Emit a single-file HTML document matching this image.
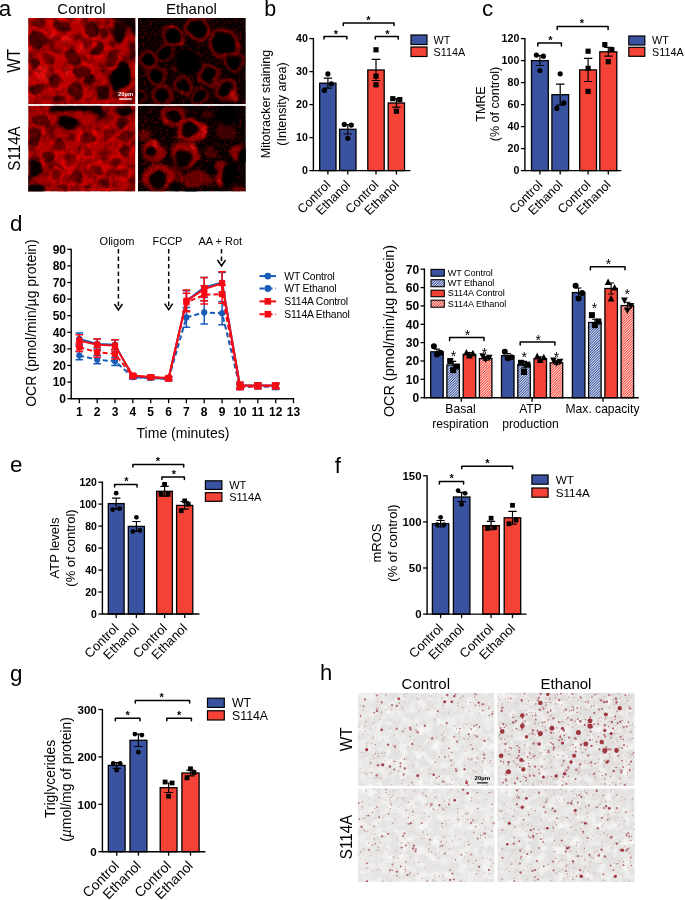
<!DOCTYPE html>
<html lang="en"><head><meta charset="utf-8"><title>Figure</title>
<style>html,body{margin:0;padding:0;background:#fff}svg{display:block}text{font-family:"Liberation Sans",sans-serif}</style>
</head><body>
<svg width="685" height="900" viewBox="0 0 685 900" font-family="'Liberation Sans', sans-serif" fill="#000">
<defs>
<filter id="b1" x="-30%" y="-30%" width="160%" height="160%"><feGaussianBlur stdDeviation="0.9"/></filter>
<filter id="b2" x="-40%" y="-40%" width="180%" height="180%"><feGaussianBlur stdDeviation="1.6"/></filter>
<filter id="b0" x="-5%" y="-5%" width="110%" height="110%"><feGaussianBlur stdDeviation="0.35"/></filter>
<filter id="htex" x="0" y="0" width="100%" height="100%"><feTurbulence type="fractalNoise" baseFrequency="0.12" numOctaves="3" seed="8"/><feColorMatrix type="matrix" values="0 0 0 0 1  0 0 0 0 1  0 0 0 0 1  1.6 0 0 0 -0.62"/></filter>
<filter id="mottle" x="0" y="0" width="100%" height="100%"><feTurbulence type="fractalNoise" baseFrequency="0.11" numOctaves="3" seed="21"/><feColorMatrix type="matrix" values="0 0 0 0 0  0 0 0 0 0  0 0 0 0 0  2.4 0 0 0 -0.95"/></filter>
<filter id="speck" x="0" y="0" width="100%" height="100%"><feTurbulence type="fractalNoise" baseFrequency="0.42" numOctaves="2" seed="9"/><feColorMatrix type="matrix" values="0 0 0 0 0.85  0 0 0 0 0  0 0 0 0 0  3.2 0 0 0 -1.75"/></filter>
<filter id="warp" x="-5%" y="-5%" width="110%" height="110%"><feTurbulence type="fractalNoise" baseFrequency="0.07" numOctaves="2" seed="5" result="t"/><feColorMatrix in="t" type="matrix" values="1 0 0 0 0  0 1 0 0 0  0 0 1 0 0  0 0 0 0 1" result="t2"/><feGaussianBlur in="t2" stdDeviation="1.6" result="t3"/><feDisplacementMap in="SourceGraphic" in2="t3" scale="9" xChannelSelector="R" yChannelSelector="G"/></filter>
<filter id="grain" x="0" y="0" width="100%" height="100%"><feTurbulence type="fractalNoise" baseFrequency="0.55" numOctaves="2" seed="3" result="n"/><feColorMatrix type="matrix" values="0 0 0 0 0  0 0 0 0 0  0 0 0 0 0  2.2 0 0 0 -0.75"/></filter>
<pattern id="hb" width="1.8" height="1.8" patternUnits="userSpaceOnUse" patternTransform="rotate(-45)"><rect width="1.8" height="1.8" fill="#fff"/><rect width="1.8" height="1.05" fill="#3A53A0"/></pattern>
<pattern id="hr" width="1.8" height="1.8" patternUnits="userSpaceOnUse" patternTransform="rotate(-45)"><rect width="1.8" height="1.8" fill="#fff"/><rect width="1.8" height="1.05" fill="#F44336"/></pattern>
</defs>
<rect width="685" height="900" fill="#fff"/>
<text x="81.5" y="14" font-size="15" text-anchor="middle">Control</text>
<text x="191.5" y="14" font-size="15" text-anchor="middle">Ethanol</text>
<text transform="translate(20.4,60.7) rotate(-90) scale(1,1.13)" font-size="15.5" text-anchor="middle">WT</text>
<text transform="translate(20,148.5) rotate(-90) scale(1,1.13)" font-size="15.2" text-anchor="middle">S114A</text>
<svg x="28.2" y="18" width="107.2" height="86.19999999999999" viewBox="0 0 107.2 86.19999999999999" overflow="hidden">
<rect width="107.2" height="86.19999999999999" fill="#c00000"/>
<g filter="url(#warp)">
<ellipse cx="8.9" cy="22.2" rx="11.4" ry="12.4" fill="#ff0000" opacity="0.8" filter="url(#b1)"/>
<ellipse cx="12.3" cy="4.5" rx="9.7" ry="7.1" fill="#ff0000" opacity="0.6" filter="url(#b1)"/>
<ellipse cx="34.9" cy="7.9" rx="11.1" ry="10.1" fill="#ff0000" opacity="0.8" filter="url(#b1)"/>
<ellipse cx="63.5" cy="11.2" rx="10.1" ry="11.1" fill="#ff0000" opacity="0.8" filter="url(#b1)"/>
<ellipse cx="76.5" cy="15.8" rx="6.7" ry="8.7" fill="#ff0000" opacity="0.6" filter="url(#b1)"/>
<ellipse cx="21.5" cy="39.8" rx="8.7" ry="8.7" fill="#ff0000" opacity="0.6" filter="url(#b1)"/>
<ellipse cx="45.0" cy="39.8" rx="10.4" ry="10.4" fill="#ff0000" opacity="0.8" filter="url(#b1)"/>
<ellipse cx="68.8" cy="31.4" rx="11.8" ry="8.1" fill="#ff0000" opacity="0.9" filter="url(#b1)" transform="rotate(-35 68.8 31.4)"/>
<ellipse cx="84.9" cy="39.8" rx="7.7" ry="11.1" fill="#ff0000" opacity="0.8" filter="url(#b1)" transform="rotate(25 84.9 39.8)"/>
<ellipse cx="6.4" cy="46.5" rx="7.4" ry="8.4" fill="#ff0000" opacity="0.6" filter="url(#b1)"/>
<ellipse cx="53.4" cy="53.2" rx="11.4" ry="9.7" fill="#ff0000" opacity="0.85" filter="url(#b1)"/>
<ellipse cx="26.5" cy="63.3" rx="9.4" ry="10.1" fill="#ff0000" opacity="0.8" filter="url(#b1)"/>
<ellipse cx="62.6" cy="61.9" rx="8.1" ry="7.1" fill="#ff0000" opacity="0.5" filter="url(#b1)"/>
<ellipse cx="8.1" cy="71.2" rx="9.7" ry="8.1" fill="#ff0000" opacity="0.7" filter="url(#b1)"/>
<ellipse cx="46.7" cy="72.0" rx="10.1" ry="11.1" fill="#ff0000" opacity="0.8" filter="url(#b1)"/>
<ellipse cx="74.4" cy="73.7" rx="8.7" ry="10.4" fill="#ff0000" opacity="0.6" filter="url(#b1)"/>
<ellipse cx="29.9" cy="81.4" rx="8.4" ry="5.7" fill="#ff0000" opacity="0.6" filter="url(#b1)"/>
<ellipse cx="90.3" cy="77.2" rx="6.7" ry="6.4" fill="#ff0000" opacity="0.5" filter="url(#b1)"/>
<ellipse cx="8.9" cy="22.2" rx="8.5" ry="9.6" fill="#2a0000" opacity="0.76" filter="url(#b1)"/>
<ellipse cx="12.3" cy="4.5" rx="7.4" ry="4.4" fill="#2a0000" opacity="0.6100000000000001" filter="url(#b1)"/>
<ellipse cx="34.9" cy="7.9" rx="8.1" ry="7.0" fill="#2a0000" opacity="0.71" filter="url(#b1)"/>
<ellipse cx="63.5" cy="11.2" rx="7.4" ry="8.5" fill="#2a0000" opacity="0.76" filter="url(#b1)"/>
<ellipse cx="76.5" cy="15.8" rx="4.8" ry="7.0" fill="#2a0000" opacity="0.6599999999999999" filter="url(#b1)"/>
<ellipse cx="21.5" cy="39.8" rx="6.3" ry="6.3" fill="#2a0000" opacity="0.56" filter="url(#b1)"/>
<ellipse cx="45.0" cy="39.8" rx="7.4" ry="7.4" fill="#2a0000" opacity="0.71" filter="url(#b1)"/>
<ellipse cx="68.8" cy="31.4" rx="9.2" ry="5.2" fill="#2a0000" opacity="0.81" filter="url(#b1)" transform="rotate(-35 68.8 31.4)"/>
<ellipse cx="84.9" cy="39.8" rx="5.2" ry="8.9" fill="#2a0000" opacity="0.71" filter="url(#b1)" transform="rotate(25 84.9 39.8)"/>
<ellipse cx="6.4" cy="46.5" rx="5.2" ry="6.3" fill="#2a0000" opacity="0.76" filter="url(#b1)"/>
<ellipse cx="53.4" cy="53.2" rx="8.5" ry="6.6" fill="#2a0000" opacity="0.71" filter="url(#b1)"/>
<ellipse cx="26.5" cy="63.3" rx="6.6" ry="7.4" fill="#2a0000" opacity="0.6599999999999999" filter="url(#b1)"/>
<ellipse cx="62.6" cy="61.9" rx="6.3" ry="5.2" fill="#2a0000" opacity="0.9099999999999999" filter="url(#b1)"/>
<ellipse cx="8.1" cy="71.2" rx="7.4" ry="5.5" fill="#2a0000" opacity="0.6599999999999999" filter="url(#b1)"/>
<ellipse cx="46.7" cy="72.0" rx="7.4" ry="8.5" fill="#2a0000" opacity="0.71" filter="url(#b1)"/>
<ellipse cx="74.4" cy="73.7" rx="6.6" ry="8.5" fill="#2a0000" opacity="0.9099999999999999" filter="url(#b1)"/>
<ellipse cx="29.9" cy="81.4" rx="6.6" ry="3.7" fill="#2a0000" opacity="0.76" filter="url(#b1)"/>
<ellipse cx="90.3" cy="77.2" rx="5.2" ry="4.8" fill="#2a0000" opacity="0.6599999999999999" filter="url(#b1)"/>
<ellipse cx="15.1" cy="55.7" rx="8.1" ry="8.1" fill="#ff0a0a" opacity="0.85" filter="url(#b2)"/>
<ellipse cx="35.8" cy="22.2" rx="5.0" ry="5.0" fill="#ff0a0a" opacity="0.85" filter="url(#b2)"/>
<ellipse cx="51.7" cy="2.0" rx="3.7" ry="3.7" fill="#ff0a0a" opacity="0.85" filter="url(#b2)"/>
<ellipse cx="38.3" cy="53.2" rx="3.7" ry="3.7" fill="#ff0a0a" opacity="0.85" filter="url(#b2)"/>
<ellipse cx="23.2" cy="17.1" rx="3.7" ry="3.7" fill="#ff0a0a" opacity="0.85" filter="url(#b2)"/>
<ellipse cx="55.1" cy="28.9" rx="3.4" ry="3.4" fill="#ff0a0a" opacity="0.85" filter="url(#b2)"/>
<ellipse cx="91.2" cy="13.8" rx="7.1" ry="9.7" fill="#0a0000" opacity="0.92" filter="url(#b1)" transform="rotate(10 91.2 13.8)"/>
<path d="M78.6 -2H109.2V25.2Q103.7 6.7 78.6 -2Z" fill="#000" opacity=".9" filter="url(#b2)"/>
<ellipse cx="103.7" cy="35.6" rx="4.2" ry="10.1" fill="#200000" opacity="0.6" filter="url(#b2)"/>
<ellipse cx="92.8" cy="58.8" rx="10.4" ry="15.4" fill="#040000" opacity="1" filter="url(#b1)" transform="rotate(18 92.8 58.8)"/>
</g>
<rect width="107.2" height="86.19999999999999" filter="url(#mottle)" opacity=".55"/>
<rect width="107.2" height="86.19999999999999" fill="#000" filter="url(#grain)" opacity=".14"/>
<rect x="91" y="80.4" width="12.7" height="1.3" fill="#fff"/>
<text x="97.4" y="78.4" font-size="5.8" font-weight="bold" fill="#fff" text-anchor="middle">20µm</text>
</svg>
<svg x="138.0" y="18" width="107.8" height="86.19999999999999" viewBox="0 0 107.8 86.19999999999999" overflow="hidden">
<rect width="107.8" height="86.19999999999999" fill="#0a0000"/>
<g filter="url(#warp)">
<ellipse cx="34.4" cy="18.8" rx="12.3" ry="11.8" fill="#900000" opacity="0.36" filter="url(#b2)"/>
<ellipse cx="59.6" cy="11.2" rx="14.1" ry="13.4" fill="#900000" opacity="0.36" filter="url(#b2)"/>
<ellipse cx="86.5" cy="25.5" rx="16.7" ry="15.9" fill="#900000" opacity="0.36" filter="url(#b2)"/>
<ellipse cx="28.5" cy="34.7" rx="9.7" ry="9.2" fill="#900000" opacity="0.36" filter="url(#b2)"/>
<ellipse cx="10.1" cy="42.3" rx="11.5" ry="10.9" fill="#900000" opacity="0.36" filter="url(#b2)"/>
<ellipse cx="50.4" cy="44.0" rx="12.7" ry="12.1" fill="#900000" opacity="0.36" filter="url(#b2)"/>
<ellipse cx="95.7" cy="44.0" rx="10.6" ry="10.1" fill="#900000" opacity="0.36" filter="url(#b2)"/>
<ellipse cx="71.3" cy="56.6" rx="12.3" ry="11.8" fill="#900000" opacity="0.36" filter="url(#b2)"/>
<ellipse cx="18.5" cy="58.3" rx="10.6" ry="10.1" fill="#900000" opacity="0.36" filter="url(#b2)"/>
<ellipse cx="45.3" cy="66.6" rx="10.6" ry="10.1" fill="#900000" opacity="0.36" filter="url(#b2)"/>
<ellipse cx="24.3" cy="77.6" rx="11.5" ry="10.9" fill="#900000" opacity="0.36" filter="url(#b2)"/>
<ellipse cx="61.3" cy="79.2" rx="9.7" ry="9.2" fill="#900000" opacity="0.36" filter="url(#b2)"/>
<ellipse cx="87.3" cy="72.5" rx="12.3" ry="11.8" fill="#900000" opacity="0.36" filter="url(#b2)"/>
<ellipse cx="1.7" cy="79.2" rx="7.9" ry="7.6" fill="#900000" opacity="0.36" filter="url(#b2)"/>
<ellipse cx="34.4" cy="18.8" rx="10.1" ry="9.6" fill="none" stroke="#d00404" stroke-width="2.4" opacity="0.5" filter="url(#b1)"/>
<ellipse cx="59.6" cy="11.2" rx="11.3" ry="10.8" fill="none" stroke="#d00404" stroke-width="2.9" opacity="0.5" filter="url(#b1)"/>
<ellipse cx="86.5" cy="25.5" rx="14.0" ry="13.3" fill="none" stroke="#d00404" stroke-width="2.7" opacity="0.5" filter="url(#b1)"/>
<ellipse cx="28.5" cy="34.7" rx="8.1" ry="7.7" fill="none" stroke="#d00404" stroke-width="1.5" opacity="0.5" filter="url(#b1)"/>
<ellipse cx="10.1" cy="42.3" rx="9.2" ry="8.8" fill="none" stroke="#d00404" stroke-width="2.4" opacity="0.5" filter="url(#b1)"/>
<ellipse cx="50.4" cy="44.0" rx="12.9" ry="12.3" fill="none" stroke="#d00404" stroke-width="-1.2" opacity="0.5" filter="url(#b1)"/>
<ellipse cx="95.7" cy="44.0" rx="8.8" ry="8.4" fill="none" stroke="#d00404" stroke-width="1.8" opacity="0.5" filter="url(#b1)"/>
<ellipse cx="71.3" cy="56.6" rx="9.7" ry="9.2" fill="none" stroke="#d00404" stroke-width="2.9" opacity="0.5" filter="url(#b1)"/>
<ellipse cx="18.5" cy="58.3" rx="8.6" ry="8.1" fill="none" stroke="#d00404" stroke-width="2.1" opacity="0.5" filter="url(#b1)"/>
<ellipse cx="45.3" cy="66.6" rx="8.4" ry="8.0" fill="none" stroke="#d00404" stroke-width="2.4" opacity="0.5" filter="url(#b1)"/>
<ellipse cx="24.3" cy="77.6" rx="9.2" ry="8.8" fill="none" stroke="#d00404" stroke-width="2.4" opacity="0.5" filter="url(#b1)"/>
<ellipse cx="61.3" cy="79.2" rx="8.0" ry="7.6" fill="none" stroke="#d00404" stroke-width="1.8" opacity="0.5" filter="url(#b1)"/>
<ellipse cx="87.3" cy="72.5" rx="9.7" ry="9.2" fill="none" stroke="#d00404" stroke-width="2.9" opacity="0.5" filter="url(#b1)"/>
<ellipse cx="1.7" cy="79.2" rx="6.7" ry="6.4" fill="none" stroke="#d00404" stroke-width="1.2" opacity="0.5" filter="url(#b1)"/>
<ellipse cx="42.0" cy="25.5" rx="2.4" ry="2.4" fill="#ff0808" opacity="0.65" filter="url(#b2)"/>
<ellipse cx="99.0" cy="27.2" rx="2.4" ry="2.4" fill="#ff0808" opacity="0.65" filter="url(#b2)"/>
<ellipse cx="96.5" cy="78.4" rx="5.0" ry="5.0" fill="#ff0808" opacity="0.65" filter="url(#b2)"/>
<ellipse cx="58.8" cy="38.1" rx="3.4" ry="3.4" fill="#ff0808" opacity="0.65" filter="url(#b2)"/>
<ellipse cx="68.0" cy="14.6" rx="2.7" ry="2.7" fill="#ff0808" opacity="0.65" filter="url(#b2)"/>
<ellipse cx="34.4" cy="9.1" rx="2.7" ry="2.7" fill="#ff0808" opacity="0.65" filter="url(#b2)"/>
<ellipse cx="76.4" cy="20.5" rx="2.4" ry="2.4" fill="#ff0808" opacity="0.65" filter="url(#b2)"/>
<ellipse cx="35.3" cy="52.4" rx="2.0" ry="2.0" fill="#ff0808" opacity="0.65" filter="url(#b2)"/>
<rect x="-5" y="-5" width="117.2" height="95.6" filter="url(#speck)" opacity=".5"/>
<ellipse cx="34.4" cy="18.8" rx="8.2" ry="7.8" fill="#000" opacity="0.96" filter="url(#b1)"/>
<ellipse cx="59.6" cy="11.2" rx="9.0" ry="8.6" fill="#000" opacity="0.96" filter="url(#b1)"/>
<ellipse cx="86.5" cy="25.5" rx="11.8" ry="11.2" fill="#000" opacity="0.96" filter="url(#b1)"/>
<ellipse cx="28.5" cy="34.7" rx="6.9" ry="6.6" fill="#000" opacity="0.96" filter="url(#b1)"/>
<ellipse cx="10.1" cy="42.3" rx="7.4" ry="7.0" fill="#000" opacity="0.96" filter="url(#b1)"/>
<ellipse cx="50.4" cy="44.0" rx="13.5" ry="12.8" fill="#000" opacity="0.96" filter="url(#b1)"/>
<ellipse cx="95.7" cy="44.0" rx="7.4" ry="7.0" fill="#000" opacity="0.96" filter="url(#b1)"/>
<ellipse cx="71.3" cy="56.6" rx="7.4" ry="7.0" fill="#000" opacity="0.96" filter="url(#b1)"/>
<ellipse cx="18.5" cy="58.3" rx="6.9" ry="6.6" fill="#000" opacity="0.96" filter="url(#b1)"/>
<ellipse cx="45.3" cy="66.6" rx="6.6" ry="6.2" fill="#000" opacity="0.96" filter="url(#b1)"/>
<ellipse cx="24.3" cy="77.6" rx="7.4" ry="7.0" fill="#000" opacity="0.96" filter="url(#b1)"/>
<ellipse cx="61.3" cy="79.2" rx="6.6" ry="6.2" fill="#000" opacity="0.96" filter="url(#b1)"/>
<ellipse cx="87.3" cy="72.5" rx="7.4" ry="7.0" fill="#000" opacity="0.96" filter="url(#b1)"/>
<ellipse cx="1.7" cy="79.2" rx="5.8" ry="5.5" fill="#000" opacity="0.96" filter="url(#b1)"/>
</g>
<rect width="107.8" height="86.19999999999999" fill="#000" filter="url(#grain)" opacity=".4"/>
</svg>
<svg x="28.2" y="105.7" width="107.2" height="85.8" viewBox="0 0 107.2 85.8" overflow="hidden">
<rect width="107.2" height="85.8" fill="#b80000"/>
<g filter="url(#warp)">
<ellipse cx="6.4" cy="31.9" rx="9.7" ry="11.4" fill="#ff0000" opacity="0.8" filter="url(#b1)"/>
<ellipse cx="60.1" cy="32.4" rx="10.4" ry="9.4" fill="#ff0000" opacity="0.95" filter="url(#b1)"/>
<ellipse cx="41.6" cy="53.4" rx="9.2" ry="9.2" fill="#ff0000" opacity="0.95" filter="url(#b1)"/>
<ellipse cx="59.3" cy="46.7" rx="8.6" ry="6.9" fill="#ff0000" opacity="0.9" filter="url(#b1)"/>
<ellipse cx="80.2" cy="29.9" rx="7.7" ry="8.6" fill="#ff0000" opacity="0.8" filter="url(#b1)"/>
<ellipse cx="97.0" cy="29.9" rx="9.4" ry="8.6" fill="#ff0000" opacity="0.8" filter="url(#b1)"/>
<ellipse cx="19.8" cy="51.7" rx="7.7" ry="8.6" fill="#ff0000" opacity="0.8" filter="url(#b1)"/>
<ellipse cx="28.2" cy="68.5" rx="7.7" ry="7.7" fill="#ff0000" opacity="0.8" filter="url(#b1)"/>
<ellipse cx="48.3" cy="70.2" rx="8.9" ry="8.9" fill="#ff0000" opacity="0.9" filter="url(#b1)"/>
<ellipse cx="70.2" cy="63.5" rx="8.9" ry="8.1" fill="#ff0000" opacity="0.9" filter="url(#b1)"/>
<ellipse cx="87.0" cy="56.7" rx="7.7" ry="7.7" fill="#ff0000" opacity="0.9" filter="url(#b1)"/>
<ellipse cx="95.4" cy="68.5" rx="7.7" ry="7.7" fill="#ff0000" opacity="0.9" filter="url(#b1)"/>
<ellipse cx="76.0" cy="76.9" rx="7.7" ry="8.6" fill="#ff0000" opacity="0.8" filter="url(#b1)"/>
<ellipse cx="97.0" cy="45.0" rx="8.6" ry="7.7" fill="#ff0000" opacity="0.8" filter="url(#b1)"/>
<ellipse cx="31.6" cy="40.3" rx="8.6" ry="9.4" fill="#ff0000" opacity="0.7" filter="url(#b1)"/>
<ellipse cx="34.9" cy="82.3" rx="7.1" ry="5.4" fill="#ff0000" opacity="0.7" filter="url(#b1)"/>
<ellipse cx="93.7" cy="16.5" rx="9.1" ry="8.2" fill="#ff0000" opacity="0.6" filter="url(#b1)"/>
<ellipse cx="13.1" cy="15.1" rx="10.7" ry="9.1" fill="#ff0000" opacity="0.5" filter="url(#b1)"/>
<ellipse cx="60.1" cy="81.1" rx="7.4" ry="5.7" fill="#ff0000" opacity="0.7" filter="url(#b1)"/>
<ellipse cx="6.4" cy="31.9" rx="7.0" ry="8.9" fill="#2a0000" opacity="0.71" filter="url(#b1)"/>
<ellipse cx="60.1" cy="32.4" rx="7.0" ry="5.9" fill="#2a0000" opacity="0.6100000000000001" filter="url(#b1)"/>
<ellipse cx="41.6" cy="53.4" rx="6.1" ry="6.1" fill="#2a0000" opacity="0.56" filter="url(#b1)"/>
<ellipse cx="59.3" cy="46.7" rx="6.1" ry="4.2" fill="#2a0000" opacity="0.56" filter="url(#b1)"/>
<ellipse cx="80.2" cy="29.9" rx="5.2" ry="6.1" fill="#2a0000" opacity="0.56" filter="url(#b1)"/>
<ellipse cx="97.0" cy="29.9" rx="7.0" ry="6.1" fill="#2a0000" opacity="0.6599999999999999" filter="url(#b1)"/>
<ellipse cx="19.8" cy="51.7" rx="5.2" ry="6.1" fill="#2a0000" opacity="0.6599999999999999" filter="url(#b1)"/>
<ellipse cx="28.2" cy="68.5" rx="5.2" ry="5.2" fill="#2a0000" opacity="0.6100000000000001" filter="url(#b1)"/>
<ellipse cx="48.3" cy="70.2" rx="6.1" ry="6.1" fill="#2a0000" opacity="0.6599999999999999" filter="url(#b1)"/>
<ellipse cx="70.2" cy="63.5" rx="6.1" ry="5.2" fill="#2a0000" opacity="0.6100000000000001" filter="url(#b1)"/>
<ellipse cx="87.0" cy="56.7" rx="5.2" ry="5.2" fill="#2a0000" opacity="0.56" filter="url(#b1)"/>
<ellipse cx="95.4" cy="68.5" rx="5.2" ry="5.2" fill="#2a0000" opacity="0.56" filter="url(#b1)"/>
<ellipse cx="76.0" cy="76.9" rx="5.2" ry="6.1" fill="#2a0000" opacity="0.6599999999999999" filter="url(#b1)"/>
<ellipse cx="97.0" cy="45.0" rx="6.1" ry="5.2" fill="#2a0000" opacity="0.6100000000000001" filter="url(#b1)"/>
<ellipse cx="31.6" cy="40.3" rx="6.1" ry="7.0" fill="#2a0000" opacity="0.6599999999999999" filter="url(#b1)"/>
<ellipse cx="34.9" cy="82.3" rx="5.2" ry="3.3" fill="#2a0000" opacity="0.6599999999999999" filter="url(#b1)"/>
<ellipse cx="93.7" cy="16.5" rx="7.0" ry="6.1" fill="#2a0000" opacity="0.76" filter="url(#b1)"/>
<ellipse cx="13.1" cy="15.1" rx="8.9" ry="7.0" fill="#2a0000" opacity="0.6599999999999999" filter="url(#b1)"/>
<ellipse cx="60.1" cy="81.1" rx="5.5" ry="3.7" fill="#2a0000" opacity="0.56" filter="url(#b1)"/>
<ellipse cx="34.9" cy="1.3" rx="10.1" ry="3.7" fill="#050000" opacity="0.95" filter="url(#b1)"/>
<ellipse cx="51.7" cy="2.7" rx="11.8" ry="3.4" fill="#050000" opacity="0.95" filter="url(#b1)"/>
<ellipse cx="68.5" cy="3.0" rx="8.4" ry="4.0" fill="#050000" opacity="0.9" filter="url(#b1)"/>
<ellipse cx="75.2" cy="8.9" rx="5.0" ry="5.0" fill="#050000" opacity="0.8" filter="url(#b1)"/>
<ellipse cx="26.5" cy="4.7" rx="4.2" ry="3.4" fill="#050000" opacity="0.8" filter="url(#b1)"/>
<ellipse cx="39.1" cy="17.3" rx="11.1" ry="7.1" fill="#050000" opacity="0.96" filter="url(#b1)"/>
<ellipse cx="97.0" cy="5.0" rx="7.7" ry="5.4" fill="#050000" opacity="0.92" filter="url(#b1)"/>
<ellipse cx="6.4" cy="62.1" rx="6.4" ry="8.7" fill="#050000" opacity="0.92" filter="url(#b1)"/>
<ellipse cx="7.2" cy="83.9" rx="10.1" ry="4.4" fill="#050000" opacity="0.95" filter="url(#b1)"/>
<ellipse cx="-0.3" cy="75.2" rx="3.4" ry="6.7" fill="#050000" opacity="0.8" filter="url(#b1)"/>
</g>
<rect width="107.2" height="85.8" filter="url(#mottle)" opacity=".5"/>
<rect width="107.2" height="85.8" fill="#000" filter="url(#grain)" opacity=".15"/>
</svg>
<svg x="138.0" y="105.7" width="107.8" height="85.8" viewBox="0 0 107.8 85.8" overflow="hidden">
<rect width="107.8" height="85.8" fill="#090000"/>
<g filter="url(#warp)">
<ellipse cx="36.1" cy="10.6" rx="12.1" ry="11.1" fill="#d00404" opacity="0.75" filter="url(#b2)"/>
<ellipse cx="53.7" cy="24.8" rx="14.8" ry="11.4" fill="#d00404" opacity="0.9" filter="url(#b2)"/>
<ellipse cx="15.1" cy="45.0" rx="12.1" ry="11.1" fill="#d00404" opacity="0.8" filter="url(#b2)"/>
<ellipse cx="47.0" cy="49.2" rx="14.3" ry="12.6" fill="#d00404" opacity="0.8" filter="url(#b2)"/>
<ellipse cx="20.1" cy="71.8" rx="15.9" ry="14.3" fill="#d00404" opacity="0.8" filter="url(#b2)"/>
<ellipse cx="58.8" cy="73.5" rx="15.1" ry="8.4" fill="#d00404" opacity="0.55" filter="url(#b2)"/>
<ellipse cx="83.1" cy="68.5" rx="7.6" ry="13.4" fill="#d00404" opacity="0.7" filter="url(#b2)"/>
<ellipse cx="99.0" cy="46.7" rx="7.6" ry="7.6" fill="#d00404" opacity="0.7" filter="url(#b2)"/>
<ellipse cx="73.9" cy="46.7" rx="6.7" ry="6.7" fill="#d00404" opacity="0.35" filter="url(#b2)"/>
<ellipse cx="89.0" cy="25.7" rx="10.1" ry="8.4" fill="#d00404" opacity="0.3" filter="url(#b2)"/>
<ellipse cx="6.7" cy="29.9" rx="6.7" ry="4.2" fill="#d00404" opacity="0.55" filter="url(#b2)"/>
<ellipse cx="36.9" cy="70.2" rx="8.4" ry="10.1" fill="#d00404" opacity="0.45" filter="url(#b2)"/>
<ellipse cx="100.7" cy="83.6" rx="6.7" ry="5.0" fill="#d00404" opacity="0.5" filter="url(#b2)"/>
<ellipse cx="70.5" cy="8.1" rx="6.7" ry="4.2" fill="#d00404" opacity="0.3" filter="url(#b2)"/>
<ellipse cx="64.6" cy="24.8" rx="3.7" ry="3.7" fill="#ff0a0a" opacity="0.7" filter="url(#b2)"/>
<ellipse cx="18.5" cy="36.6" rx="4.2" ry="4.2" fill="#ff0a0a" opacity="0.7" filter="url(#b2)"/>
<ellipse cx="55.4" cy="40.3" rx="3.7" ry="3.7" fill="#ff0a0a" opacity="0.7" filter="url(#b2)"/>
<ellipse cx="28.2" cy="15.1" rx="2.5" ry="2.5" fill="#ff0a0a" opacity="0.7" filter="url(#b2)"/>
<ellipse cx="81.4" cy="74.4" rx="2.7" ry="2.7" fill="#ff0a0a" opacity="0.7" filter="url(#b2)"/>
<ellipse cx="42.8" cy="32.4" rx="2.4" ry="2.4" fill="#ff0a0a" opacity="0.7" filter="url(#b2)"/>
<rect x="-5" y="-5" width="117.2" height="95.6" filter="url(#speck)" opacity=".55"/>
<ellipse cx="36.1" cy="10.6" rx="7.6" ry="7.6" fill="#000" opacity="0.95" filter="url(#b1)"/>
<ellipse cx="50.4" cy="24.8" rx="7.6" ry="7.6" fill="#000" opacity="0.95" filter="url(#b1)"/>
<ellipse cx="12.6" cy="46.7" rx="6.7" ry="5.9" fill="#000" opacity="0.95" filter="url(#b1)"/>
<ellipse cx="44.5" cy="52.5" rx="8.4" ry="8.4" fill="#000" opacity="0.95" filter="url(#b1)"/>
<ellipse cx="20.1" cy="74.4" rx="9.2" ry="10.1" fill="#000" opacity="0.95" filter="url(#b1)"/>
<ellipse cx="91.5" cy="70.2" rx="7.6" ry="11.8" fill="#000" opacity="0.95" filter="url(#b1)"/>
<ellipse cx="89.0" cy="8.1" rx="10.4" ry="8.4" fill="#000" opacity="0.95" filter="url(#b1)"/>
<ellipse cx="105.8" cy="51.7" rx="5.0" ry="8.4" fill="#000" opacity="0.95" filter="url(#b1)"/>
<ellipse cx="53.7" cy="85.3" rx="7.6" ry="5.0" fill="#000" opacity="0.95" filter="url(#b1)"/>
<ellipse cx="36.9" cy="81.9" rx="5.0" ry="5.0" fill="#000" opacity="0.95" filter="url(#b1)"/>
<ellipse cx="75.5" cy="61.8" rx="4.2" ry="5.9" fill="#000" opacity="0.95" filter="url(#b1)"/>
</g>
<rect width="107.8" height="85.8" fill="#000" filter="url(#grain)" opacity=".4"/>
</svg>
<text x="-1.2" y="15.5" font-size="22.4">a</text>
<text x="264.2" y="16" font-size="21.5">b</text>
<text x="482" y="15.8" font-size="22.4">c</text>
<text x="10.1" y="230.8" font-size="22.4">d</text>
<text x="10" y="472.2" font-size="22.4">e</text>
<text x="334.8" y="472.5" font-size="22.4">f</text>
<text x="9.9" y="680.5" font-size="22.4">g</text>
<text x="320" y="680" font-size="22">h</text>
<rect x="319.7" y="83.2" width="16.3" height="87.4" fill="#3A53A0" stroke="#000" stroke-width="1.3"/>
<path d="M327.9 78.2V88.1M323.7 78.2H332.1M323.7 88.1H332.1" stroke="#000" stroke-width="1.2" fill="none"/>
<path d="M327.9 170.6V174.6" stroke="#000" stroke-width="1.3"/>
<rect x="339.6" y="129.3" width="16.4" height="41.2" fill="#3A53A0" stroke="#000" stroke-width="1.3"/>
<path d="M347.8 124.7V134.0M343.6 124.7H352.0M343.6 134.0H352.0" stroke="#000" stroke-width="1.2" fill="none"/>
<path d="M347.8 170.6V174.6" stroke="#000" stroke-width="1.3"/>
<rect x="367.8" y="70.0" width="16.4" height="100.6" fill="#F44336" stroke="#000" stroke-width="1.3"/>
<path d="M376.0 59.4V80.5M371.8 59.4H380.2M371.8 80.5H380.2" stroke="#000" stroke-width="1.2" fill="none"/>
<path d="M376.0 170.6V174.6" stroke="#000" stroke-width="1.3"/>
<rect x="388.2" y="103.0" width="16.3" height="67.6" fill="#F44336" stroke="#000" stroke-width="1.3"/>
<path d="M396.4 98.7V107.2M392.2 98.7H400.6M392.2 107.2H400.6" stroke="#000" stroke-width="1.2" fill="none"/>
<path d="M396.4 170.6V174.6" stroke="#000" stroke-width="1.3"/>
<path d="M313.4 38.0V170.6H410.4" stroke="#000" stroke-width="1.4" fill="none"/>
<path d="M309.4 170.6H313.4" stroke="#000" stroke-width="1.3"/>
<text x="307.8" y="174.4" font-size="10.6" font-weight="bold" text-anchor="end">0</text>
<path d="M309.4 137.6H313.4" stroke="#000" stroke-width="1.3"/>
<text x="307.8" y="141.4" font-size="10.6" font-weight="bold" text-anchor="end">10</text>
<path d="M309.4 104.6H313.4" stroke="#000" stroke-width="1.3"/>
<text x="307.8" y="108.4" font-size="10.6" font-weight="bold" text-anchor="end">20</text>
<path d="M309.4 71.6H313.4" stroke="#000" stroke-width="1.3"/>
<text x="307.8" y="75.4" font-size="10.6" font-weight="bold" text-anchor="end">30</text>
<path d="M309.4 38.6H313.4" stroke="#000" stroke-width="1.3"/>
<text x="307.8" y="42.4" font-size="10.6" font-weight="bold" text-anchor="end">40</text>
<text transform="translate(331.2,185.6) rotate(-45)" font-size="12.6" text-anchor="end">Control</text>
<text transform="translate(351.1,185.6) rotate(-45)" font-size="12.6" text-anchor="end">Ethanol</text>
<text transform="translate(379.3,185.6) rotate(-45)" font-size="12.6" text-anchor="end">Control</text>
<text transform="translate(399.7,185.6) rotate(-45)" font-size="12.6" text-anchor="end">Ethanol</text>
<circle cx="327.9" cy="73.9" r="2.6" fill="#000"/>
<circle cx="331.4" cy="83.8" r="2.6" fill="#000"/>
<circle cx="324.4" cy="90.4" r="2.6" fill="#000"/>
<circle cx="344.3" cy="124.4" r="2.6" fill="#000"/>
<circle cx="351.3" cy="125.1" r="2.6" fill="#000"/>
<circle cx="347.8" cy="138.3" r="2.6" fill="#000"/>
<rect x="373.4" y="47.2" width="5.2" height="5.2" fill="#000"/>
<rect x="373.4" y="73.6" width="5.2" height="5.2" fill="#000"/>
<rect x="373.4" y="82.2" width="5.2" height="5.2" fill="#000"/>
<rect x="390.2" y="96.1" width="5.2" height="5.2" fill="#000"/>
<rect x="397.2" y="97.0" width="5.2" height="5.2" fill="#000"/>
<rect x="393.8" y="108.6" width="5.2" height="5.2" fill="#000"/>
<path d="M324.0 39.1V36.6H346.8V39.1" stroke="#000" stroke-width="1.5" stroke-linejoin="round" stroke-linecap="round" fill="none"/>
<text x="336.0" y="37.5" font-size="11" font-weight="bold" text-anchor="middle">*</text>
<path d="M343.3 25.6V23.1H394.0V25.6" stroke="#000" stroke-width="1.5" stroke-linejoin="round" stroke-linecap="round" fill="none"/>
<text x="368.3" y="24.1" font-size="11" font-weight="bold" text-anchor="middle">*</text>
<path d="M375.3 39.1V36.6H398.2V39.1" stroke="#000" stroke-width="1.5" stroke-linejoin="round" stroke-linecap="round" fill="none"/>
<text x="387.5" y="37.5" font-size="11" font-weight="bold" text-anchor="middle">*</text>
<rect x="411.0" y="35.0" width="16.0" height="9.5" fill="#3A53A0" stroke="#000" stroke-width="1.2"/>
<rect x="411.0" y="47.0" width="16.0" height="9.5" fill="#F44336" stroke="#000" stroke-width="1.2"/>
<text x="433.5" y="43.6" font-size="10.8">WT</text>
<text x="433.5" y="55.6" font-size="10.8">S114A</text>
<text transform="translate(270.0,104.0) rotate(-90)" font-size="12.5" text-anchor="middle">Mitotracker staining</text>
<text transform="translate(286.3,104.0) rotate(-90)" font-size="12.5" text-anchor="middle">(Intensity area)</text>
<rect x="531.5" y="60.6" width="16.8" height="110.0" fill="#3A53A0" stroke="#000" stroke-width="1.3"/>
<path d="M539.9 55.6V65.5M535.7 55.6H544.1M535.7 65.5H544.1" stroke="#000" stroke-width="1.2" fill="none"/>
<path d="M539.9 170.6V174.6" stroke="#000" stroke-width="1.3"/>
<rect x="551.9" y="94.7" width="16.7" height="75.9" fill="#3A53A0" stroke="#000" stroke-width="1.3"/>
<path d="M560.2 84.2V105.1M556.0 84.2H564.5M556.0 105.1H564.5" stroke="#000" stroke-width="1.2" fill="none"/>
<path d="M560.2 170.6V174.6" stroke="#000" stroke-width="1.3"/>
<rect x="579.7" y="69.9" width="16.8" height="100.7" fill="#F44336" stroke="#000" stroke-width="1.3"/>
<path d="M588.1 58.4V81.5M583.9 58.4H592.3M583.9 81.5H592.3" stroke="#000" stroke-width="1.2" fill="none"/>
<path d="M588.1 170.6V174.6" stroke="#000" stroke-width="1.3"/>
<rect x="599.8" y="51.8" width="17.0" height="118.8" fill="#F44336" stroke="#000" stroke-width="1.3"/>
<path d="M608.3 47.4V56.2M604.1 47.4H612.5M604.1 56.2H612.5" stroke="#000" stroke-width="1.2" fill="none"/>
<path d="M608.3 170.6V174.6" stroke="#000" stroke-width="1.3"/>
<path d="M524.9 38.0V170.6H621.3" stroke="#000" stroke-width="1.4" fill="none"/>
<path d="M520.9 170.6H524.9" stroke="#000" stroke-width="1.3"/>
<text x="519.3" y="174.4" font-size="10.6" font-weight="bold" text-anchor="end">0</text>
<path d="M520.9 148.6H524.9" stroke="#000" stroke-width="1.3"/>
<text x="519.3" y="152.4" font-size="10.6" font-weight="bold" text-anchor="end">20</text>
<path d="M520.9 126.6H524.9" stroke="#000" stroke-width="1.3"/>
<text x="519.3" y="130.4" font-size="10.6" font-weight="bold" text-anchor="end">40</text>
<path d="M520.9 104.6H524.9" stroke="#000" stroke-width="1.3"/>
<text x="519.3" y="108.4" font-size="10.6" font-weight="bold" text-anchor="end">60</text>
<path d="M520.9 82.6H524.9" stroke="#000" stroke-width="1.3"/>
<text x="519.3" y="86.4" font-size="10.6" font-weight="bold" text-anchor="end">80</text>
<path d="M520.9 60.6H524.9" stroke="#000" stroke-width="1.3"/>
<text x="519.3" y="64.4" font-size="10.6" font-weight="bold" text-anchor="end">100</text>
<path d="M520.9 38.6H524.9" stroke="#000" stroke-width="1.3"/>
<text x="519.3" y="42.4" font-size="10.6" font-weight="bold" text-anchor="end">120</text>
<text transform="translate(543.2,185.6) rotate(-45)" font-size="12.6" text-anchor="end">Control</text>
<text transform="translate(563.5,185.6) rotate(-45)" font-size="12.6" text-anchor="end">Ethanol</text>
<text transform="translate(591.4,185.6) rotate(-45)" font-size="12.6" text-anchor="end">Control</text>
<text transform="translate(611.6,185.6) rotate(-45)" font-size="12.6" text-anchor="end">Ethanol</text>
<circle cx="536.4" cy="55.1" r="2.6" fill="#000"/>
<circle cx="543.4" cy="56.2" r="2.6" fill="#000"/>
<circle cx="539.9" cy="70.5" r="2.6" fill="#000"/>
<circle cx="560.2" cy="73.8" r="2.6" fill="#000"/>
<circle cx="563.8" cy="102.9" r="2.6" fill="#000"/>
<circle cx="556.8" cy="108.4" r="2.6" fill="#000"/>
<rect x="585.5" y="48.6" width="5.2" height="5.2" fill="#000"/>
<rect x="585.5" y="65.7" width="5.2" height="5.2" fill="#000"/>
<rect x="585.5" y="88.8" width="5.2" height="5.2" fill="#000"/>
<rect x="602.2" y="42.0" width="5.2" height="5.2" fill="#000"/>
<rect x="609.2" y="47.0" width="5.2" height="5.2" fill="#000"/>
<rect x="605.7" y="59.1" width="5.2" height="5.2" fill="#000"/>
<path d="M537.8 45.9V42.9H561.4V45.9" stroke="#000" stroke-width="1.5" stroke-linejoin="round" stroke-linecap="round" fill="none"/>
<text x="550.4" y="44.0" font-size="11" font-weight="bold" text-anchor="middle">*</text>
<path d="M557.2 29.4V26.4H608.1V29.4" stroke="#000" stroke-width="1.5" stroke-linejoin="round" stroke-linecap="round" fill="none"/>
<text x="581.8" y="27.1" font-size="11" font-weight="bold" text-anchor="middle">*</text>
<rect x="628.8" y="36.0" width="16.0" height="9.0" fill="#3A53A0" stroke="#000" stroke-width="1.2"/>
<rect x="628.8" y="47.3" width="16.0" height="9.0" fill="#F44336" stroke="#000" stroke-width="1.2"/>
<text x="652.0" y="44.4" font-size="10.8">WT</text>
<text x="652.0" y="55.7" font-size="10.8">S114A</text>
<text transform="translate(484.5,104.0) rotate(-90)" font-size="12.5" text-anchor="middle">TMRE</text>
<text transform="translate(499.3,104.0) rotate(-90)" font-size="12.5" text-anchor="middle">(% of control)</text>
<rect x="108.3" y="503.6" width="15.8" height="110.4" fill="#3A53A0" stroke="#000" stroke-width="1.3"/>
<path d="M116.2 498.1V509.1M112.0 498.1H120.4M112.0 509.1H120.4" stroke="#000" stroke-width="1.2" fill="none"/>
<path d="M116.2 614.0V618.0" stroke="#000" stroke-width="1.3"/>
<rect x="128.3" y="526.4" width="16.1" height="87.6" fill="#3A53A0" stroke="#000" stroke-width="1.3"/>
<path d="M136.4 521.5V531.4M132.2 521.5H140.6M132.2 531.4H140.6" stroke="#000" stroke-width="1.2" fill="none"/>
<path d="M136.4 614.0V618.0" stroke="#000" stroke-width="1.3"/>
<rect x="156.7" y="491.3" width="15.7" height="122.7" fill="#F44336" stroke="#000" stroke-width="1.3"/>
<path d="M164.6 486.4V496.2M160.4 486.4H168.8M160.4 496.2H168.8" stroke="#000" stroke-width="1.2" fill="none"/>
<path d="M164.6 614.0V618.0" stroke="#000" stroke-width="1.3"/>
<rect x="176.6" y="505.4" width="16.2" height="108.6" fill="#F44336" stroke="#000" stroke-width="1.3"/>
<path d="M184.7 501.5V509.2M180.5 501.5H188.9M180.5 509.2H188.9" stroke="#000" stroke-width="1.2" fill="none"/>
<path d="M184.7 614.0V618.0" stroke="#000" stroke-width="1.3"/>
<path d="M102.4 481.6V614.0H199.4" stroke="#000" stroke-width="1.4" fill="none"/>
<path d="M98.4 614.0H102.4" stroke="#000" stroke-width="1.3"/>
<text x="96.8" y="617.7" font-size="10.4" font-weight="bold" text-anchor="end">0</text>
<path d="M98.4 592.0H102.4" stroke="#000" stroke-width="1.3"/>
<text x="96.8" y="595.8" font-size="10.4" font-weight="bold" text-anchor="end">20</text>
<path d="M98.4 570.1H102.4" stroke="#000" stroke-width="1.3"/>
<text x="96.8" y="573.8" font-size="10.4" font-weight="bold" text-anchor="end">40</text>
<path d="M98.4 548.1H102.4" stroke="#000" stroke-width="1.3"/>
<text x="96.8" y="551.8" font-size="10.4" font-weight="bold" text-anchor="end">60</text>
<path d="M98.4 526.1H102.4" stroke="#000" stroke-width="1.3"/>
<text x="96.8" y="529.9" font-size="10.4" font-weight="bold" text-anchor="end">80</text>
<path d="M98.4 504.1H102.4" stroke="#000" stroke-width="1.3"/>
<text x="96.8" y="507.9" font-size="10.4" font-weight="bold" text-anchor="end">100</text>
<path d="M98.4 482.2H102.4" stroke="#000" stroke-width="1.3"/>
<text x="96.8" y="485.9" font-size="10.4" font-weight="bold" text-anchor="end">120</text>
<text transform="translate(119.5,629.0) rotate(-45)" font-size="13" text-anchor="end">Control</text>
<text transform="translate(139.7,629.0) rotate(-45)" font-size="13" text-anchor="end">Ethanol</text>
<text transform="translate(167.9,629.0) rotate(-45)" font-size="13" text-anchor="end">Control</text>
<text transform="translate(188.0,629.0) rotate(-45)" font-size="13" text-anchor="end">Ethanol</text>
<circle cx="116.2" cy="493.2" r="2.4" fill="#000"/>
<circle cx="119.7" cy="508.5" r="2.4" fill="#000"/>
<circle cx="112.7" cy="509.6" r="2.4" fill="#000"/>
<circle cx="136.4" cy="517.3" r="2.4" fill="#000"/>
<circle cx="139.9" cy="530.5" r="2.4" fill="#000"/>
<circle cx="132.9" cy="531.6" r="2.4" fill="#000"/>
<rect x="162.2" y="482.0" width="4.8" height="4.8" fill="#000"/>
<rect x="165.7" y="491.9" width="4.8" height="4.8" fill="#000"/>
<rect x="158.7" y="491.9" width="4.8" height="4.8" fill="#000"/>
<rect x="182.3" y="498.5" width="4.8" height="4.8" fill="#000"/>
<rect x="185.8" y="501.8" width="4.8" height="4.8" fill="#000"/>
<rect x="178.8" y="508.3" width="4.8" height="4.8" fill="#000"/>
<path d="M114.6 486.9V484.4H137.0V486.9" stroke="#000" stroke-width="1.5" stroke-linejoin="round" stroke-linecap="round" fill="none"/>
<text x="126.5" y="484.8" font-size="11" font-weight="bold" text-anchor="middle">*</text>
<path d="M132.9 466.9V464.4H183.7V466.9" stroke="#000" stroke-width="1.5" stroke-linejoin="round" stroke-linecap="round" fill="none"/>
<text x="158.0" y="464.9" font-size="11" font-weight="bold" text-anchor="middle">*</text>
<path d="M161.9 479.5V477.0H184.4V479.5" stroke="#000" stroke-width="1.5" stroke-linejoin="round" stroke-linecap="round" fill="none"/>
<text x="173.8" y="477.8" font-size="11" font-weight="bold" text-anchor="middle">*</text>
<rect x="205.4" y="480.8" width="16.5" height="8.6" fill="#3A53A0" stroke="#000" stroke-width="1.2"/>
<rect x="205.4" y="492.7" width="16.5" height="8.6" fill="#F44336" stroke="#000" stroke-width="1.2"/>
<text x="229.2" y="489.1" font-size="11">WT</text>
<text x="229.2" y="501.0" font-size="11">S114A</text>
<text transform="translate(59.0,548.0) rotate(-90)" font-size="13" text-anchor="middle">ATP levels</text>
<text transform="translate(75.0,548.0) rotate(-90)" font-size="13" text-anchor="middle">(% of control)</text>
<rect x="432.4" y="523.7" width="16.4" height="90.4" fill="#3A53A0" stroke="#000" stroke-width="1.3"/>
<path d="M440.6 520.5V527.0M436.4 520.5H444.8M436.4 527.0H444.8" stroke="#000" stroke-width="1.2" fill="none"/>
<path d="M440.6 614.1V618.1" stroke="#000" stroke-width="1.3"/>
<rect x="453.4" y="497.0" width="16.5" height="117.1" fill="#3A53A0" stroke="#000" stroke-width="1.3"/>
<path d="M461.6 492.4V501.6M457.4 492.4H465.8M457.4 501.6H465.8" stroke="#000" stroke-width="1.2" fill="none"/>
<path d="M461.6 614.1V618.1" stroke="#000" stroke-width="1.3"/>
<rect x="482.8" y="525.6" width="16.5" height="88.5" fill="#F44336" stroke="#000" stroke-width="1.3"/>
<path d="M491.1 521.4V529.7M486.9 521.4H495.2M486.9 529.7H495.2" stroke="#000" stroke-width="1.2" fill="none"/>
<path d="M491.1 614.1V618.1" stroke="#000" stroke-width="1.3"/>
<rect x="504.2" y="517.8" width="16.5" height="96.3" fill="#F44336" stroke="#000" stroke-width="1.3"/>
<path d="M512.5 511.3V524.2M508.3 511.3H516.7M508.3 524.2H516.7" stroke="#000" stroke-width="1.2" fill="none"/>
<path d="M512.5 614.1V618.1" stroke="#000" stroke-width="1.3"/>
<path d="M427.1 475.2V614.1H526.6" stroke="#000" stroke-width="1.4" fill="none"/>
<path d="M423.1 614.1H427.1" stroke="#000" stroke-width="1.3"/>
<text x="421.5" y="618.2" font-size="11.4" font-weight="bold" text-anchor="end">0</text>
<path d="M423.1 568.0H427.1" stroke="#000" stroke-width="1.3"/>
<text x="421.5" y="572.1" font-size="11.4" font-weight="bold" text-anchor="end">50</text>
<path d="M423.1 521.9H427.1" stroke="#000" stroke-width="1.3"/>
<text x="421.5" y="526.0" font-size="11.4" font-weight="bold" text-anchor="end">100</text>
<path d="M423.1 475.8H427.1" stroke="#000" stroke-width="1.3"/>
<text x="421.5" y="479.9" font-size="11.4" font-weight="bold" text-anchor="end">150</text>
<text transform="translate(443.9,629.1) rotate(-45)" font-size="13" text-anchor="end">Control</text>
<text transform="translate(464.9,629.1) rotate(-45)" font-size="13" text-anchor="end">Ethanol</text>
<text transform="translate(494.4,629.1) rotate(-45)" font-size="13" text-anchor="end">Control</text>
<text transform="translate(515.8,629.1) rotate(-45)" font-size="13" text-anchor="end">Ethanol</text>
<circle cx="440.6" cy="517.3" r="2.4" fill="#000"/>
<circle cx="444.1" cy="524.7" r="2.4" fill="#000"/>
<circle cx="437.1" cy="524.7" r="2.4" fill="#000"/>
<circle cx="458.1" cy="490.6" r="2.4" fill="#000"/>
<circle cx="465.1" cy="493.3" r="2.4" fill="#000"/>
<circle cx="461.6" cy="504.4" r="2.4" fill="#000"/>
<rect x="488.7" y="515.8" width="4.8" height="4.8" fill="#000"/>
<rect x="492.2" y="525.0" width="4.8" height="4.8" fill="#000"/>
<rect x="485.2" y="526.0" width="4.8" height="4.8" fill="#000"/>
<rect x="510.1" y="502.9" width="4.8" height="4.8" fill="#000"/>
<rect x="513.6" y="517.7" width="4.8" height="4.8" fill="#000"/>
<rect x="506.6" y="521.3" width="4.8" height="4.8" fill="#000"/>
<path d="M439.4 483.9V481.4H463.6V483.9" stroke="#000" stroke-width="1.5" stroke-linejoin="round" stroke-linecap="round" fill="none"/>
<text x="451.6" y="481.8" font-size="11" font-weight="bold" text-anchor="middle">*</text>
<path d="M461.8 468.8V466.3H512.6V468.8" stroke="#000" stroke-width="1.5" stroke-linejoin="round" stroke-linecap="round" fill="none"/>
<text x="487.4" y="467.1" font-size="11" font-weight="bold" text-anchor="middle">*</text>
<rect x="531.9" y="475.0" width="16.2" height="9.2" fill="#3A53A0" stroke="#000" stroke-width="1.2"/>
<rect x="531.9" y="488.0" width="16.2" height="9.2" fill="#F44336" stroke="#000" stroke-width="1.2"/>
<text x="555.7" y="483.8" font-size="11.7">WT</text>
<text x="555.7" y="496.8" font-size="11.7">S114A</text>
<text transform="translate(381.2,543.0) rotate(-90)" font-size="13" text-anchor="middle">mROS</text>
<text transform="translate(397.2,543.0) rotate(-90)" font-size="13" text-anchor="middle">(% of control)</text>
<rect x="108.3" y="765.4" width="16.8" height="86.3" fill="#3A53A0" stroke="#000" stroke-width="1.3"/>
<path d="M116.7 762.6V768.3M112.5 762.6H120.9M112.5 768.3H120.9" stroke="#000" stroke-width="1.2" fill="none"/>
<path d="M116.7 851.7V855.7" stroke="#000" stroke-width="1.3"/>
<rect x="130.0" y="740.3" width="16.9" height="111.4" fill="#3A53A0" stroke="#000" stroke-width="1.3"/>
<path d="M138.4 734.1V746.5M134.2 734.1H142.6M134.2 746.5H142.6" stroke="#000" stroke-width="1.2" fill="none"/>
<path d="M138.4 851.7V855.7" stroke="#000" stroke-width="1.3"/>
<rect x="160.2" y="787.7" width="16.8" height="64.0" fill="#F44336" stroke="#000" stroke-width="1.3"/>
<path d="M168.6 783.0V792.5M164.4 783.0H172.8M164.4 792.5H172.8" stroke="#000" stroke-width="1.2" fill="none"/>
<path d="M168.6 851.7V855.7" stroke="#000" stroke-width="1.3"/>
<rect x="181.9" y="773.0" width="17.2" height="78.7" fill="#F44336" stroke="#000" stroke-width="1.3"/>
<path d="M190.5 770.2V775.9M186.3 770.2H194.7M186.3 775.9H194.7" stroke="#000" stroke-width="1.2" fill="none"/>
<path d="M190.5 851.7V855.7" stroke="#000" stroke-width="1.3"/>
<path d="M102.4 708.9V851.7H205.4" stroke="#000" stroke-width="1.4" fill="none"/>
<path d="M98.4 851.7H102.4" stroke="#000" stroke-width="1.3"/>
<text x="96.8" y="855.9" font-size="11.6" font-weight="bold" text-anchor="end">0</text>
<path d="M98.4 804.3H102.4" stroke="#000" stroke-width="1.3"/>
<text x="96.8" y="808.5" font-size="11.6" font-weight="bold" text-anchor="end">100</text>
<path d="M98.4 756.9H102.4" stroke="#000" stroke-width="1.3"/>
<text x="96.8" y="761.1" font-size="11.6" font-weight="bold" text-anchor="end">200</text>
<path d="M98.4 709.5H102.4" stroke="#000" stroke-width="1.3"/>
<text x="96.8" y="713.7" font-size="11.6" font-weight="bold" text-anchor="end">300</text>
<text transform="translate(120.0,866.7) rotate(-45)" font-size="13.9" text-anchor="end">Control</text>
<text transform="translate(141.8,866.7) rotate(-45)" font-size="13.9" text-anchor="end">Ethanol</text>
<text transform="translate(171.9,866.7) rotate(-45)" font-size="13.9" text-anchor="end">Control</text>
<text transform="translate(193.8,866.7) rotate(-45)" font-size="13.9" text-anchor="end">Ethanol</text>
<circle cx="116.7" cy="770.2" r="2.4" fill="#000"/>
<circle cx="120.2" cy="763.5" r="2.4" fill="#000"/>
<circle cx="113.2" cy="763.5" r="2.4" fill="#000"/>
<circle cx="134.9" cy="734.1" r="2.4" fill="#000"/>
<circle cx="141.9" cy="735.1" r="2.4" fill="#000"/>
<circle cx="138.4" cy="752.2" r="2.4" fill="#000"/>
<rect x="162.7" y="779.6" width="4.8" height="4.8" fill="#000"/>
<rect x="169.7" y="780.6" width="4.8" height="4.8" fill="#000"/>
<rect x="166.2" y="793.8" width="4.8" height="4.8" fill="#000"/>
<rect x="188.1" y="766.4" width="4.8" height="4.8" fill="#000"/>
<rect x="191.6" y="770.1" width="4.8" height="4.8" fill="#000"/>
<rect x="184.6" y="775.4" width="4.8" height="4.8" fill="#000"/>
<path d="M115.3 720.7V718.2H139.9V720.7" stroke="#000" stroke-width="1.5" stroke-linejoin="round" stroke-linecap="round" fill="none"/>
<text x="127.6" y="718.6" font-size="11" font-weight="bold" text-anchor="middle">*</text>
<path d="M135.3 702.9V700.4H189.6V702.9" stroke="#000" stroke-width="1.5" stroke-linejoin="round" stroke-linecap="round" fill="none"/>
<text x="161.6" y="700.8" font-size="11" font-weight="bold" text-anchor="middle">*</text>
<path d="M166.8 720.7V718.2H191.4V720.7" stroke="#000" stroke-width="1.5" stroke-linejoin="round" stroke-linecap="round" fill="none"/>
<text x="179.1" y="718.6" font-size="11" font-weight="bold" text-anchor="middle">*</text>
<rect x="207.5" y="698.2" width="16.8" height="9.2" fill="#3A53A0" stroke="#000" stroke-width="1.2"/>
<rect x="207.5" y="710.8" width="16.8" height="9.2" fill="#F44336" stroke="#000" stroke-width="1.2"/>
<text x="232.0" y="707.2" font-size="12.3">WT</text>
<text x="232.0" y="719.8" font-size="12.3">S114A</text>
<text transform="translate(54.5,779.0) rotate(-90)" font-size="13.9" text-anchor="middle">Triglycerides</text>
<text transform="translate(70.6,779.5) rotate(-90)" font-size="13.9" text-anchor="middle">(<tspan font-style="italic">µ</tspan>mol/mg of protein)</text>
<path d="M71.2 248.7V398.7H294.1" stroke="#000" stroke-width="1.4" fill="none"/>
<path d="M67.3 398.7H71.2" stroke="#000" stroke-width="1.3"/>
<text x="66.0" y="403.0" font-size="12" font-weight="bold" text-anchor="end">0</text>
<path d="M67.3 382.1H71.2" stroke="#000" stroke-width="1.3"/>
<text x="66.0" y="386.4" font-size="12" font-weight="bold" text-anchor="end">10</text>
<path d="M67.3 365.5H71.2" stroke="#000" stroke-width="1.3"/>
<text x="66.0" y="369.8" font-size="12" font-weight="bold" text-anchor="end">20</text>
<path d="M67.3 348.9H71.2" stroke="#000" stroke-width="1.3"/>
<text x="66.0" y="353.2" font-size="12" font-weight="bold" text-anchor="end">30</text>
<path d="M67.3 332.3H71.2" stroke="#000" stroke-width="1.3"/>
<text x="66.0" y="336.6" font-size="12" font-weight="bold" text-anchor="end">40</text>
<path d="M67.3 315.7H71.2" stroke="#000" stroke-width="1.3"/>
<text x="66.0" y="320.0" font-size="12" font-weight="bold" text-anchor="end">50</text>
<path d="M67.3 299.1H71.2" stroke="#000" stroke-width="1.3"/>
<text x="66.0" y="303.4" font-size="12" font-weight="bold" text-anchor="end">60</text>
<path d="M67.3 282.5H71.2" stroke="#000" stroke-width="1.3"/>
<text x="66.0" y="286.8" font-size="12" font-weight="bold" text-anchor="end">70</text>
<path d="M67.3 265.9H71.2" stroke="#000" stroke-width="1.3"/>
<text x="66.0" y="270.2" font-size="12" font-weight="bold" text-anchor="end">80</text>
<path d="M67.3 249.3H71.2" stroke="#000" stroke-width="1.3"/>
<text x="66.0" y="253.6" font-size="12" font-weight="bold" text-anchor="end">90</text>
<path d="M79.3 398.7V403.2" stroke="#000" stroke-width="1.3"/>
<text x="79.3" y="415.7" font-size="12" font-weight="bold" text-anchor="middle">1</text>
<path d="M97.2 398.7V403.2" stroke="#000" stroke-width="1.3"/>
<text x="97.2" y="415.7" font-size="12" font-weight="bold" text-anchor="middle">2</text>
<path d="M115.0 398.7V403.2" stroke="#000" stroke-width="1.3"/>
<text x="115.0" y="415.7" font-size="12" font-weight="bold" text-anchor="middle">3</text>
<path d="M132.8 398.7V403.2" stroke="#000" stroke-width="1.3"/>
<text x="132.8" y="415.7" font-size="12" font-weight="bold" text-anchor="middle">4</text>
<path d="M150.7 398.7V403.2" stroke="#000" stroke-width="1.3"/>
<text x="150.7" y="415.7" font-size="12" font-weight="bold" text-anchor="middle">5</text>
<path d="M168.6 398.7V403.2" stroke="#000" stroke-width="1.3"/>
<text x="168.6" y="415.7" font-size="12" font-weight="bold" text-anchor="middle">6</text>
<path d="M186.4 398.7V403.2" stroke="#000" stroke-width="1.3"/>
<text x="186.4" y="415.7" font-size="12" font-weight="bold" text-anchor="middle">7</text>
<path d="M204.2 398.7V403.2" stroke="#000" stroke-width="1.3"/>
<text x="204.2" y="415.7" font-size="12" font-weight="bold" text-anchor="middle">8</text>
<path d="M222.1 398.7V403.2" stroke="#000" stroke-width="1.3"/>
<text x="222.1" y="415.7" font-size="12" font-weight="bold" text-anchor="middle">9</text>
<path d="M239.9 398.7V403.2" stroke="#000" stroke-width="1.3"/>
<text x="239.9" y="415.7" font-size="12" font-weight="bold" text-anchor="middle">10</text>
<path d="M257.8 398.7V403.2" stroke="#000" stroke-width="1.3"/>
<text x="257.8" y="415.7" font-size="12" font-weight="bold" text-anchor="middle">11</text>
<path d="M275.7 398.7V403.2" stroke="#000" stroke-width="1.3"/>
<text x="275.7" y="415.7" font-size="12" font-weight="bold" text-anchor="middle">12</text>
<path d="M293.5 398.7V403.2" stroke="#000" stroke-width="1.3"/>
<text x="293.5" y="415.7" font-size="12" font-weight="bold" text-anchor="middle">13</text>
<text x="183" y="437.5" font-size="14" text-anchor="middle">Time (minutes)</text>
<text transform="translate(36.3,323.0) rotate(-90)" font-size="14" text-anchor="middle">OCR (pmol/min/µg protein)</text>
<polyline points="79.3,338.9 97.2,343.9 115.0,344.8 132.8,377.1 150.7,377.9 168.6,378.8 186.4,300.8 204.2,287.5 222.1,282.5 239.9,385.4 257.8,385.4 275.7,385.4" fill="none" stroke="#185CB8" stroke-width="2"/>
<path d="M79.3 333.1V344.8M75.5 333.1H83.1M75.5 344.8H83.1" stroke="#185CB8" stroke-width="1.5" fill="none"/>
<circle cx="79.3" cy="338.9" r="3.1" fill="#185CB8"/>
<path d="M97.2 338.9V348.9M93.4 338.9H101.0M93.4 348.9H101.0" stroke="#185CB8" stroke-width="1.5" fill="none"/>
<circle cx="97.2" cy="343.9" r="3.1" fill="#185CB8"/>
<path d="M115.0 339.8V349.7M111.2 339.8H118.8M111.2 349.7H118.8" stroke="#185CB8" stroke-width="1.5" fill="none"/>
<circle cx="115.0" cy="344.8" r="3.1" fill="#185CB8"/>
<path d="M132.8 375.5V378.8M129.0 375.5H136.7M129.0 378.8H136.7" stroke="#185CB8" stroke-width="1.5" fill="none"/>
<circle cx="132.8" cy="377.1" r="3.1" fill="#185CB8"/>
<path d="M150.7 376.3V379.6M146.9 376.3H154.5M146.9 379.6H154.5" stroke="#185CB8" stroke-width="1.5" fill="none"/>
<circle cx="150.7" cy="377.9" r="3.1" fill="#185CB8"/>
<path d="M168.6 377.1V380.4M164.8 377.1H172.4M164.8 380.4H172.4" stroke="#185CB8" stroke-width="1.5" fill="none"/>
<circle cx="168.6" cy="378.8" r="3.1" fill="#185CB8"/>
<path d="M186.4 290.8V310.7M182.6 290.8H190.2M182.6 310.7H190.2" stroke="#185CB8" stroke-width="1.5" fill="none"/>
<circle cx="186.4" cy="300.8" r="3.1" fill="#185CB8"/>
<path d="M204.2 277.5V297.4M200.4 277.5H208.1M200.4 297.4H208.1" stroke="#185CB8" stroke-width="1.5" fill="none"/>
<circle cx="204.2" cy="287.5" r="3.1" fill="#185CB8"/>
<path d="M222.1 272.5V292.5M218.3 272.5H225.9M218.3 292.5H225.9" stroke="#185CB8" stroke-width="1.5" fill="none"/>
<circle cx="222.1" cy="282.5" r="3.1" fill="#185CB8"/>
<path d="M239.9 382.9V387.9M236.1 382.9H243.8M236.1 387.9H243.8" stroke="#185CB8" stroke-width="1.5" fill="none"/>
<circle cx="239.9" cy="385.4" r="3.1" fill="#185CB8"/>
<path d="M257.8 382.9V387.9M254.0 382.9H261.6M254.0 387.9H261.6" stroke="#185CB8" stroke-width="1.5" fill="none"/>
<circle cx="257.8" cy="385.4" r="3.1" fill="#185CB8"/>
<path d="M275.7 382.9V387.9M271.9 382.9H279.5M271.9 387.9H279.5" stroke="#185CB8" stroke-width="1.5" fill="none"/>
<circle cx="275.7" cy="385.4" r="3.1" fill="#185CB8"/>
<polyline points="79.3,355.5 97.2,359.7 115.0,361.3 132.8,377.1 150.7,377.9 168.6,378.8 186.4,317.4 204.2,312.4 222.1,313.2 239.9,387.1 257.8,386.2 275.7,387.1" fill="none" stroke="#185CB8" stroke-width="2" stroke-dasharray="5 3"/>
<path d="M79.3 351.4V359.7M75.5 351.4H83.1M75.5 359.7H83.1" stroke="#185CB8" stroke-width="1.5" fill="none"/>
<circle cx="79.3" cy="355.5" r="3.1" fill="#185CB8"/>
<path d="M97.2 355.5V363.8M93.4 355.5H101.0M93.4 363.8H101.0" stroke="#185CB8" stroke-width="1.5" fill="none"/>
<circle cx="97.2" cy="359.7" r="3.1" fill="#185CB8"/>
<path d="M115.0 357.2V365.5M111.2 357.2H118.8M111.2 365.5H118.8" stroke="#185CB8" stroke-width="1.5" fill="none"/>
<circle cx="115.0" cy="361.3" r="3.1" fill="#185CB8"/>
<path d="M132.8 375.5V378.8M129.0 375.5H136.7M129.0 378.8H136.7" stroke="#185CB8" stroke-width="1.5" fill="none"/>
<circle cx="132.8" cy="377.1" r="3.1" fill="#185CB8"/>
<path d="M150.7 376.3V379.6M146.9 376.3H154.5M146.9 379.6H154.5" stroke="#185CB8" stroke-width="1.5" fill="none"/>
<circle cx="150.7" cy="377.9" r="3.1" fill="#185CB8"/>
<path d="M168.6 377.1V380.4M164.8 377.1H172.4M164.8 380.4H172.4" stroke="#185CB8" stroke-width="1.5" fill="none"/>
<circle cx="168.6" cy="378.8" r="3.1" fill="#185CB8"/>
<path d="M186.4 307.4V327.3M182.6 307.4H190.2M182.6 327.3H190.2" stroke="#185CB8" stroke-width="1.5" fill="none"/>
<circle cx="186.4" cy="317.4" r="3.1" fill="#185CB8"/>
<path d="M204.2 300.8V324.0M200.4 300.8H208.1M200.4 324.0H208.1" stroke="#185CB8" stroke-width="1.5" fill="none"/>
<circle cx="204.2" cy="312.4" r="3.1" fill="#185CB8"/>
<path d="M222.1 301.6V324.8M218.3 301.6H225.9M218.3 324.8H225.9" stroke="#185CB8" stroke-width="1.5" fill="none"/>
<circle cx="222.1" cy="313.2" r="3.1" fill="#185CB8"/>
<path d="M239.9 384.6V389.6M236.1 384.6H243.8M236.1 389.6H243.8" stroke="#185CB8" stroke-width="1.5" fill="none"/>
<circle cx="239.9" cy="387.1" r="3.1" fill="#185CB8"/>
<path d="M257.8 383.8V388.7M254.0 383.8H261.6M254.0 388.7H261.6" stroke="#185CB8" stroke-width="1.5" fill="none"/>
<circle cx="257.8" cy="386.2" r="3.1" fill="#185CB8"/>
<path d="M275.7 384.6V389.6M271.9 384.6H279.5M271.9 389.6H279.5" stroke="#185CB8" stroke-width="1.5" fill="none"/>
<circle cx="275.7" cy="387.1" r="3.1" fill="#185CB8"/>
<polyline points="79.3,347.2 97.2,352.2 115.0,353.9 132.8,376.3 150.7,377.1 168.6,378.8 186.4,302.4 204.2,294.9 222.1,294.1 239.9,387.1 257.8,386.2 275.7,386.2" fill="none" stroke="#F80A14" stroke-width="2" stroke-dasharray="5 3"/>
<path d="M79.3 343.1V351.4M75.5 343.1H83.1M75.5 351.4H83.1" stroke="#F80A14" stroke-width="1.5" fill="none"/>
<rect x="76.2" y="344.1" width="6.2" height="6.2" fill="#F80A14"/>
<path d="M97.2 347.2V357.2M93.4 347.2H101.0M93.4 357.2H101.0" stroke="#F80A14" stroke-width="1.5" fill="none"/>
<rect x="94.1" y="349.1" width="6.2" height="6.2" fill="#F80A14"/>
<path d="M115.0 348.9V358.9M111.2 348.9H118.8M111.2 358.9H118.8" stroke="#F80A14" stroke-width="1.5" fill="none"/>
<rect x="111.9" y="350.8" width="6.2" height="6.2" fill="#F80A14"/>
<path d="M132.8 374.6V377.9M129.0 374.6H136.7M129.0 377.9H136.7" stroke="#F80A14" stroke-width="1.5" fill="none"/>
<rect x="129.8" y="373.2" width="6.2" height="6.2" fill="#F80A14"/>
<path d="M150.7 375.5V378.8M146.9 375.5H154.5M146.9 378.8H154.5" stroke="#F80A14" stroke-width="1.5" fill="none"/>
<rect x="147.6" y="374.0" width="6.2" height="6.2" fill="#F80A14"/>
<path d="M168.6 377.1V380.4M164.8 377.1H172.4M164.8 380.4H172.4" stroke="#F80A14" stroke-width="1.5" fill="none"/>
<rect x="165.5" y="375.7" width="6.2" height="6.2" fill="#F80A14"/>
<path d="M186.4 293.3V311.5M182.6 293.3H190.2M182.6 311.5H190.2" stroke="#F80A14" stroke-width="1.5" fill="none"/>
<rect x="183.3" y="299.3" width="6.2" height="6.2" fill="#F80A14"/>
<path d="M204.2 285.8V304.1M200.4 285.8H208.1M200.4 304.1H208.1" stroke="#F80A14" stroke-width="1.5" fill="none"/>
<rect x="201.2" y="291.8" width="6.2" height="6.2" fill="#F80A14"/>
<path d="M222.1 285.0V303.2M218.3 285.0H225.9M218.3 303.2H225.9" stroke="#F80A14" stroke-width="1.5" fill="none"/>
<rect x="219.0" y="291.0" width="6.2" height="6.2" fill="#F80A14"/>
<path d="M239.9 384.6V389.6M236.1 384.6H243.8M236.1 389.6H243.8" stroke="#F80A14" stroke-width="1.5" fill="none"/>
<rect x="236.8" y="384.0" width="6.2" height="6.2" fill="#F80A14"/>
<path d="M257.8 383.8V388.7M254.0 383.8H261.6M254.0 388.7H261.6" stroke="#F80A14" stroke-width="1.5" fill="none"/>
<rect x="254.7" y="383.1" width="6.2" height="6.2" fill="#F80A14"/>
<path d="M275.7 383.8V388.7M271.9 383.8H279.5M271.9 388.7H279.5" stroke="#F80A14" stroke-width="1.5" fill="none"/>
<rect x="272.6" y="383.1" width="6.2" height="6.2" fill="#F80A14"/>
<polyline points="79.3,340.6 97.2,344.8 115.0,345.6 132.8,375.5 150.7,377.1 168.6,377.9 186.4,300.8 204.2,289.1 222.1,283.3 239.9,385.4 257.8,385.4 275.7,385.4" fill="none" stroke="#F80A14" stroke-width="2"/>
<path d="M79.3 334.8V346.4M75.5 334.8H83.1M75.5 346.4H83.1" stroke="#F80A14" stroke-width="1.5" fill="none"/>
<rect x="76.2" y="337.5" width="6.2" height="6.2" fill="#F80A14"/>
<path d="M97.2 338.9V350.6M93.4 338.9H101.0M93.4 350.6H101.0" stroke="#F80A14" stroke-width="1.5" fill="none"/>
<rect x="94.1" y="341.6" width="6.2" height="6.2" fill="#F80A14"/>
<path d="M115.0 339.8V351.4M111.2 339.8H118.8M111.2 351.4H118.8" stroke="#F80A14" stroke-width="1.5" fill="none"/>
<rect x="111.9" y="342.5" width="6.2" height="6.2" fill="#F80A14"/>
<path d="M132.8 373.8V377.1M129.0 373.8H136.7M129.0 377.1H136.7" stroke="#F80A14" stroke-width="1.5" fill="none"/>
<rect x="129.8" y="372.4" width="6.2" height="6.2" fill="#F80A14"/>
<path d="M150.7 375.5V378.8M146.9 375.5H154.5M146.9 378.8H154.5" stroke="#F80A14" stroke-width="1.5" fill="none"/>
<rect x="147.6" y="374.0" width="6.2" height="6.2" fill="#F80A14"/>
<path d="M168.6 376.3V379.6M164.8 376.3H172.4M164.8 379.6H172.4" stroke="#F80A14" stroke-width="1.5" fill="none"/>
<rect x="165.5" y="374.8" width="6.2" height="6.2" fill="#F80A14"/>
<path d="M186.4 290.0V311.6M182.6 290.0H190.2M182.6 311.6H190.2" stroke="#F80A14" stroke-width="1.5" fill="none"/>
<rect x="183.3" y="297.7" width="6.2" height="6.2" fill="#F80A14"/>
<path d="M204.2 277.5V300.8M200.4 277.5H208.1M200.4 300.8H208.1" stroke="#F80A14" stroke-width="1.5" fill="none"/>
<rect x="201.2" y="286.0" width="6.2" height="6.2" fill="#F80A14"/>
<path d="M222.1 271.7V294.9M218.3 271.7H225.9M218.3 294.9H225.9" stroke="#F80A14" stroke-width="1.5" fill="none"/>
<rect x="219.0" y="280.2" width="6.2" height="6.2" fill="#F80A14"/>
<path d="M239.9 382.1V388.7M236.1 382.1H243.8M236.1 388.7H243.8" stroke="#F80A14" stroke-width="1.5" fill="none"/>
<rect x="236.8" y="382.3" width="6.2" height="6.2" fill="#F80A14"/>
<path d="M257.8 382.9V387.9M254.0 382.9H261.6M254.0 387.9H261.6" stroke="#F80A14" stroke-width="1.5" fill="none"/>
<rect x="254.7" y="382.3" width="6.2" height="6.2" fill="#F80A14"/>
<path d="M275.7 382.9V387.9M271.9 382.9H279.5M271.9 387.9H279.5" stroke="#F80A14" stroke-width="1.5" fill="none"/>
<rect x="272.6" y="382.3" width="6.2" height="6.2" fill="#F80A14"/>
<text x="117" y="244.7" font-size="11" text-anchor="middle">Oligom</text>
<text x="167.5" y="244.7" font-size="11" text-anchor="middle">FCCP</text>
<text x="220.3" y="244.7" font-size="11" text-anchor="middle">AA + Rot</text>
<path d="M118.4 249V310" stroke="#000" stroke-width="1.5" stroke-dasharray="4.5 3" fill="none"/>
<path d="M114.4 304L118.4 310L122.4 304" stroke="#000" stroke-width="1.5" fill="none"/>
<path d="M168.7 249V309.7" stroke="#000" stroke-width="1.5" stroke-dasharray="4.5 3" fill="none"/>
<path d="M164.7 303.7L168.7 309.7L172.7 303.7" stroke="#000" stroke-width="1.5" fill="none"/>
<path d="M221.5 249V266" stroke="#000" stroke-width="1.5" stroke-dasharray="4.5 3" fill="none"/>
<path d="M217.5 260L221.5 266L225.5 260" stroke="#000" stroke-width="1.5" fill="none"/>
<path d="M259.5 276.1H276.1" stroke="#185CB8" stroke-width="2"/>
<circle cx="267.8" cy="276.1" r="3.4" fill="#185CB8"/>
<text x="284.3" y="279.9" font-size="10.4" letter-spacing="-0.2">WT Control</text>
<path d="M259.5 288.5H276.1" stroke="#185CB8" stroke-width="2" stroke-dasharray="5 3"/>
<circle cx="267.8" cy="288.5" r="3.4" fill="#185CB8"/>
<text x="284.3" y="292.3" font-size="10.4" letter-spacing="-0.2">WT Ethanol</text>
<path d="M259.5 301.4H276.1" stroke="#F80A14" stroke-width="2"/>
<rect x="264.5" y="298.1" width="6.6" height="6.6" fill="#F80A14"/>
<text x="284.3" y="305.2" font-size="10.4" letter-spacing="-0.2">S114A Control</text>
<path d="M259.5 314.2H276.1" stroke="#F80A14" stroke-width="2" stroke-dasharray="5 3"/>
<rect x="264.5" y="310.9" width="6.6" height="6.6" fill="#F80A14"/>
<text x="284.3" y="318.0" font-size="10.4" letter-spacing="-0.2">S114A Ethanol</text>
<rect x="430.7" y="351.8" width="12.5" height="45.9" fill="#3A53A0" stroke="#000" stroke-width="1.3"/>
<path d="M436.9 349.1V354.6M433.9 349.1H439.9M433.9 354.6H439.9" stroke="#000" stroke-width="1.1" fill="none"/>
<circle cx="433.9" cy="346.3" r="3.0" fill="#000"/>
<circle cx="440.4" cy="352.7" r="3.0" fill="#000"/>
<circle cx="436.9" cy="354.6" r="3.0" fill="#000"/>
<rect x="446.9" y="365.0" width="12.5" height="32.7" fill="url(#hb)" stroke="#000" stroke-width="1.3"/>
<path d="M453.2 361.4V368.7M450.2 361.4H456.2M450.2 368.7H456.2" stroke="#000" stroke-width="1.1" fill="none"/>
<rect x="447.2" y="358.0" width="6.0" height="6.0" fill="#000"/>
<rect x="453.7" y="363.5" width="6.0" height="6.0" fill="#000"/>
<rect x="450.2" y="367.2" width="6.0" height="6.0" fill="#000"/>
<rect x="463.2" y="354.4" width="12.5" height="43.3" fill="#F44336" stroke="#000" stroke-width="1.3"/>
<path d="M469.4 352.6V356.2M466.4 352.6H472.4M466.4 356.2H472.4" stroke="#000" stroke-width="1.1" fill="none"/>
<path d="M466.4 349.0L469.8 355.6H463.1Z" fill="#000"/>
<path d="M472.9 349.7L476.3 356.3H469.6Z" fill="#000"/>
<path d="M469.4 351.9L472.8 358.5H466.1Z" fill="#000"/>
<rect x="479.4" y="358.6" width="12.5" height="39.1" fill="url(#hr)" stroke="#000" stroke-width="1.3"/>
<path d="M485.7 357.1V360.1M482.7 357.1H488.7M482.7 360.1H488.7" stroke="#000" stroke-width="1.1" fill="none"/>
<path d="M482.7 359.8L486.1 353.2H479.3Z" fill="#000"/>
<path d="M489.2 361.3L492.6 354.7H485.8Z" fill="#000"/>
<path d="M485.7 362.8L489.1 356.2H482.3Z" fill="#000"/>
<path d="M461.3 397.7V401.7" stroke="#000" stroke-width="1.3"/>
<rect x="501.5" y="355.7" width="12.5" height="42.0" fill="#3A53A0" stroke="#000" stroke-width="1.3"/>
<path d="M507.8 353.5V357.9M504.8 353.5H510.8M504.8 357.9H510.8" stroke="#000" stroke-width="1.1" fill="none"/>
<circle cx="504.8" cy="351.8" r="3.0" fill="#000"/>
<circle cx="511.2" cy="357.3" r="3.0" fill="#000"/>
<circle cx="507.8" cy="358.2" r="3.0" fill="#000"/>
<rect x="517.8" y="364.7" width="12.5" height="33.0" fill="url(#hb)" stroke="#000" stroke-width="1.3"/>
<path d="M524.0 361.4V368.0M521.0 361.4H527.0M521.0 368.0H527.0" stroke="#000" stroke-width="1.1" fill="none"/>
<rect x="518.0" y="359.8" width="6.0" height="6.0" fill="#000"/>
<rect x="524.5" y="361.7" width="6.0" height="6.0" fill="#000"/>
<rect x="521.0" y="369.0" width="6.0" height="6.0" fill="#000"/>
<rect x="534.0" y="358.6" width="12.5" height="39.1" fill="#F44336" stroke="#000" stroke-width="1.3"/>
<path d="M540.2 356.8V360.4M537.2 356.8H543.2M537.2 360.4H543.2" stroke="#000" stroke-width="1.1" fill="none"/>
<path d="M537.2 352.6L540.6 359.2H533.9Z" fill="#000"/>
<path d="M543.8 353.7L547.1 360.3H540.4Z" fill="#000"/>
<path d="M540.2 356.3L543.6 362.9H536.9Z" fill="#000"/>
<rect x="550.2" y="362.8" width="12.5" height="34.9" fill="url(#hr)" stroke="#000" stroke-width="1.3"/>
<path d="M556.5 361.4V364.3M553.5 361.4H559.5M553.5 364.3H559.5" stroke="#000" stroke-width="1.1" fill="none"/>
<path d="M553.5 364.2L556.9 357.6H550.1Z" fill="#000"/>
<path d="M560.0 365.3L563.4 358.7H556.6Z" fill="#000"/>
<path d="M556.5 366.8L559.9 360.2H553.1Z" fill="#000"/>
<path d="M532.1 397.7V401.7" stroke="#000" stroke-width="1.3"/>
<rect x="572.4" y="292.6" width="12.5" height="105.1" fill="#3A53A0" stroke="#000" stroke-width="1.3"/>
<path d="M578.6 288.0V297.1M575.6 288.0H581.6M575.6 297.1H581.6" stroke="#000" stroke-width="1.1" fill="none"/>
<circle cx="575.6" cy="285.8" r="3.0" fill="#000"/>
<circle cx="582.1" cy="293.1" r="3.0" fill="#000"/>
<circle cx="578.6" cy="298.6" r="3.0" fill="#000"/>
<rect x="588.6" y="322.5" width="12.5" height="75.2" fill="url(#hb)" stroke="#000" stroke-width="1.3"/>
<path d="M594.9 319.2V325.8M591.9 319.2H597.9M591.9 325.8H597.9" stroke="#000" stroke-width="1.1" fill="none"/>
<rect x="588.9" y="312.1" width="6.0" height="6.0" fill="#000"/>
<rect x="595.4" y="318.5" width="6.0" height="6.0" fill="#000"/>
<rect x="591.9" y="322.2" width="6.0" height="6.0" fill="#000"/>
<rect x="604.9" y="288.5" width="12.5" height="109.2" fill="#F44336" stroke="#000" stroke-width="1.3"/>
<path d="M611.1 283.0V294.0M608.1 283.0H614.1M608.1 294.0H614.1" stroke="#000" stroke-width="1.1" fill="none"/>
<path d="M608.1 278.5L611.5 285.1H604.8Z" fill="#000"/>
<path d="M614.6 284.0L618.0 290.6H611.2Z" fill="#000"/>
<path d="M611.1 295.0L614.5 301.6H607.8Z" fill="#000"/>
<rect x="621.1" y="305.6" width="12.5" height="92.1" fill="url(#hr)" stroke="#000" stroke-width="1.3"/>
<path d="M627.4 302.3V308.9M624.4 302.3H630.4M624.4 308.9H630.4" stroke="#000" stroke-width="1.1" fill="none"/>
<path d="M624.4 304.0L627.8 297.4H621.0Z" fill="#000"/>
<path d="M630.9 309.6L634.3 302.9H627.5Z" fill="#000"/>
<path d="M627.4 314.1L630.8 307.5H624.0Z" fill="#000"/>
<path d="M603.0 397.7V401.7" stroke="#000" stroke-width="1.3"/>
<path d="M424.4 268.6V397.7H638.8" stroke="#000" stroke-width="1.4" fill="none"/>
<path d="M420.5 397.7H424.4" stroke="#000" stroke-width="1.3"/>
<text x="419.2" y="402.0" font-size="12" font-weight="bold" text-anchor="end">0</text>
<path d="M420.5 379.3H424.4" stroke="#000" stroke-width="1.3"/>
<text x="419.2" y="383.6" font-size="12" font-weight="bold" text-anchor="end">10</text>
<path d="M420.5 361.0H424.4" stroke="#000" stroke-width="1.3"/>
<text x="419.2" y="365.3" font-size="12" font-weight="bold" text-anchor="end">20</text>
<path d="M420.5 342.6H424.4" stroke="#000" stroke-width="1.3"/>
<text x="419.2" y="346.9" font-size="12" font-weight="bold" text-anchor="end">30</text>
<path d="M420.5 324.3H424.4" stroke="#000" stroke-width="1.3"/>
<text x="419.2" y="328.6" font-size="12" font-weight="bold" text-anchor="end">40</text>
<path d="M420.5 305.9H424.4" stroke="#000" stroke-width="1.3"/>
<text x="419.2" y="310.2" font-size="12" font-weight="bold" text-anchor="end">50</text>
<path d="M420.5 287.6H424.4" stroke="#000" stroke-width="1.3"/>
<text x="419.2" y="291.9" font-size="12" font-weight="bold" text-anchor="end">60</text>
<path d="M420.5 269.2H424.4" stroke="#000" stroke-width="1.3"/>
<text x="419.2" y="273.6" font-size="12" font-weight="bold" text-anchor="end">70</text>
<text transform="translate(394.3,331.0) rotate(-90)" font-size="14.4" text-anchor="middle">OCR (pmol/min/µg protein)</text>
<rect x="431" y="269.4" width="13.3" height="6.8" fill="#3A53A0" stroke="#000" stroke-width="1.1"/>
<text x="447.8" y="275.6" font-size="9.15" letter-spacing="-0.1">WT Control</text>
<rect x="431" y="279.7" width="13.3" height="7.0" fill="url(#hb)" stroke="#000" stroke-width="1.1"/>
<text x="447.8" y="286.0" font-size="9.15" letter-spacing="-0.1">WT Ethanol</text>
<rect x="431" y="290.2" width="13.3" height="6.5" fill="#F44336" stroke="#000" stroke-width="1.1"/>
<text x="447.8" y="296.2" font-size="9.15" letter-spacing="-0.1">S114A Control</text>
<rect x="431" y="300.2" width="13.3" height="7.0" fill="url(#hr)" stroke="#000" stroke-width="1.1"/>
<text x="447.8" y="306.5" font-size="9.15" letter-spacing="-0.1">S114A Ethanol</text>
<path d="M449.6 340.4V337.4H484.0V340.4" stroke="#000" stroke-width="1.5" stroke-linejoin="round" stroke-linecap="round" fill="none"/>
<text x="467.6" y="339.5" font-size="14" font-weight="normal" text-anchor="middle">*</text>
<path d="M520.2 345.0V342.0H554.9V345.0" stroke="#000" stroke-width="1.5" stroke-linejoin="round" stroke-linecap="round" fill="none"/>
<text x="538.3" y="344.7" font-size="14" font-weight="normal" text-anchor="middle">*</text>
<path d="M590.4 269.8V266.8H625.0V269.8" stroke="#000" stroke-width="1.5" stroke-linejoin="round" stroke-linecap="round" fill="none"/>
<text x="608.4" y="269.4" font-size="14" font-weight="normal" text-anchor="middle">*</text>
<text x="453.6" y="360.5" font-size="14" font-weight="normal" text-anchor="middle">*</text>
<text x="484.4" y="358.2" font-size="14" font-weight="normal" text-anchor="middle">*</text>
<text x="524.2" y="361.7" font-size="14" font-weight="normal" text-anchor="middle">*</text>
<text x="556.5" y="361.7" font-size="14" font-weight="normal" text-anchor="middle">*</text>
<text x="594.4" y="313.3" font-size="14" font-weight="normal" text-anchor="middle">*</text>
<text x="627.3" y="298.6" font-size="14" font-weight="normal" text-anchor="middle">*</text>
<text x="460.5" y="413" font-size="12.1" text-anchor="middle">Basal</text>
<text x="460.5" y="428" font-size="12.1" text-anchor="middle">respiration</text>
<text x="530.5" y="413" font-size="12.1" text-anchor="middle">ATP</text>
<text x="530.5" y="428" font-size="12.1" text-anchor="middle">production</text>
<text x="602.5" y="413" font-size="12.1" text-anchor="middle">Max. capacity</text>
<text x="425.8" y="688.8" font-size="15" text-anchor="middle">Control</text>
<text x="566" y="688.8" font-size="15" text-anchor="middle">Ethanol</text>
<text transform="translate(351.8,739.4) rotate(-90) scale(1,1.13)" font-size="15.4" text-anchor="middle">WT</text>
<text transform="translate(351.8,837) rotate(-90) scale(1,1.13)" font-size="15.2" text-anchor="middle">S114A</text>
<svg x="357.7" y="692.7" width="136.9" height="93.2" viewBox="0 0 136.9 93.2" overflow="hidden">
<rect width="136.9" height="93.2" fill="#e4e3e1"/>
<rect width="136.9" height="93.2" filter="url(#htex)"/>
<g filter="url(#b0)"><circle cx="79.6" cy="18.2" r="0.69" fill="#9c4850" opacity="0.66"/><circle cx="90.8" cy="20.0" r="0.43" fill="#9c4850" opacity="0.67"/><circle cx="107.2" cy="30.7" r="0.50" fill="#9c4850" opacity="0.54"/><circle cx="12.2" cy="71.8" r="0.48" fill="#b87078" opacity="0.80"/><circle cx="32.7" cy="73.7" r="0.50" fill="#a8525a" opacity="0.64"/><circle cx="41.7" cy="10.3" r="0.64" fill="#9c4850" opacity="0.75"/><circle cx="120.8" cy="36.8" r="0.48" fill="#b87078" opacity="0.48"/><circle cx="101.9" cy="39.0" r="0.66" fill="#b0606a" opacity="0.69"/><circle cx="47.3" cy="2.0" r="0.60" fill="#a8525a" opacity="0.57"/><circle cx="112.2" cy="91.9" r="0.50" fill="#9c4850" opacity="0.48"/><circle cx="20.6" cy="63.8" r="0.60" fill="#9c4850" opacity="0.85"/><circle cx="77.9" cy="15.5" r="0.65" fill="#c08088" opacity="0.59"/><circle cx="119.1" cy="64.4" r="0.59" fill="#a8525a" opacity="0.88"/><circle cx="9.0" cy="53.7" r="0.54" fill="#b87078" opacity="0.83"/><circle cx="16.3" cy="65.8" r="0.62" fill="#b87078" opacity="0.81"/><circle cx="19.2" cy="16.7" r="0.63" fill="#c08088" opacity="0.65"/><circle cx="121.8" cy="13.0" r="0.68" fill="#9c4850" opacity="0.60"/><circle cx="9.2" cy="51.1" r="0.59" fill="#9c4850" opacity="0.66"/><circle cx="26.4" cy="63.3" r="0.46" fill="#9c4850" opacity="0.87"/><circle cx="34.2" cy="19.1" r="0.39" fill="#9c4850" opacity="0.56"/><circle cx="38.4" cy="91.1" r="0.41" fill="#a8525a" opacity="0.73"/><circle cx="117.3" cy="42.8" r="0.55" fill="#9c4850" opacity="0.56"/><circle cx="37.4" cy="61.6" r="0.54" fill="#c08088" opacity="0.59"/><circle cx="2.5" cy="12.5" r="0.47" fill="#9c4850" opacity="0.85"/><circle cx="54.9" cy="5.1" r="0.43" fill="#a8525a" opacity="0.55"/><circle cx="91.0" cy="13.6" r="0.39" fill="#a8525a" opacity="0.65"/><circle cx="91.1" cy="63.1" r="0.59" fill="#9c4850" opacity="0.68"/><circle cx="85.8" cy="19.5" r="0.51" fill="#c08088" opacity="0.59"/><circle cx="92.5" cy="68.5" r="0.43" fill="#b87078" opacity="0.54"/><circle cx="133.4" cy="70.0" r="0.44" fill="#c08088" opacity="0.90"/><circle cx="101.3" cy="40.9" r="0.58" fill="#9c4850" opacity="0.70"/><circle cx="28.0" cy="3.1" r="0.66" fill="#c08088" opacity="0.86"/><circle cx="8.0" cy="38.4" r="0.51" fill="#9c4850" opacity="0.80"/><circle cx="130.7" cy="45.4" r="0.63" fill="#a8525a" opacity="0.47"/><circle cx="119.1" cy="56.3" r="0.39" fill="#a8525a" opacity="0.89"/><circle cx="109.3" cy="31.6" r="0.61" fill="#b0606a" opacity="0.66"/><circle cx="133.5" cy="10.1" r="0.35" fill="#9c4850" opacity="0.55"/><circle cx="109.0" cy="9.0" r="0.43" fill="#b0606a" opacity="0.74"/><circle cx="23.5" cy="85.4" r="0.62" fill="#b0606a" opacity="0.65"/><circle cx="5.2" cy="17.6" r="0.53" fill="#c08088" opacity="0.85"/><circle cx="14.4" cy="49.2" r="0.35" fill="#c08088" opacity="0.86"/><circle cx="79.0" cy="44.8" r="0.40" fill="#a8525a" opacity="0.89"/><circle cx="61.4" cy="53.2" r="0.66" fill="#c08088" opacity="0.72"/><circle cx="136.0" cy="37.6" r="0.40" fill="#a8525a" opacity="0.50"/><circle cx="93.7" cy="5.8" r="0.38" fill="#9c4850" opacity="0.56"/><circle cx="99.0" cy="36.2" r="0.55" fill="#b0606a" opacity="0.81"/><circle cx="120.2" cy="66.0" r="0.60" fill="#9c4850" opacity="0.76"/><circle cx="32.9" cy="36.3" r="0.43" fill="#b0606a" opacity="0.54"/><circle cx="20.7" cy="15.3" r="0.50" fill="#b0606a" opacity="0.85"/><circle cx="103.7" cy="70.5" r="0.42" fill="#a8525a" opacity="0.55"/><circle cx="72.0" cy="3.1" r="0.66" fill="#b0606a" opacity="0.56"/><circle cx="112.6" cy="67.4" r="0.68" fill="#c08088" opacity="0.62"/><circle cx="108.5" cy="87.5" r="0.57" fill="#9c4850" opacity="0.83"/><circle cx="7.6" cy="62.6" r="0.38" fill="#a8525a" opacity="0.62"/><circle cx="117.0" cy="4.2" r="0.68" fill="#a8525a" opacity="0.61"/><circle cx="31.7" cy="35.4" r="0.52" fill="#b87078" opacity="0.83"/><circle cx="125.5" cy="17.4" r="0.59" fill="#b87078" opacity="0.57"/><circle cx="132.9" cy="67.9" r="0.59" fill="#9c4850" opacity="0.83"/><circle cx="18.9" cy="15.3" r="0.58" fill="#9c4850" opacity="0.86"/><circle cx="57.6" cy="80.1" r="0.37" fill="#c08088" opacity="0.50"/><circle cx="96.9" cy="70.1" r="0.52" fill="#b87078" opacity="0.73"/><circle cx="85.3" cy="12.7" r="0.68" fill="#b0606a" opacity="0.80"/><circle cx="105.4" cy="69.2" r="0.49" fill="#c08088" opacity="0.79"/><circle cx="13.4" cy="50.4" r="0.66" fill="#b87078" opacity="0.57"/><circle cx="47.3" cy="35.6" r="0.62" fill="#c08088" opacity="0.80"/><circle cx="118.6" cy="79.5" r="0.60" fill="#c08088" opacity="0.79"/><circle cx="57.1" cy="39.0" r="0.41" fill="#a8525a" opacity="0.62"/><circle cx="114.3" cy="9.6" r="0.41" fill="#b0606a" opacity="0.69"/><circle cx="77.0" cy="26.8" r="0.55" fill="#b0606a" opacity="0.70"/><circle cx="100.1" cy="8.1" r="0.40" fill="#c08088" opacity="0.53"/><circle cx="65.2" cy="56.5" r="0.52" fill="#9c4850" opacity="0.53"/><circle cx="25.4" cy="46.5" r="0.52" fill="#a8525a" opacity="0.53"/><circle cx="110.3" cy="7.0" r="0.44" fill="#a8525a" opacity="0.45"/><circle cx="44.1" cy="14.4" r="0.43" fill="#b0606a" opacity="0.90"/><circle cx="118.2" cy="38.2" r="0.57" fill="#b0606a" opacity="0.59"/><circle cx="105.8" cy="54.1" r="0.47" fill="#b87078" opacity="0.59"/><circle cx="78.5" cy="27.4" r="0.45" fill="#b87078" opacity="0.89"/><circle cx="21.6" cy="85.4" r="0.60" fill="#a8525a" opacity="0.62"/><circle cx="72.3" cy="76.8" r="0.62" fill="#b0606a" opacity="0.56"/><circle cx="61.0" cy="86.2" r="0.42" fill="#a8525a" opacity="0.49"/><circle cx="123.3" cy="74.8" r="0.49" fill="#a8525a" opacity="0.59"/><circle cx="84.6" cy="46.7" r="0.61" fill="#a8525a" opacity="0.87"/><circle cx="84.2" cy="57.3" r="0.59" fill="#b0606a" opacity="0.80"/><circle cx="76.1" cy="62.7" r="0.46" fill="#a8525a" opacity="0.53"/><circle cx="7.3" cy="34.0" r="0.60" fill="#b0606a" opacity="0.81"/><circle cx="87.8" cy="77.7" r="0.53" fill="#b0606a" opacity="0.55"/><circle cx="49.6" cy="1.1" r="0.51" fill="#b0606a" opacity="0.59"/><circle cx="60.4" cy="6.4" r="0.58" fill="#9c4850" opacity="0.77"/><circle cx="5.3" cy="59.5" r="0.52" fill="#a8525a" opacity="0.61"/><circle cx="78.2" cy="90.2" r="0.37" fill="#b87078" opacity="0.62"/><circle cx="30.5" cy="74.4" r="0.41" fill="#c08088" opacity="0.54"/><circle cx="131.7" cy="48.1" r="0.45" fill="#c08088" opacity="0.50"/><circle cx="97.3" cy="33.2" r="0.57" fill="#b0606a" opacity="0.72"/><circle cx="91.6" cy="55.5" r="0.48" fill="#9c4850" opacity="0.79"/><circle cx="56.9" cy="47.4" r="0.62" fill="#b0606a" opacity="0.65"/><circle cx="8.4" cy="28.8" r="0.70" fill="#b0606a" opacity="0.56"/><circle cx="45.3" cy="15.9" r="0.69" fill="#9c4850" opacity="0.49"/><circle cx="73.7" cy="14.2" r="0.36" fill="#b0606a" opacity="0.56"/><circle cx="4.6" cy="0.6" r="0.57" fill="#b87078" opacity="0.49"/><circle cx="46.9" cy="9.1" r="0.64" fill="#b87078" opacity="0.62"/><circle cx="130.0" cy="67.7" r="0.37" fill="#a8525a" opacity="0.57"/><circle cx="74.9" cy="72.0" r="0.38" fill="#b0606a" opacity="0.52"/><circle cx="30.8" cy="14.9" r="0.38" fill="#b0606a" opacity="0.86"/><circle cx="81.1" cy="17.6" r="0.48" fill="#b87078" opacity="0.48"/><circle cx="21.9" cy="26.5" r="0.65" fill="#b0606a" opacity="0.49"/><circle cx="27.3" cy="59.8" r="0.61" fill="#9c4850" opacity="0.47"/><circle cx="128.1" cy="65.6" r="0.47" fill="#c08088" opacity="0.78"/><circle cx="7.6" cy="3.0" r="0.41" fill="#c08088" opacity="0.78"/><circle cx="127.5" cy="82.3" r="0.42" fill="#b0606a" opacity="0.67"/><circle cx="99.9" cy="14.1" r="0.41" fill="#c08088" opacity="0.73"/><circle cx="110.0" cy="80.4" r="0.62" fill="#c08088" opacity="0.46"/><circle cx="20.4" cy="60.7" r="0.58" fill="#b0606a" opacity="0.75"/><circle cx="34.8" cy="52.6" r="0.51" fill="#a8525a" opacity="0.53"/><circle cx="91.7" cy="17.1" r="0.42" fill="#b0606a" opacity="0.48"/><circle cx="125.5" cy="67.5" r="0.56" fill="#a8525a" opacity="0.51"/><circle cx="27.9" cy="22.1" r="0.38" fill="#a8525a" opacity="0.73"/><circle cx="83.7" cy="59.7" r="0.52" fill="#c08088" opacity="0.65"/><circle cx="129.2" cy="92.8" r="0.59" fill="#9c4850" opacity="0.80"/><circle cx="33.2" cy="27.4" r="0.37" fill="#b87078" opacity="0.84"/><circle cx="128.2" cy="56.0" r="0.63" fill="#a8525a" opacity="0.50"/><circle cx="9.4" cy="81.7" r="0.69" fill="#c08088" opacity="0.80"/><circle cx="124.6" cy="77.5" r="0.57" fill="#a8525a" opacity="0.85"/><circle cx="17.6" cy="51.9" r="0.52" fill="#9c4850" opacity="0.79"/><circle cx="15.4" cy="45.6" r="0.62" fill="#9c4850" opacity="0.82"/><circle cx="79.1" cy="67.5" r="0.43" fill="#c08088" opacity="0.52"/><circle cx="85.7" cy="39.6" r="0.61" fill="#a8525a" opacity="0.70"/><circle cx="111.7" cy="18.2" r="0.62" fill="#b0606a" opacity="0.65"/><circle cx="44.8" cy="83.0" r="0.45" fill="#b87078" opacity="0.89"/><circle cx="48.6" cy="23.6" r="0.44" fill="#9c4850" opacity="0.54"/><circle cx="93.9" cy="86.8" r="0.68" fill="#b0606a" opacity="0.59"/><circle cx="14.1" cy="70.4" r="0.53" fill="#c08088" opacity="0.68"/><circle cx="24.3" cy="60.4" r="0.70" fill="#9c4850" opacity="0.56"/><circle cx="105.0" cy="3.4" r="0.68" fill="#9c4850" opacity="0.87"/><circle cx="58.0" cy="66.3" r="0.44" fill="#b0606a" opacity="0.66"/><circle cx="100.2" cy="13.0" r="0.63" fill="#b87078" opacity="0.81"/><circle cx="93.6" cy="72.7" r="0.68" fill="#a8525a" opacity="0.70"/><circle cx="111.0" cy="66.7" r="0.55" fill="#a8525a" opacity="0.53"/><circle cx="67.9" cy="23.0" r="0.36" fill="#9c4850" opacity="0.80"/><circle cx="107.7" cy="90.9" r="0.52" fill="#b0606a" opacity="0.67"/><circle cx="63.6" cy="58.5" r="0.40" fill="#9c4850" opacity="0.70"/><circle cx="134.7" cy="59.6" r="0.57" fill="#c08088" opacity="0.74"/><circle cx="94.2" cy="91.8" r="0.49" fill="#b87078" opacity="0.75"/><circle cx="33.5" cy="91.9" r="0.65" fill="#c08088" opacity="0.66"/><circle cx="118.0" cy="2.4" r="0.50" fill="#9c4850" opacity="0.87"/><circle cx="50.6" cy="92.5" r="0.55" fill="#b0606a" opacity="0.80"/><circle cx="18.1" cy="85.6" r="0.56" fill="#a8525a" opacity="0.59"/><circle cx="84.0" cy="88.5" r="0.55" fill="#c08088" opacity="0.70"/><circle cx="102.2" cy="44.3" r="0.44" fill="#c08088" opacity="0.83"/><circle cx="74.5" cy="44.2" r="0.43" fill="#9c4850" opacity="0.73"/><circle cx="118.2" cy="69.9" r="0.69" fill="#9c4850" opacity="0.85"/><circle cx="36.7" cy="42.2" r="0.60" fill="#b87078" opacity="0.82"/><circle cx="70.8" cy="49.6" r="0.48" fill="#b0606a" opacity="0.64"/><circle cx="50.2" cy="54.2" r="0.58" fill="#b87078" opacity="0.59"/><circle cx="69.6" cy="70.2" r="0.57" fill="#c08088" opacity="0.63"/><circle cx="126.8" cy="10.9" r="0.38" fill="#a8525a" opacity="0.55"/><circle cx="30.4" cy="72.9" r="0.37" fill="#b0606a" opacity="0.48"/><circle cx="86.4" cy="90.0" r="0.44" fill="#c08088" opacity="0.56"/><circle cx="118.6" cy="6.8" r="0.48" fill="#b0606a" opacity="0.71"/><circle cx="106.5" cy="46.0" r="0.64" fill="#a8525a" opacity="0.83"/><circle cx="65.5" cy="64.4" r="0.65" fill="#c08088" opacity="0.69"/><circle cx="102.6" cy="92.7" r="0.41" fill="#b0606a" opacity="0.69"/><circle cx="42.0" cy="51.0" r="0.42" fill="#9c4850" opacity="0.64"/><circle cx="32.0" cy="6.2" r="0.43" fill="#b87078" opacity="0.88"/><circle cx="86.5" cy="44.6" r="0.66" fill="#9c4850" opacity="0.85"/><circle cx="40.9" cy="78.1" r="0.58" fill="#9c4850" opacity="0.61"/><circle cx="86.2" cy="48.1" r="0.53" fill="#b0606a" opacity="0.88"/><circle cx="72.8" cy="18.0" r="0.37" fill="#a8525a" opacity="0.65"/><circle cx="1.3" cy="34.3" r="0.63" fill="#b87078" opacity="0.60"/><circle cx="131.4" cy="91.5" r="0.36" fill="#b0606a" opacity="0.46"/><circle cx="134.9" cy="18.8" r="0.69" fill="#b87078" opacity="0.72"/><circle cx="101.4" cy="90.1" r="0.43" fill="#c08088" opacity="0.81"/><circle cx="123.4" cy="46.7" r="0.52" fill="#b0606a" opacity="0.75"/><circle cx="21.9" cy="12.0" r="0.48" fill="#a8525a" opacity="0.68"/><circle cx="44.8" cy="79.7" r="0.38" fill="#9c4850" opacity="0.74"/><circle cx="122.0" cy="20.5" r="0.60" fill="#b87078" opacity="0.64"/><circle cx="94.0" cy="59.7" r="0.68" fill="#a8525a" opacity="0.83"/><circle cx="131.6" cy="69.9" r="0.63" fill="#c08088" opacity="0.89"/><circle cx="83.9" cy="42.0" r="0.64" fill="#b87078" opacity="0.86"/><circle cx="124.1" cy="69.5" r="0.38" fill="#c08088" opacity="0.53"/><circle cx="95.5" cy="69.0" r="0.48" fill="#a8525a" opacity="0.53"/><circle cx="44.5" cy="41.6" r="0.45" fill="#c08088" opacity="0.81"/><circle cx="112.5" cy="9.8" r="0.61" fill="#a8525a" opacity="0.77"/><circle cx="12.7" cy="67.1" r="0.40" fill="#b87078" opacity="0.82"/><circle cx="104.3" cy="86.8" r="0.37" fill="#a8525a" opacity="0.89"/><circle cx="113.7" cy="32.5" r="0.44" fill="#c08088" opacity="0.79"/><circle cx="14.5" cy="51.3" r="0.60" fill="#b87078" opacity="0.53"/><circle cx="33.0" cy="79.1" r="0.63" fill="#c08088" opacity="0.77"/><circle cx="70.2" cy="17.1" r="0.50" fill="#a8525a" opacity="0.89"/><circle cx="86.7" cy="76.0" r="0.44" fill="#9c4850" opacity="0.61"/><circle cx="125.1" cy="68.7" r="0.62" fill="#b0606a" opacity="0.76"/><circle cx="83.5" cy="36.2" r="0.47" fill="#b0606a" opacity="0.51"/><circle cx="12.2" cy="69.7" r="0.36" fill="#b87078" opacity="0.75"/><circle cx="15.0" cy="62.8" r="0.43" fill="#b87078" opacity="0.75"/><circle cx="112.3" cy="44.0" r="0.68" fill="#b87078" opacity="0.57"/><circle cx="81.5" cy="64.3" r="0.53" fill="#9c4850" opacity="0.73"/><circle cx="102.7" cy="5.7" r="0.62" fill="#a8525a" opacity="0.65"/><circle cx="117.2" cy="92.0" r="0.35" fill="#9c4850" opacity="0.57"/><circle cx="83.2" cy="32.5" r="0.64" fill="#b87078" opacity="0.70"/><circle cx="15.4" cy="30.4" r="0.65" fill="#a8525a" opacity="0.61"/><circle cx="107.6" cy="58.4" r="0.54" fill="#b0606a" opacity="0.60"/><circle cx="2.5" cy="28.3" r="0.46" fill="#b0606a" opacity="0.50"/><circle cx="53.5" cy="36.7" r="0.55" fill="#9c4850" opacity="0.52"/><circle cx="0.4" cy="44.8" r="0.65" fill="#c08088" opacity="0.48"/><circle cx="6.8" cy="32.5" r="0.48" fill="#a8525a" opacity="0.53"/><circle cx="71.9" cy="81.0" r="0.59" fill="#b87078" opacity="0.71"/><circle cx="60.6" cy="19.0" r="0.38" fill="#a8525a" opacity="0.57"/><circle cx="32.9" cy="81.3" r="0.64" fill="#c08088" opacity="0.59"/><circle cx="98.0" cy="75.9" r="0.66" fill="#a8525a" opacity="0.81"/><circle cx="18.9" cy="84.3" r="0.55" fill="#b87078" opacity="0.47"/><circle cx="64.1" cy="15.1" r="0.49" fill="#c08088" opacity="0.87"/><circle cx="38.0" cy="55.4" r="0.61" fill="#b87078" opacity="0.68"/><circle cx="16.2" cy="64.9" r="0.40" fill="#a8525a" opacity="0.81"/><circle cx="30.0" cy="75.7" r="0.45" fill="#c08088" opacity="0.87"/><circle cx="59.0" cy="32.3" r="0.70" fill="#9c4850" opacity="0.67"/><circle cx="115.2" cy="77.4" r="0.64" fill="#b0606a" opacity="0.71"/><circle cx="90.8" cy="64.5" r="0.49" fill="#a8525a" opacity="0.67"/><circle cx="34.2" cy="16.5" r="0.54" fill="#a8525a" opacity="0.62"/><circle cx="10.0" cy="88.4" r="0.41" fill="#c08088" opacity="0.84"/><circle cx="95.5" cy="71.8" r="0.55" fill="#a8525a" opacity="0.86"/><circle cx="12.1" cy="25.2" r="0.39" fill="#b87078" opacity="0.56"/><circle cx="27.0" cy="67.6" r="0.52" fill="#c08088" opacity="0.48"/><circle cx="5.4" cy="41.5" r="0.53" fill="#9c4850" opacity="0.49"/><circle cx="59.7" cy="6.6" r="0.45" fill="#9c4850" opacity="0.78"/><circle cx="121.9" cy="17.0" r="0.39" fill="#a8525a" opacity="0.47"/><circle cx="61.3" cy="17.5" r="0.54" fill="#a8525a" opacity="0.54"/><circle cx="81.0" cy="91.5" r="0.66" fill="#9c4850" opacity="0.75"/><circle cx="113.8" cy="85.3" r="0.50" fill="#a8525a" opacity="0.65"/><circle cx="70.6" cy="85.0" r="0.47" fill="#b87078" opacity="0.62"/><circle cx="131.3" cy="14.2" r="0.64" fill="#c08088" opacity="0.78"/><circle cx="54.5" cy="55.4" r="0.45" fill="#b87078" opacity="0.75"/><circle cx="74.2" cy="81.0" r="0.39" fill="#9c4850" opacity="0.88"/><circle cx="7.1" cy="80.1" r="0.62" fill="#9c4850" opacity="0.51"/><circle cx="35.9" cy="68.5" r="0.59" fill="#a8525a" opacity="0.60"/><circle cx="106.9" cy="72.5" r="0.51" fill="#b87078" opacity="0.84"/><circle cx="125.1" cy="92.9" r="0.39" fill="#b87078" opacity="0.87"/><circle cx="106.2" cy="34.5" r="0.62" fill="#c08088" opacity="0.52"/><circle cx="113.2" cy="52.1" r="0.69" fill="#a8525a" opacity="0.79"/><circle cx="55.1" cy="50.1" r="0.45" fill="#b0606a" opacity="0.56"/><circle cx="66.2" cy="87.4" r="0.52" fill="#c08088" opacity="0.47"/><circle cx="134.2" cy="24.4" r="0.42" fill="#b87078" opacity="0.49"/><circle cx="110.0" cy="67.0" r="0.36" fill="#9c4850" opacity="0.55"/><circle cx="12.9" cy="70.1" r="0.68" fill="#9c4850" opacity="0.85"/><circle cx="84.0" cy="5.2" r="0.63" fill="#b0606a" opacity="0.76"/><circle cx="52.4" cy="43.6" r="0.65" fill="#9c4850" opacity="0.46"/><circle cx="92.3" cy="91.5" r="0.65" fill="#b0606a" opacity="0.50"/><circle cx="98.2" cy="87.3" r="0.51" fill="#b0606a" opacity="0.58"/><circle cx="116.6" cy="42.1" r="0.65" fill="#b87078" opacity="0.78"/><circle cx="47.2" cy="4.1" r="0.54" fill="#b87078" opacity="0.80"/><circle cx="15.7" cy="43.7" r="0.47" fill="#a8525a" opacity="0.65"/><circle cx="44.6" cy="21.8" r="0.44" fill="#9c4850" opacity="0.54"/><circle cx="12.4" cy="35.5" r="0.46" fill="#b87078" opacity="0.79"/><circle cx="55.7" cy="91.6" r="0.59" fill="#b0606a" opacity="0.59"/><circle cx="19.8" cy="8.6" r="0.59" fill="#b87078" opacity="0.57"/><circle cx="24.1" cy="39.3" r="0.46" fill="#b0606a" opacity="0.58"/><circle cx="2.8" cy="22.6" r="0.68" fill="#a8525a" opacity="0.74"/><circle cx="24.1" cy="33.6" r="0.45" fill="#c08088" opacity="0.72"/><circle cx="44.6" cy="87.5" r="0.57" fill="#b87078" opacity="0.79"/><circle cx="115.7" cy="86.3" r="0.43" fill="#c08088" opacity="0.83"/><circle cx="125.6" cy="59.9" r="0.36" fill="#b87078" opacity="0.68"/><circle cx="77.1" cy="27.5" r="0.38" fill="#b87078" opacity="0.82"/><circle cx="58.4" cy="11.2" r="0.55" fill="#b0606a" opacity="0.46"/><circle cx="42.2" cy="78.8" r="0.39" fill="#c08088" opacity="0.76"/><circle cx="81.7" cy="64.4" r="0.52" fill="#9c4850" opacity="0.79"/><circle cx="116.5" cy="78.6" r="0.63" fill="#c08088" opacity="0.79"/><circle cx="59.4" cy="5.4" r="0.43" fill="#b87078" opacity="0.53"/><circle cx="114.1" cy="66.3" r="0.70" fill="#9c4850" opacity="0.58"/><circle cx="51.8" cy="16.4" r="0.52" fill="#b0606a" opacity="0.70"/><circle cx="13.6" cy="79.9" r="0.68" fill="#9c4850" opacity="0.72"/><circle cx="43.9" cy="91.0" r="0.69" fill="#b87078" opacity="0.71"/><circle cx="70.6" cy="9.1" r="0.59" fill="#c08088" opacity="0.56"/><circle cx="41.8" cy="58.5" r="0.40" fill="#b0606a" opacity="0.62"/><circle cx="32.8" cy="17.4" r="0.66" fill="#b87078" opacity="0.58"/><circle cx="55.5" cy="73.0" r="0.56" fill="#b87078" opacity="0.90"/><circle cx="3.1" cy="59.7" r="0.44" fill="#b87078" opacity="0.65"/><circle cx="29.2" cy="16.5" r="0.57" fill="#a8525a" opacity="0.48"/><circle cx="100.4" cy="10.4" r="0.58" fill="#b87078" opacity="0.78"/><circle cx="75.2" cy="12.5" r="0.53" fill="#c08088" opacity="0.45"/><circle cx="18.1" cy="34.8" r="0.56" fill="#b87078" opacity="0.46"/><circle cx="105.5" cy="31.9" r="0.49" fill="#b0606a" opacity="0.66"/><circle cx="127.9" cy="37.7" r="0.38" fill="#b0606a" opacity="0.81"/><circle cx="110.3" cy="46.2" r="0.67" fill="#b0606a" opacity="0.78"/><circle cx="74.0" cy="3.3" r="0.55" fill="#b0606a" opacity="0.78"/><circle cx="38.9" cy="22.1" r="0.48" fill="#b87078" opacity="0.46"/><circle cx="85.7" cy="54.1" r="0.48" fill="#b87078" opacity="0.54"/><circle cx="59.1" cy="31.2" r="0.42" fill="#b0606a" opacity="0.65"/><circle cx="28.0" cy="1.5" r="0.70" fill="#9c4850" opacity="0.50"/><circle cx="130.5" cy="13.4" r="0.63" fill="#b87078" opacity="0.52"/><circle cx="120.7" cy="35.3" r="0.49" fill="#9c4850" opacity="0.55"/><circle cx="37.4" cy="3.1" r="0.38" fill="#b0606a" opacity="0.81"/><circle cx="61.0" cy="77.2" r="0.45" fill="#b87078" opacity="0.49"/><circle cx="118.9" cy="2.0" r="0.52" fill="#9c4850" opacity="0.62"/><circle cx="58.9" cy="52.2" r="0.40" fill="#a8525a" opacity="0.54"/><circle cx="2.4" cy="76.0" r="0.54" fill="#b87078" opacity="0.65"/><circle cx="18.5" cy="84.2" r="0.43" fill="#b0606a" opacity="0.83"/><circle cx="89.8" cy="92.1" r="0.52" fill="#b87078" opacity="0.65"/><circle cx="105.0" cy="14.5" r="0.59" fill="#9c4850" opacity="0.69"/><circle cx="84.6" cy="76.8" r="0.50" fill="#b87078" opacity="0.62"/><circle cx="48.9" cy="65.9" r="0.58" fill="#a8525a" opacity="0.89"/><circle cx="24.0" cy="21.6" r="0.52" fill="#b87078" opacity="0.61"/><circle cx="126.9" cy="11.6" r="0.35" fill="#a8525a" opacity="0.65"/><circle cx="67.2" cy="33.0" r="1.20" fill="#a8525a" opacity=".85"/><circle cx="117.6" cy="12.5" r="0.76" fill="#b0606a" opacity=".85"/><circle cx="85.6" cy="88.8" r="1.00" fill="#9c4850" opacity=".85"/><circle cx="87.1" cy="64.2" r="1.00" fill="#b0606a" opacity=".85"/><circle cx="34.4" cy="12.4" r="1.22" fill="#b0606a" opacity=".85"/><circle cx="36.6" cy="76.8" r="1.08" fill="#9c4850" opacity=".85"/><circle cx="118.8" cy="32.0" r="0.91" fill="#a8525a" opacity=".85"/><circle cx="59.9" cy="39.5" r="1.24" fill="#b0606a" opacity=".85"/><circle cx="110.1" cy="92.8" r="1.06" fill="#b0606a" opacity=".85"/><circle cx="58.3" cy="37.5" r="0.81" fill="#9c4850" opacity=".85"/><circle cx="19.3" cy="2.8" r="1.03" fill="#b0606a" opacity=".85"/><circle cx="131.2" cy="15.9" r="0.81" fill="#b0606a" opacity=".85"/><circle cx="121.8" cy="34.2" r="0.81" fill="#9c4850" opacity=".85"/><circle cx="98.1" cy="75.9" r="0.71" fill="#a8525a" opacity=".85"/><circle cx="91.3" cy="55.6" r="0.88" fill="#a8525a" opacity=".85"/><circle cx="52.3" cy="35.0" r="1.20" fill="#a8525a" opacity=".85"/><circle cx="46.6" cy="66.6" r="0.74" fill="#9c4850" opacity=".85"/><circle cx="39.1" cy="13.2" r="1.03" fill="#9c4850" opacity=".85"/><circle cx="80.4" cy="18.6" r="0.84" fill="#9c4850" opacity=".85"/><circle cx="89.5" cy="2.3" r="1.24" fill="#a8525a" opacity=".85"/><circle cx="131.6" cy="22.8" r="0.74" fill="#b0606a" opacity=".85"/><circle cx="16.5" cy="19.9" r="0.91" fill="#9c4850" opacity=".85"/><circle cx="23.8" cy="19.5" r="0.71" fill="#b0606a" opacity=".85"/><circle cx="17.7" cy="60.9" r="0.72" fill="#a8525a" opacity=".85"/><circle cx="47.1" cy="75.9" r="1.23" fill="#a8525a" opacity=".85"/><circle cx="125.0" cy="11.6" r="1.19" fill="#b0606a" opacity=".85"/><circle cx="46.1" cy="81.7" r="1.16" fill="#b0606a" opacity=".85"/><circle cx="117.2" cy="1.0" r="0.82" fill="#9c4850" opacity=".85"/><circle cx="106.9" cy="76.5" r="1.23" fill="#9c4850" opacity=".85"/><circle cx="126.3" cy="62.0" r="1.17" fill="#b0606a" opacity=".85"/><circle cx="126.7" cy="65.6" r="1.07" fill="#b0606a" opacity=".85"/><circle cx="77.5" cy="69.8" r="0.77" fill="#a8525a" opacity=".85"/><circle cx="7.3" cy="6.7" r="1.06" fill="#a8525a" opacity=".85"/><circle cx="89.0" cy="30.4" r="1.11" fill="#9c4850" opacity=".85"/><circle cx="42.8" cy="70.6" r="1.11" fill="#a8525a" opacity=".85"/><circle cx="54.1" cy="89.9" r="0.78" fill="#a8525a" opacity=".85"/><circle cx="81.3" cy="83.6" r="0.92" fill="#b0606a" opacity=".85"/><circle cx="45.4" cy="38.6" r="0.88" fill="#a8525a" opacity=".85"/><circle cx="97.8" cy="1.8" r="0.89" fill="#a8525a" opacity=".85"/><circle cx="6.0" cy="13.4" r="0.86" fill="#9c4850" opacity=".85"/><circle cx="19.3" cy="18.2" r="1.22" fill="#a8525a" opacity=".85"/><circle cx="93.3" cy="67.5" r="0.90" fill="#b0606a" opacity=".85"/><circle cx="19.1" cy="82.6" r="1.24" fill="#b0606a" opacity=".85"/><circle cx="42.7" cy="73.8" r="0.94" fill="#a8525a" opacity=".85"/><circle cx="20.4" cy="72.5" r="1.24" fill="#a8525a" opacity=".85"/><circle cx="99.4" cy="48.7" r="1.17" fill="#b0606a" opacity=".85"/><circle cx="37.2" cy="53.8" r="1.13" fill="#a8525a" opacity=".85"/><circle cx="39.0" cy="36.0" r="1.17" fill="#b0606a" opacity=".85"/><circle cx="126.8" cy="48.0" r="1.20" fill="#a8525a" opacity=".85"/><circle cx="98.6" cy="77.9" r="1.18" fill="#9c4850" opacity=".85"/><circle cx="108.7" cy="88.1" r="0.71" fill="#9c4850" opacity=".85"/><circle cx="114.8" cy="56.2" r="0.87" fill="#9c4850" opacity=".85"/><circle cx="113.4" cy="36.4" r="0.85" fill="#b0606a" opacity=".85"/><circle cx="119.2" cy="43.7" r="1.16" fill="#b0606a" opacity=".85"/><circle cx="134.6" cy="21.1" r="0.94" fill="#9c4850" opacity=".85"/><circle cx="74.4" cy="45.8" r="1.17" fill="#a8525a" opacity=".85"/><circle cx="125.0" cy="17.8" r="0.83" fill="#b0606a" opacity=".85"/><circle cx="3.0" cy="23.7" r="0.74" fill="#a8525a" opacity=".85"/><circle cx="96.5" cy="3.6" r="1.20" fill="#9c4850" opacity=".85"/><circle cx="102.1" cy="35.8" r="0.86" fill="#9c4850" opacity=".85"/><circle cx="54.6" cy="51.3" r="1.19" fill="#9c4850" opacity=".85"/><circle cx="53.0" cy="36.9" r="1.14" fill="#a8525a" opacity=".85"/><circle cx="96.5" cy="44.0" r="1.01" fill="#b0606a" opacity=".85"/><circle cx="37.2" cy="68.8" r="0.82" fill="#a8525a" opacity=".85"/><circle cx="32.2" cy="73.7" r="1.23" fill="#9c4850" opacity=".85"/><circle cx="111.0" cy="41.6" r="0.99" fill="#9c4850" opacity=".85"/><circle cx="24.1" cy="9.7" r="1.11" fill="#a8525a" opacity=".85"/><circle cx="116.4" cy="33.4" r="0.99" fill="#b0606a" opacity=".85"/><circle cx="78.9" cy="85.2" r="0.96" fill="#b0606a" opacity=".85"/><circle cx="30.4" cy="52.0" r="1.25" fill="#9c4850" opacity=".85"/><circle cx="41.0" cy="6.0" r="1.30" fill="#a03840"/><circle cx="87.0" cy="9.0" r="1.50" fill="#a03840"/><circle cx="94.0" cy="9.0" r="1.30" fill="#a03840"/><circle cx="24.0" cy="37.0" r="1.20" fill="#a03840"/><circle cx="25.0" cy="72.0" r="1.50" fill="#a03840"/><circle cx="109.0" cy="90.0" r="1.40" fill="#a03840"/><circle cx="9.0" cy="57.0" r="1.60" fill="#a03840"/><circle cx="60.0" cy="83.0" r="1.40" fill="#a03840"/><circle cx="76.0" cy="82.0" r="1.20" fill="#a03840"/><circle cx="121.0" cy="10.0" r="1.10" fill="#a03840"/></g>
<rect x="119.3" y="89.6" width="10.7" height="1.1" fill="#000"/>
<text x="124.6" y="87.3" font-size="6" font-weight="bold" fill="#000" text-anchor="middle">20µm</text>
</svg>
<svg x="497.3" y="692.7" width="137.4" height="93.2" viewBox="0 0 137.4 93.2" overflow="hidden">
<rect width="137.4" height="93.2" fill="#e1dfdd"/>
<rect width="137.4" height="93.2" filter="url(#htex)"/>
<g filter="url(#b0)"><circle cx="20.4" cy="57.4" r="0.41" fill="#c08088" opacity="0.53"/><circle cx="40.2" cy="40.0" r="0.55" fill="#c08088" opacity="0.69"/><circle cx="102.5" cy="82.5" r="0.41" fill="#b87078" opacity="0.65"/><circle cx="70.1" cy="7.9" r="0.37" fill="#b0606a" opacity="0.72"/><circle cx="60.7" cy="46.7" r="0.43" fill="#c08088" opacity="0.69"/><circle cx="67.4" cy="38.4" r="0.52" fill="#a8525a" opacity="0.56"/><circle cx="12.6" cy="31.0" r="0.59" fill="#c08088" opacity="0.64"/><circle cx="82.8" cy="78.3" r="0.40" fill="#b0606a" opacity="0.61"/><circle cx="9.9" cy="22.1" r="0.45" fill="#b0606a" opacity="0.70"/><circle cx="60.5" cy="62.3" r="0.66" fill="#9c4850" opacity="0.74"/><circle cx="64.6" cy="88.3" r="0.51" fill="#c08088" opacity="0.76"/><circle cx="53.7" cy="69.2" r="0.56" fill="#c08088" opacity="0.73"/><circle cx="73.3" cy="90.8" r="0.53" fill="#b87078" opacity="0.50"/><circle cx="65.1" cy="81.5" r="0.46" fill="#c08088" opacity="0.85"/><circle cx="52.8" cy="23.7" r="0.59" fill="#b0606a" opacity="0.55"/><circle cx="61.5" cy="61.8" r="0.43" fill="#b87078" opacity="0.51"/><circle cx="82.5" cy="49.6" r="0.35" fill="#b0606a" opacity="0.63"/><circle cx="20.6" cy="11.1" r="0.40" fill="#b87078" opacity="0.57"/><circle cx="36.7" cy="41.5" r="0.61" fill="#b87078" opacity="0.53"/><circle cx="40.8" cy="69.3" r="0.42" fill="#b87078" opacity="0.53"/><circle cx="107.4" cy="73.9" r="0.55" fill="#b0606a" opacity="0.74"/><circle cx="31.2" cy="8.7" r="0.41" fill="#b87078" opacity="0.75"/><circle cx="105.0" cy="86.3" r="0.59" fill="#b0606a" opacity="0.45"/><circle cx="38.0" cy="20.4" r="0.58" fill="#b0606a" opacity="0.77"/><circle cx="131.9" cy="59.5" r="0.52" fill="#b0606a" opacity="0.57"/><circle cx="107.0" cy="67.8" r="0.65" fill="#a8525a" opacity="0.76"/><circle cx="91.9" cy="85.7" r="0.40" fill="#c08088" opacity="0.63"/><circle cx="101.8" cy="6.9" r="0.62" fill="#c08088" opacity="0.51"/><circle cx="125.7" cy="42.3" r="0.44" fill="#b0606a" opacity="0.77"/><circle cx="35.8" cy="91.3" r="0.67" fill="#b0606a" opacity="0.87"/><circle cx="66.5" cy="88.9" r="0.37" fill="#c08088" opacity="0.79"/><circle cx="131.7" cy="2.9" r="0.53" fill="#c08088" opacity="0.71"/><circle cx="22.3" cy="23.7" r="0.38" fill="#b0606a" opacity="0.88"/><circle cx="76.0" cy="7.4" r="0.59" fill="#a8525a" opacity="0.50"/><circle cx="111.9" cy="61.3" r="0.67" fill="#a8525a" opacity="0.77"/><circle cx="119.2" cy="37.0" r="0.57" fill="#b87078" opacity="0.51"/><circle cx="46.5" cy="44.0" r="0.48" fill="#b87078" opacity="0.56"/><circle cx="66.4" cy="19.1" r="0.39" fill="#9c4850" opacity="0.61"/><circle cx="73.8" cy="67.3" r="0.56" fill="#b87078" opacity="0.90"/><circle cx="2.5" cy="42.1" r="0.70" fill="#9c4850" opacity="0.69"/><circle cx="133.5" cy="5.2" r="0.52" fill="#b87078" opacity="0.48"/><circle cx="27.1" cy="68.1" r="0.69" fill="#b0606a" opacity="0.56"/><circle cx="25.1" cy="25.8" r="0.69" fill="#b0606a" opacity="0.83"/><circle cx="87.1" cy="26.4" r="0.38" fill="#c08088" opacity="0.84"/><circle cx="122.5" cy="24.7" r="0.61" fill="#b0606a" opacity="0.54"/><circle cx="3.2" cy="16.2" r="0.43" fill="#c08088" opacity="0.82"/><circle cx="112.5" cy="64.2" r="0.69" fill="#b87078" opacity="0.72"/><circle cx="55.2" cy="57.0" r="0.56" fill="#b0606a" opacity="0.78"/><circle cx="67.4" cy="47.7" r="0.63" fill="#a8525a" opacity="0.65"/><circle cx="38.9" cy="6.0" r="0.53" fill="#9c4850" opacity="0.64"/><circle cx="107.5" cy="85.8" r="0.69" fill="#b87078" opacity="0.80"/><circle cx="11.4" cy="43.9" r="0.48" fill="#a8525a" opacity="0.85"/><circle cx="101.3" cy="27.4" r="0.46" fill="#b87078" opacity="0.68"/><circle cx="87.3" cy="67.5" r="0.42" fill="#b87078" opacity="0.56"/><circle cx="52.6" cy="49.7" r="0.67" fill="#c08088" opacity="0.46"/><circle cx="69.0" cy="26.4" r="0.56" fill="#a8525a" opacity="0.87"/><circle cx="52.4" cy="39.4" r="0.36" fill="#a8525a" opacity="0.78"/><circle cx="47.7" cy="57.7" r="0.54" fill="#9c4850" opacity="0.57"/><circle cx="91.1" cy="9.2" r="0.67" fill="#9c4850" opacity="0.61"/><circle cx="21.7" cy="34.0" r="0.49" fill="#a8525a" opacity="0.62"/><circle cx="88.7" cy="16.9" r="0.66" fill="#b87078" opacity="0.78"/><circle cx="134.6" cy="15.8" r="0.48" fill="#b87078" opacity="0.66"/><circle cx="116.1" cy="47.6" r="0.35" fill="#c08088" opacity="0.62"/><circle cx="4.9" cy="11.2" r="0.67" fill="#c08088" opacity="0.84"/><circle cx="107.8" cy="91.1" r="0.63" fill="#a8525a" opacity="0.64"/><circle cx="135.4" cy="77.7" r="0.53" fill="#b0606a" opacity="0.50"/><circle cx="75.0" cy="13.6" r="0.52" fill="#9c4850" opacity="0.66"/><circle cx="122.7" cy="55.5" r="0.41" fill="#b0606a" opacity="0.82"/><circle cx="57.1" cy="64.2" r="0.60" fill="#b0606a" opacity="0.66"/><circle cx="51.5" cy="70.0" r="0.47" fill="#b0606a" opacity="0.53"/><circle cx="10.2" cy="69.6" r="0.59" fill="#a8525a" opacity="0.79"/><circle cx="44.5" cy="90.5" r="0.49" fill="#a8525a" opacity="0.72"/><circle cx="113.6" cy="57.1" r="0.43" fill="#9c4850" opacity="0.74"/><circle cx="41.2" cy="43.6" r="0.46" fill="#b0606a" opacity="0.54"/><circle cx="39.7" cy="78.3" r="0.49" fill="#9c4850" opacity="0.60"/><circle cx="88.3" cy="27.0" r="0.65" fill="#9c4850" opacity="0.83"/><circle cx="122.7" cy="86.4" r="0.67" fill="#b87078" opacity="0.76"/><circle cx="53.4" cy="9.9" r="0.67" fill="#b87078" opacity="0.89"/><circle cx="67.2" cy="77.6" r="0.66" fill="#a8525a" opacity="0.50"/><circle cx="107.7" cy="87.7" r="0.69" fill="#c08088" opacity="0.71"/><circle cx="122.2" cy="55.1" r="0.65" fill="#b0606a" opacity="0.62"/><circle cx="17.0" cy="69.9" r="0.68" fill="#b87078" opacity="0.81"/><circle cx="107.2" cy="4.1" r="0.67" fill="#b87078" opacity="0.50"/><circle cx="14.0" cy="86.8" r="0.50" fill="#b87078" opacity="0.48"/><circle cx="66.1" cy="69.5" r="0.62" fill="#b0606a" opacity="0.69"/><circle cx="21.0" cy="37.0" r="0.58" fill="#c08088" opacity="0.83"/><circle cx="66.3" cy="84.4" r="0.44" fill="#c08088" opacity="0.67"/><circle cx="1.9" cy="74.4" r="0.55" fill="#b0606a" opacity="0.56"/><circle cx="33.3" cy="25.8" r="0.62" fill="#b87078" opacity="0.49"/><circle cx="90.5" cy="12.7" r="0.36" fill="#c08088" opacity="0.54"/><circle cx="80.3" cy="93.1" r="0.47" fill="#c08088" opacity="0.64"/><circle cx="81.4" cy="80.7" r="0.58" fill="#b87078" opacity="0.78"/><circle cx="38.7" cy="7.9" r="0.62" fill="#b0606a" opacity="0.45"/><circle cx="119.8" cy="19.7" r="0.55" fill="#c08088" opacity="0.46"/><circle cx="15.0" cy="37.5" r="0.52" fill="#a8525a" opacity="0.64"/><circle cx="25.5" cy="35.6" r="0.61" fill="#b0606a" opacity="0.73"/><circle cx="118.6" cy="93.0" r="0.44" fill="#9c4850" opacity="0.74"/><circle cx="3.7" cy="92.4" r="0.49" fill="#b0606a" opacity="0.55"/><circle cx="58.2" cy="11.0" r="0.69" fill="#a8525a" opacity="0.56"/><circle cx="87.2" cy="68.4" r="0.44" fill="#b0606a" opacity="0.87"/><circle cx="96.0" cy="41.8" r="0.60" fill="#9c4850" opacity="0.61"/><circle cx="106.4" cy="20.6" r="0.49" fill="#c08088" opacity="0.78"/><circle cx="55.1" cy="50.7" r="0.50" fill="#a8525a" opacity="0.69"/><circle cx="62.2" cy="39.1" r="0.66" fill="#a8525a" opacity="0.56"/><circle cx="54.7" cy="83.9" r="0.61" fill="#c08088" opacity="0.76"/><circle cx="30.6" cy="65.4" r="0.46" fill="#b87078" opacity="0.65"/><circle cx="56.2" cy="40.2" r="0.56" fill="#b0606a" opacity="0.62"/><circle cx="70.8" cy="31.7" r="0.54" fill="#9c4850" opacity="0.75"/><circle cx="2.2" cy="35.3" r="0.39" fill="#c08088" opacity="0.58"/><circle cx="11.6" cy="61.3" r="0.69" fill="#9c4850" opacity="0.89"/><circle cx="125.4" cy="33.3" r="0.55" fill="#b87078" opacity="0.71"/><circle cx="137.2" cy="35.1" r="0.48" fill="#a8525a" opacity="0.71"/><circle cx="120.5" cy="40.5" r="0.57" fill="#c08088" opacity="0.86"/><circle cx="125.3" cy="27.6" r="0.70" fill="#b87078" opacity="0.62"/><circle cx="12.9" cy="88.8" r="0.48" fill="#a8525a" opacity="0.61"/><circle cx="53.6" cy="31.3" r="0.55" fill="#b87078" opacity="0.85"/><circle cx="35.4" cy="93.1" r="0.66" fill="#b0606a" opacity="0.90"/><circle cx="102.0" cy="78.6" r="0.63" fill="#b0606a" opacity="0.61"/><circle cx="112.7" cy="28.3" r="0.51" fill="#c08088" opacity="0.87"/><circle cx="118.5" cy="40.6" r="0.67" fill="#c08088" opacity="0.55"/><circle cx="53.4" cy="16.5" r="0.61" fill="#9c4850" opacity="0.74"/><circle cx="49.3" cy="75.4" r="0.61" fill="#a8525a" opacity="0.61"/><circle cx="2.0" cy="52.4" r="0.55" fill="#a8525a" opacity="0.83"/><circle cx="108.4" cy="27.0" r="0.39" fill="#9c4850" opacity="0.53"/><circle cx="113.9" cy="25.2" r="0.66" fill="#c08088" opacity="0.89"/><circle cx="33.0" cy="55.8" r="0.59" fill="#a8525a" opacity="0.65"/><circle cx="1.4" cy="79.9" r="0.47" fill="#a8525a" opacity="0.56"/><circle cx="79.9" cy="79.4" r="0.35" fill="#b87078" opacity="0.51"/><circle cx="3.7" cy="46.0" r="0.49" fill="#b87078" opacity="0.89"/><circle cx="88.4" cy="9.7" r="0.55" fill="#c08088" opacity="0.66"/><circle cx="29.3" cy="48.9" r="0.49" fill="#a8525a" opacity="0.61"/><circle cx="79.7" cy="19.7" r="0.68" fill="#a8525a" opacity="0.82"/><circle cx="130.9" cy="27.5" r="0.55" fill="#c08088" opacity="0.78"/><circle cx="18.8" cy="24.0" r="0.70" fill="#c08088" opacity="0.52"/><circle cx="27.1" cy="61.0" r="0.55" fill="#b87078" opacity="0.72"/><circle cx="83.2" cy="20.9" r="0.48" fill="#b0606a" opacity="0.70"/><circle cx="123.2" cy="91.1" r="0.50" fill="#9c4850" opacity="0.88"/><circle cx="77.1" cy="46.8" r="0.38" fill="#a8525a" opacity="0.73"/><circle cx="7.8" cy="56.7" r="0.63" fill="#a8525a" opacity="0.87"/><circle cx="84.2" cy="29.9" r="0.46" fill="#a8525a" opacity="0.47"/><circle cx="65.8" cy="67.8" r="0.41" fill="#a8525a" opacity="0.63"/><circle cx="114.0" cy="2.5" r="0.38" fill="#9c4850" opacity="0.78"/><circle cx="92.1" cy="81.3" r="0.61" fill="#b87078" opacity="0.85"/><circle cx="7.9" cy="5.6" r="0.45" fill="#b87078" opacity="0.81"/><circle cx="133.0" cy="88.0" r="0.57" fill="#b87078" opacity="0.48"/><circle cx="39.1" cy="51.0" r="0.51" fill="#b0606a" opacity="0.71"/><circle cx="122.3" cy="5.9" r="0.43" fill="#b87078" opacity="0.71"/><circle cx="76.2" cy="46.2" r="0.36" fill="#b0606a" opacity="0.67"/><circle cx="59.8" cy="2.2" r="0.53" fill="#b87078" opacity="0.88"/><circle cx="105.1" cy="82.7" r="0.62" fill="#a8525a" opacity="0.74"/><circle cx="113.1" cy="35.1" r="0.48" fill="#b0606a" opacity="0.60"/><circle cx="121.4" cy="53.5" r="0.45" fill="#c08088" opacity="0.80"/><circle cx="128.7" cy="87.4" r="0.38" fill="#b0606a" opacity="0.52"/><circle cx="84.0" cy="70.4" r="0.57" fill="#c08088" opacity="0.51"/><circle cx="76.7" cy="4.9" r="0.59" fill="#b0606a" opacity="0.59"/><circle cx="52.3" cy="6.8" r="0.66" fill="#9c4850" opacity="0.79"/><circle cx="124.1" cy="28.0" r="0.62" fill="#b87078" opacity="0.69"/><circle cx="54.8" cy="45.3" r="0.68" fill="#a8525a" opacity="0.89"/><circle cx="72.8" cy="45.0" r="0.64" fill="#a8525a" opacity="0.67"/><circle cx="41.2" cy="31.1" r="0.56" fill="#b0606a" opacity="0.83"/><circle cx="24.1" cy="65.9" r="0.69" fill="#9c4850" opacity="0.59"/><circle cx="129.7" cy="72.6" r="0.52" fill="#9c4850" opacity="0.64"/><circle cx="103.9" cy="24.4" r="0.53" fill="#9c4850" opacity="0.83"/><circle cx="37.5" cy="49.0" r="0.48" fill="#b87078" opacity="0.65"/><circle cx="52.0" cy="57.2" r="0.41" fill="#b87078" opacity="0.75"/><circle cx="2.7" cy="29.0" r="0.37" fill="#9c4850" opacity="0.46"/><circle cx="102.2" cy="0.5" r="0.40" fill="#b0606a" opacity="0.46"/><circle cx="110.4" cy="68.9" r="0.60" fill="#a8525a" opacity="0.67"/><circle cx="111.9" cy="15.1" r="0.63" fill="#9c4850" opacity="0.66"/><circle cx="120.2" cy="55.2" r="0.36" fill="#b0606a" opacity="0.72"/><circle cx="136.9" cy="64.4" r="0.36" fill="#b0606a" opacity="0.67"/><circle cx="80.0" cy="15.3" r="0.36" fill="#9c4850" opacity="0.63"/><circle cx="33.7" cy="65.9" r="0.60" fill="#a8525a" opacity="0.83"/><circle cx="133.6" cy="16.8" r="0.47" fill="#c08088" opacity="0.81"/><circle cx="59.6" cy="35.1" r="0.68" fill="#a8525a" opacity="0.68"/><circle cx="117.5" cy="90.2" r="0.64" fill="#b87078" opacity="0.62"/><circle cx="92.2" cy="81.2" r="0.45" fill="#c08088" opacity="0.79"/><circle cx="130.1" cy="82.7" r="0.57" fill="#a8525a" opacity="0.54"/><circle cx="32.4" cy="80.9" r="0.53" fill="#b0606a" opacity="0.76"/><circle cx="73.9" cy="17.8" r="0.69" fill="#9c4850" opacity="0.83"/><circle cx="10.8" cy="10.0" r="0.43" fill="#a8525a" opacity="0.60"/><circle cx="57.1" cy="86.7" r="0.58" fill="#9c4850" opacity="0.69"/><circle cx="25.4" cy="83.7" r="0.69" fill="#c08088" opacity="0.49"/><circle cx="36.2" cy="29.9" r="0.42" fill="#9c4850" opacity="0.45"/><circle cx="58.9" cy="91.8" r="0.62" fill="#b87078" opacity="0.52"/><circle cx="93.9" cy="72.9" r="0.51" fill="#9c4850" opacity="0.49"/><circle cx="124.1" cy="89.4" r="0.42" fill="#a8525a" opacity="0.81"/><circle cx="14.7" cy="43.6" r="0.42" fill="#9c4850" opacity="0.55"/><circle cx="36.9" cy="61.9" r="0.47" fill="#c08088" opacity="0.71"/><circle cx="119.7" cy="74.5" r="0.48" fill="#c08088" opacity="0.64"/><circle cx="91.9" cy="43.1" r="0.65" fill="#a8525a" opacity="0.46"/><circle cx="119.5" cy="47.0" r="0.44" fill="#a8525a" opacity="0.64"/><circle cx="54.4" cy="74.9" r="0.67" fill="#a8525a" opacity="0.58"/><circle cx="120.2" cy="48.6" r="0.68" fill="#a8525a" opacity="0.66"/><circle cx="13.9" cy="56.5" r="0.53" fill="#a8525a" opacity="0.70"/><circle cx="4.1" cy="34.0" r="0.40" fill="#b87078" opacity="0.76"/><circle cx="18.2" cy="65.6" r="0.38" fill="#b87078" opacity="0.86"/><circle cx="11.3" cy="9.6" r="0.46" fill="#c08088" opacity="0.74"/><circle cx="70.0" cy="52.5" r="0.41" fill="#a8525a" opacity="0.50"/><circle cx="93.2" cy="39.5" r="0.56" fill="#b87078" opacity="0.50"/><circle cx="113.2" cy="84.1" r="0.69" fill="#a8525a" opacity="0.63"/><circle cx="4.8" cy="40.9" r="0.45" fill="#b87078" opacity="0.53"/><circle cx="81.8" cy="75.2" r="0.63" fill="#9c4850" opacity="0.68"/><circle cx="73.9" cy="71.1" r="0.61" fill="#a8525a" opacity="0.84"/><circle cx="37.5" cy="31.2" r="0.49" fill="#9c4850" opacity="0.53"/><circle cx="24.6" cy="8.7" r="0.60" fill="#9c4850" opacity="0.74"/><circle cx="102.2" cy="25.7" r="0.36" fill="#a8525a" opacity="0.86"/><circle cx="68.7" cy="22.0" r="0.52" fill="#c08088" opacity="0.80"/><circle cx="32.0" cy="67.8" r="0.48" fill="#a8525a" opacity="0.61"/><circle cx="52.7" cy="26.4" r="0.50" fill="#b0606a" opacity="0.79"/><circle cx="91.9" cy="29.2" r="0.38" fill="#c08088" opacity="0.51"/><circle cx="46.8" cy="66.7" r="0.52" fill="#9c4850" opacity="0.67"/><circle cx="95.4" cy="46.8" r="0.47" fill="#a8525a" opacity="0.78"/><circle cx="52.5" cy="0.8" r="0.51" fill="#9c4850" opacity="0.55"/><circle cx="129.5" cy="5.0" r="0.50" fill="#b87078" opacity="0.76"/><circle cx="27.2" cy="52.3" r="0.64" fill="#a8525a" opacity="0.57"/><circle cx="57.7" cy="2.5" r="0.45" fill="#b87078" opacity="0.61"/><circle cx="114.9" cy="89.9" r="0.51" fill="#a8525a" opacity="0.69"/><circle cx="59.1" cy="82.5" r="0.66" fill="#a8525a" opacity="0.78"/><circle cx="9.0" cy="78.6" r="0.55" fill="#c08088" opacity="0.63"/><circle cx="28.5" cy="22.1" r="0.41" fill="#b87078" opacity="0.82"/><circle cx="53.4" cy="9.9" r="0.55" fill="#c08088" opacity="0.72"/><circle cx="9.4" cy="15.3" r="0.37" fill="#b87078" opacity="0.67"/><circle cx="117.4" cy="11.6" r="0.57" fill="#a8525a" opacity="0.56"/><circle cx="58.2" cy="5.0" r="0.63" fill="#b0606a" opacity="0.90"/><circle cx="95.9" cy="91.1" r="0.40" fill="#b0606a" opacity="0.73"/><circle cx="69.5" cy="7.0" r="0.37" fill="#9c4850" opacity="0.53"/><circle cx="94.2" cy="13.5" r="0.58" fill="#a8525a" opacity="0.85"/><circle cx="94.9" cy="27.1" r="0.61" fill="#b0606a" opacity="0.88"/><circle cx="34.8" cy="61.8" r="0.39" fill="#9c4850" opacity="0.87"/><circle cx="125.1" cy="78.0" r="0.61" fill="#a8525a" opacity="0.67"/><circle cx="94.9" cy="3.3" r="0.36" fill="#a8525a" opacity="0.77"/><circle cx="26.7" cy="68.9" r="0.63" fill="#9c4850" opacity="0.60"/><circle cx="64.6" cy="12.9" r="0.55" fill="#b87078" opacity="0.89"/><circle cx="136.3" cy="75.6" r="0.68" fill="#b87078" opacity="0.62"/><circle cx="90.4" cy="42.6" r="0.46" fill="#9c4850" opacity="0.72"/><circle cx="55.1" cy="86.4" r="0.40" fill="#9c4850" opacity="0.61"/><circle cx="0.1" cy="4.0" r="0.48" fill="#b0606a" opacity="0.83"/><circle cx="135.1" cy="31.3" r="0.49" fill="#b87078" opacity="0.76"/><circle cx="132.8" cy="78.7" r="0.51" fill="#9c4850" opacity="0.79"/><circle cx="10.8" cy="72.0" r="0.61" fill="#9c4850" opacity="0.89"/><circle cx="72.1" cy="18.3" r="0.64" fill="#9c4850" opacity="0.61"/><circle cx="42.8" cy="2.4" r="0.56" fill="#b87078" opacity="0.49"/><circle cx="101.1" cy="43.8" r="0.58" fill="#9c4850" opacity="0.79"/><circle cx="118.1" cy="74.7" r="0.64" fill="#9c4850" opacity="0.49"/><circle cx="104.2" cy="25.4" r="0.43" fill="#b87078" opacity="0.68"/><circle cx="31.5" cy="58.6" r="0.46" fill="#b0606a" opacity="0.65"/><circle cx="1.2" cy="44.1" r="0.39" fill="#a8525a" opacity="0.84"/><circle cx="49.5" cy="90.2" r="0.56" fill="#b87078" opacity="0.58"/><circle cx="17.2" cy="90.0" r="0.69" fill="#9c4850" opacity="0.87"/><circle cx="27.0" cy="83.7" r="0.67" fill="#9c4850" opacity="0.72"/><circle cx="30.5" cy="57.1" r="0.35" fill="#9c4850" opacity="0.83"/><circle cx="118.7" cy="84.0" r="0.39" fill="#b0606a" opacity="0.55"/><circle cx="28.1" cy="53.4" r="0.38" fill="#9c4850" opacity="0.77"/><circle cx="131.9" cy="84.8" r="0.66" fill="#c08088" opacity="0.60"/><circle cx="117.1" cy="37.6" r="0.68" fill="#a8525a" opacity="0.51"/><circle cx="108.0" cy="90.5" r="0.42" fill="#9c4850" opacity="0.77"/><circle cx="46.3" cy="92.0" r="0.53" fill="#b87078" opacity="0.48"/><circle cx="11.4" cy="16.8" r="0.41" fill="#9c4850" opacity="0.71"/><circle cx="101.1" cy="69.5" r="0.60" fill="#a8525a" opacity="0.60"/><circle cx="12.7" cy="61.8" r="0.43" fill="#b87078" opacity="0.50"/><circle cx="69.1" cy="40.9" r="0.41" fill="#9c4850" opacity="0.58"/><circle cx="78.9" cy="31.8" r="0.49" fill="#c08088" opacity="0.71"/><circle cx="83.0" cy="56.0" r="0.70" fill="#9c4850" opacity="0.46"/><circle cx="81.0" cy="7.5" r="0.58" fill="#9c4850" opacity="0.67"/><circle cx="111.2" cy="33.7" r="0.57" fill="#9c4850" opacity="0.87"/><circle cx="69.1" cy="81.9" r="0.40" fill="#c08088" opacity="0.51"/><circle cx="23.3" cy="31.5" r="0.56" fill="#b87078" opacity="0.62"/><circle cx="112.2" cy="92.6" r="0.56" fill="#b0606a" opacity="0.84"/><circle cx="99.3" cy="70.0" r="0.44" fill="#9c4850" opacity="0.81"/><circle cx="97.9" cy="84.5" r="0.65" fill="#9c4850" opacity="0.68"/><circle cx="116.7" cy="69.2" r="0.49" fill="#b0606a" opacity="0.84"/><circle cx="32.1" cy="77.2" r="0.59" fill="#b0606a" opacity="0.61"/><circle cx="34.1" cy="31.7" r="0.47" fill="#b87078" opacity="0.70"/><circle cx="26.8" cy="33.0" r="0.40" fill="#9c4850" opacity="0.79"/><circle cx="78.9" cy="46.4" r="0.66" fill="#9c4850" opacity="0.89"/><circle cx="44.9" cy="33.1" r="0.62" fill="#9c4850" opacity="0.76"/><circle cx="34.4" cy="19.8" r="0.67" fill="#9c4850" opacity="0.46"/><circle cx="125.2" cy="55.3" r="0.67" fill="#9c4850" opacity="0.58"/><circle cx="71.4" cy="65.0" r="0.59" fill="#b0606a" opacity="0.49"/><circle cx="117.0" cy="40.4" r="0.63" fill="#a8525a" opacity="0.73"/><circle cx="31.1" cy="7.5" r="0.47" fill="#a8525a" opacity="0.88"/><circle cx="67.7" cy="54.1" r="0.46" fill="#9c4850" opacity="0.45"/><circle cx="98.5" cy="83.0" r="0.38" fill="#9c4850" opacity="0.86"/><circle cx="134.8" cy="33.1" r="0.48" fill="#b87078" opacity="0.89"/><circle cx="8.7" cy="82.6" r="0.57" fill="#b87078" opacity="0.65"/><circle cx="128.5" cy="11.2" r="0.40" fill="#a8525a" opacity="0.82"/><circle cx="35.8" cy="82.2" r="0.68" fill="#a8525a" opacity="0.87"/><circle cx="37.9" cy="42.9" r="0.50" fill="#b0606a" opacity="0.53"/><circle cx="24.1" cy="8.6" r="0.58" fill="#c08088" opacity="0.51"/><circle cx="102.3" cy="25.0" r="0.47" fill="#b87078" opacity="0.87"/><circle cx="44.8" cy="59.8" r="0.52" fill="#9c4850" opacity="0.65"/><circle cx="90.3" cy="93.0" r="0.56" fill="#9c4850" opacity="0.85"/><circle cx="38.7" cy="50.7" r="0.39" fill="#b0606a" opacity="0.79"/><circle cx="27.3" cy="84.5" r="0.61" fill="#c08088" opacity="0.54"/><circle cx="106.4" cy="48.3" r="0.64" fill="#b87078" opacity="0.61"/><circle cx="48.6" cy="9.9" r="0.66" fill="#9c4850" opacity="0.87"/><circle cx="33.9" cy="40.5" r="0.64" fill="#b0606a" opacity="0.78"/><circle cx="71.5" cy="76.3" r="0.67" fill="#c08088" opacity="0.72"/><circle cx="65.7" cy="63.1" r="0.69" fill="#9c4850" opacity="0.75"/><circle cx="66.7" cy="17.7" r="0.59" fill="#c08088" opacity="0.85"/><circle cx="115.9" cy="2.0" r="0.46" fill="#b87078" opacity="0.86"/><circle cx="14.5" cy="0.4" r="0.68" fill="#a8525a" opacity="0.59"/><circle cx="100.0" cy="0.9" r="0.61" fill="#b87078" opacity="0.66"/><circle cx="26.4" cy="4.2" r="0.36" fill="#a8525a" opacity="0.76"/><circle cx="14.5" cy="62.3" r="0.61" fill="#c08088" opacity="0.75"/><circle cx="92.1" cy="18.0" r="0.36" fill="#b0606a" opacity="0.81"/><circle cx="45.0" cy="13.8" r="0.65" fill="#c08088" opacity="0.67"/><circle cx="135.2" cy="45.6" r="0.61" fill="#a8525a" opacity="0.67"/><circle cx="6.9" cy="22.7" r="0.57" fill="#a8525a" opacity="0.52"/><circle cx="8.5" cy="82.0" r="0.66" fill="#9c4850" opacity="0.78"/><circle cx="130.4" cy="7.7" r="0.68" fill="#b0606a" opacity="0.69"/><circle cx="75.1" cy="34.4" r="0.66" fill="#b0606a" opacity="0.84"/><circle cx="90.1" cy="23.0" r="0.38" fill="#c08088" opacity="0.53"/><circle cx="123.6" cy="9.7" r="0.65" fill="#c08088" opacity="0.53"/><circle cx="133.3" cy="47.0" r="0.56" fill="#9c4850" opacity="0.48"/><circle cx="48.1" cy="53.9" r="0.36" fill="#b0606a" opacity="0.63"/><circle cx="81.6" cy="78.4" r="0.65" fill="#b0606a" opacity="0.80"/><circle cx="6.2" cy="70.4" r="0.38" fill="#c08088" opacity="0.58"/><circle cx="53.7" cy="83.6" r="0.50" fill="#9c4850" opacity="0.71"/><circle cx="131.3" cy="13.0" r="0.68" fill="#b87078" opacity="0.83"/><circle cx="90.9" cy="10.8" r="0.56" fill="#b87078" opacity="0.57"/><circle cx="7.8" cy="58.7" r="0.63" fill="#9c4850" opacity="0.46"/><circle cx="33.4" cy="46.4" r="0.40" fill="#b87078" opacity="0.48"/><circle cx="56.7" cy="92.3" r="0.36" fill="#a8525a" opacity="0.89"/><circle cx="92.9" cy="69.6" r="0.39" fill="#b0606a" opacity="0.57"/><circle cx="75.4" cy="68.8" r="0.35" fill="#a8525a" opacity="0.81"/><circle cx="0.0" cy="10.9" r="0.56" fill="#c08088" opacity="0.55"/><circle cx="102.3" cy="66.9" r="0.56" fill="#c08088" opacity="0.50"/><circle cx="126.7" cy="23.8" r="0.52" fill="#c08088" opacity="0.55"/><circle cx="123.1" cy="5.0" r="0.41" fill="#a8525a" opacity="0.81"/><circle cx="31.9" cy="19.9" r="0.67" fill="#b0606a" opacity="0.59"/><circle cx="130.3" cy="80.2" r="0.59" fill="#b0606a" opacity="0.88"/><circle cx="61.2" cy="53.8" r="0.69" fill="#a8525a" opacity="0.49"/><circle cx="9.3" cy="58.3" r="0.48" fill="#b87078" opacity="0.84"/><circle cx="116.1" cy="6.4" r="0.50" fill="#9c4850" opacity="0.71"/><circle cx="29.5" cy="17.7" r="0.52" fill="#b0606a" opacity="0.68"/><circle cx="5.0" cy="50.9" r="0.53" fill="#9c4850" opacity="0.61"/><circle cx="3.6" cy="45.7" r="0.65" fill="#9c4850" opacity="0.78"/><circle cx="63.1" cy="29.4" r="0.50" fill="#c08088" opacity="0.76"/><circle cx="31.9" cy="54.3" r="0.49" fill="#b87078" opacity="0.84"/><circle cx="64.9" cy="29.0" r="0.55" fill="#9c4850" opacity="0.87"/><circle cx="71.9" cy="89.4" r="0.43" fill="#b0606a" opacity="0.52"/><circle cx="11.5" cy="58.2" r="0.60" fill="#a8525a" opacity="0.67"/><circle cx="107.7" cy="91.4" r="0.63" fill="#b0606a" opacity="0.53"/><circle cx="72.9" cy="52.8" r="0.60" fill="#9c4850" opacity="0.59"/><circle cx="60.4" cy="86.3" r="0.61" fill="#a8525a" opacity="0.65"/><circle cx="62.9" cy="37.1" r="0.58" fill="#9c4850" opacity="0.68"/><circle cx="123.8" cy="79.6" r="0.67" fill="#c08088" opacity="0.82"/><circle cx="15.9" cy="21.7" r="0.54" fill="#b0606a" opacity="0.50"/><circle cx="106.8" cy="69.7" r="0.45" fill="#a8525a" opacity="0.51"/><circle cx="32.0" cy="82.6" r="0.56" fill="#b0606a" opacity="0.59"/><circle cx="9.2" cy="32.9" r="0.65" fill="#a8525a" opacity="0.83"/><circle cx="111.0" cy="41.2" r="0.49" fill="#b0606a" opacity="0.65"/><circle cx="82.7" cy="4.1" r="0.55" fill="#a8525a" opacity="0.56"/><circle cx="49.1" cy="60.0" r="0.40" fill="#9c4850" opacity="0.80"/><circle cx="37.7" cy="41.4" r="0.53" fill="#b87078" opacity="0.59"/><circle cx="29.4" cy="85.4" r="0.54" fill="#b0606a" opacity="0.63"/><circle cx="41.8" cy="89.1" r="0.47" fill="#b87078" opacity="0.58"/><circle cx="87.9" cy="70.5" r="0.66" fill="#c08088" opacity="0.85"/><circle cx="118.6" cy="92.1" r="0.69" fill="#9c4850" opacity="0.69"/><circle cx="46.7" cy="14.6" r="0.53" fill="#b0606a" opacity="0.65"/><circle cx="52.7" cy="39.2" r="0.59" fill="#b87078" opacity="0.72"/><circle cx="105.8" cy="61.1" r="0.59" fill="#b0606a" opacity="0.83"/><circle cx="65.1" cy="87.1" r="0.58" fill="#c08088" opacity="0.69"/><circle cx="47.5" cy="34.5" r="0.60" fill="#b87078" opacity="0.57"/><circle cx="1.8" cy="7.0" r="0.41" fill="#a8525a" opacity="0.69"/><circle cx="102.7" cy="40.3" r="0.50" fill="#a8525a" opacity="0.47"/><circle cx="4.1" cy="45.9" r="0.58" fill="#c08088" opacity="0.82"/><circle cx="10.0" cy="49.3" r="0.41" fill="#b0606a" opacity="0.72"/><circle cx="60.9" cy="11.7" r="0.39" fill="#b87078" opacity="0.88"/><circle cx="66.2" cy="57.4" r="0.64" fill="#b87078" opacity="0.78"/><circle cx="129.3" cy="68.9" r="0.36" fill="#b0606a" opacity="0.69"/><circle cx="123.0" cy="46.4" r="0.58" fill="#b0606a" opacity="0.89"/><circle cx="90.8" cy="70.7" r="0.62" fill="#b0606a" opacity="0.75"/><circle cx="26.6" cy="82.3" r="0.50" fill="#9c4850" opacity="0.89"/><circle cx="126.6" cy="49.0" r="0.51" fill="#a8525a" opacity="0.67"/><circle cx="129.8" cy="54.0" r="0.63" fill="#a8525a" opacity="0.84"/><circle cx="122.0" cy="0.6" r="0.46" fill="#9c4850" opacity="0.68"/><circle cx="85.2" cy="27.1" r="0.47" fill="#a8525a" opacity="0.80"/><circle cx="3.6" cy="30.1" r="0.42" fill="#b87078" opacity="0.74"/><circle cx="70.7" cy="56.2" r="0.35" fill="#9c4850" opacity="0.54"/><circle cx="56.8" cy="2.0" r="0.40" fill="#a8525a" opacity="0.90"/><circle cx="31.7" cy="42.6" r="0.35" fill="#c08088" opacity="0.65"/><circle cx="90.6" cy="54.5" r="0.54" fill="#c08088" opacity="0.81"/><circle cx="63.8" cy="15.3" r="0.38" fill="#b87078" opacity="0.58"/><circle cx="54.2" cy="83.5" r="0.47" fill="#9c4850" opacity="0.76"/><circle cx="37.2" cy="80.1" r="0.52" fill="#c08088" opacity="0.75"/><circle cx="14.5" cy="43.1" r="0.58" fill="#b87078" opacity="0.74"/><circle cx="10.9" cy="3.6" r="0.40" fill="#b0606a" opacity="0.72"/><circle cx="47.2" cy="76.1" r="0.65" fill="#c08088" opacity="0.56"/><circle cx="52.0" cy="91.6" r="0.49" fill="#b0606a" opacity="0.74"/><circle cx="52.4" cy="0.5" r="0.58" fill="#9c4850" opacity="0.46"/><circle cx="41.0" cy="8.8" r="0.38" fill="#a8525a" opacity="0.58"/><circle cx="10.5" cy="6.1" r="0.64" fill="#9c4850" opacity="0.61"/><circle cx="50.1" cy="84.6" r="0.69" fill="#9c4850" opacity="0.45"/><circle cx="22.1" cy="55.1" r="0.68" fill="#a8525a" opacity="0.86"/><circle cx="18.6" cy="11.1" r="0.44" fill="#b87078" opacity="0.81"/><circle cx="87.3" cy="49.5" r="0.45" fill="#a8525a" opacity="0.65"/><circle cx="27.3" cy="59.5" r="0.39" fill="#b0606a" opacity="0.80"/><circle cx="3.8" cy="62.9" r="0.48" fill="#a8525a" opacity="0.77"/><circle cx="101.2" cy="66.4" r="0.50" fill="#9c4850" opacity="0.65"/><circle cx="41.9" cy="72.3" r="0.48" fill="#a8525a" opacity="0.68"/><circle cx="111.2" cy="28.6" r="0.63" fill="#c08088" opacity="0.59"/><circle cx="3.0" cy="75.6" r="0.45" fill="#9c4850" opacity="0.61"/><circle cx="115.7" cy="7.9" r="0.56" fill="#a8525a" opacity="0.63"/><circle cx="72.3" cy="69.0" r="0.50" fill="#b87078" opacity="0.71"/><circle cx="115.3" cy="49.8" r="0.43" fill="#9c4850" opacity="0.74"/><circle cx="104.5" cy="80.0" r="0.47" fill="#b0606a" opacity="0.72"/><circle cx="38.0" cy="30.4" r="0.58" fill="#a8525a" opacity="0.80"/><circle cx="83.6" cy="14.8" r="0.67" fill="#c08088" opacity="0.54"/><circle cx="26.0" cy="74.8" r="0.56" fill="#b0606a" opacity="0.76"/><circle cx="0.3" cy="13.0" r="0.67" fill="#9c4850" opacity="0.59"/><circle cx="59.6" cy="0.0" r="0.62" fill="#b0606a" opacity="0.51"/><circle cx="132.2" cy="32.7" r="0.54" fill="#c08088" opacity="0.63"/><circle cx="25.0" cy="92.9" r="0.43" fill="#b0606a" opacity="0.49"/><circle cx="88.2" cy="77.3" r="0.37" fill="#b87078" opacity="0.86"/><circle cx="133.6" cy="62.0" r="0.57" fill="#a8525a" opacity="0.89"/><circle cx="64.0" cy="12.0" r="0.52" fill="#b0606a" opacity="0.46"/><circle cx="63.5" cy="87.9" r="0.49" fill="#b0606a" opacity="0.49"/><circle cx="4.3" cy="11.4" r="0.46" fill="#c08088" opacity="0.56"/><circle cx="132.4" cy="20.4" r="0.63" fill="#a8525a" opacity="0.62"/><circle cx="121.1" cy="0.3" r="0.52" fill="#9c4850" opacity="0.57"/><circle cx="114.2" cy="82.3" r="0.38" fill="#b0606a" opacity="0.51"/><circle cx="27.5" cy="30.3" r="0.40" fill="#b87078" opacity="0.76"/><circle cx="63.5" cy="42.4" r="0.60" fill="#b0606a" opacity="0.88"/><circle cx="65.5" cy="6.3" r="0.64" fill="#b87078" opacity="0.57"/><circle cx="80.9" cy="50.1" r="0.46" fill="#c08088" opacity="0.56"/><circle cx="133.5" cy="65.1" r="0.41" fill="#9c4850" opacity="0.85"/><circle cx="90.1" cy="30.6" r="0.59" fill="#a8525a" opacity="0.70"/><circle cx="43.2" cy="61.5" r="0.45" fill="#a8525a" opacity="0.56"/><circle cx="40.8" cy="91.4" r="0.64" fill="#b87078" opacity="0.63"/><circle cx="123.7" cy="34.2" r="0.44" fill="#a8525a" opacity="0.55"/><circle cx="103.8" cy="28.5" r="0.62" fill="#b87078" opacity="0.49"/><circle cx="31.7" cy="41.4" r="0.61" fill="#b0606a" opacity="0.72"/><circle cx="90.5" cy="9.5" r="0.51" fill="#9c4850" opacity="0.75"/><circle cx="8.3" cy="31.8" r="0.59" fill="#c08088" opacity="0.69"/><circle cx="60.4" cy="73.8" r="0.40" fill="#a8525a" opacity="0.50"/><circle cx="7.5" cy="46.7" r="0.66" fill="#b87078" opacity="0.84"/><circle cx="117.0" cy="33.1" r="0.52" fill="#c08088" opacity="0.72"/><circle cx="36.3" cy="20.3" r="0.48" fill="#c08088" opacity="0.56"/><circle cx="134.4" cy="45.6" r="0.45" fill="#9c4850" opacity="0.67"/><circle cx="41.5" cy="44.4" r="0.39" fill="#a8525a" opacity="0.83"/><circle cx="122.7" cy="85.1" r="0.69" fill="#b0606a" opacity="0.66"/><circle cx="71.5" cy="4.5" r="0.54" fill="#9c4850" opacity="0.74"/><circle cx="35.0" cy="23.2" r="0.65" fill="#9c4850" opacity="0.86"/><circle cx="121.9" cy="61.7" r="0.48" fill="#b0606a" opacity="0.73"/><circle cx="8.4" cy="79.8" r="0.67" fill="#9c4850" opacity="0.69"/><circle cx="75.4" cy="22.9" r="0.63" fill="#b0606a" opacity="0.63"/><circle cx="77.8" cy="77.2" r="0.52" fill="#9c4850" opacity="0.51"/><circle cx="48.6" cy="5.9" r="0.53" fill="#9c4850" opacity="0.88"/><circle cx="23.6" cy="56.5" r="0.49" fill="#9c4850" opacity="0.68"/><circle cx="30.3" cy="11.7" r="0.41" fill="#b87078" opacity="0.85"/><circle cx="75.6" cy="55.1" r="0.61" fill="#c08088" opacity="0.85"/><circle cx="93.4" cy="61.7" r="0.41" fill="#b0606a" opacity="0.88"/><circle cx="85.3" cy="59.9" r="0.58" fill="#9c4850" opacity="0.89"/><circle cx="35.6" cy="39.9" r="0.60" fill="#a8525a" opacity="0.73"/><circle cx="94.0" cy="32.1" r="0.65" fill="#a8525a" opacity="0.54"/><circle cx="37.8" cy="62.9" r="0.64" fill="#a8525a" opacity="0.86"/><circle cx="102.6" cy="6.6" r="0.54" fill="#a8525a" opacity="0.60"/><circle cx="122.2" cy="77.1" r="0.66" fill="#b87078" opacity="0.55"/><circle cx="109.3" cy="66.8" r="0.36" fill="#9c4850" opacity="0.83"/><circle cx="82.7" cy="5.7" r="0.57" fill="#c08088" opacity="0.51"/><circle cx="55.8" cy="52.6" r="0.38" fill="#9c4850" opacity="0.50"/><circle cx="91.5" cy="8.6" r="0.45" fill="#b87078" opacity="0.81"/><circle cx="4.9" cy="47.8" r="0.54" fill="#b87078" opacity="0.85"/><circle cx="91.3" cy="8.1" r="0.40" fill="#a8525a" opacity="0.58"/><circle cx="60.6" cy="59.5" r="0.35" fill="#c08088" opacity="0.69"/><circle cx="16.1" cy="68.2" r="0.65" fill="#a8525a" opacity="0.71"/><circle cx="90.7" cy="40.9" r="0.42" fill="#9c4850" opacity="0.84"/><circle cx="99.7" cy="89.4" r="0.43" fill="#9c4850" opacity="0.49"/><circle cx="42.4" cy="60.4" r="0.68" fill="#b87078" opacity="0.86"/><circle cx="78.9" cy="46.7" r="0.43" fill="#9c4850" opacity="0.85"/><circle cx="93.6" cy="14.5" r="0.61" fill="#b0606a" opacity="0.49"/><circle cx="107.4" cy="71.5" r="0.43" fill="#a8525a" opacity="0.78"/><circle cx="54.0" cy="22.8" r="0.61" fill="#c08088" opacity="0.79"/><circle cx="53.0" cy="5.0" r="0.56" fill="#9c4850" opacity="0.83"/><circle cx="87.9" cy="37.6" r="0.38" fill="#b0606a" opacity="0.70"/><circle cx="43.8" cy="89.1" r="0.53" fill="#9c4850" opacity="0.74"/><circle cx="119.3" cy="74.7" r="0.66" fill="#a8525a" opacity="0.63"/><circle cx="64.8" cy="72.5" r="0.73" fill="#9c4850" opacity=".85"/><circle cx="19.9" cy="72.0" r="0.80" fill="#b0606a" opacity=".85"/><circle cx="107.7" cy="32.3" r="1.05" fill="#b0606a" opacity=".85"/><circle cx="15.6" cy="24.7" r="0.82" fill="#9c4850" opacity=".85"/><circle cx="124.0" cy="77.5" r="0.83" fill="#9c4850" opacity=".85"/><circle cx="123.4" cy="44.2" r="1.09" fill="#b0606a" opacity=".85"/><circle cx="119.9" cy="18.6" r="0.74" fill="#9c4850" opacity=".85"/><circle cx="50.4" cy="19.5" r="0.93" fill="#9c4850" opacity=".85"/><circle cx="129.4" cy="33.9" r="1.01" fill="#9c4850" opacity=".85"/><circle cx="132.4" cy="77.2" r="1.14" fill="#b0606a" opacity=".85"/><circle cx="83.0" cy="28.6" r="1.22" fill="#9c4850" opacity=".85"/><circle cx="4.4" cy="18.4" r="1.24" fill="#a8525a" opacity=".85"/><circle cx="44.4" cy="73.8" r="0.96" fill="#b0606a" opacity=".85"/><circle cx="20.0" cy="65.3" r="0.89" fill="#9c4850" opacity=".85"/><circle cx="8.5" cy="86.9" r="1.16" fill="#9c4850" opacity=".85"/><circle cx="117.9" cy="23.8" r="1.08" fill="#a8525a" opacity=".85"/><circle cx="78.3" cy="54.6" r="0.89" fill="#b0606a" opacity=".85"/><circle cx="119.0" cy="10.9" r="0.80" fill="#b0606a" opacity=".85"/><circle cx="113.1" cy="56.7" r="1.07" fill="#a8525a" opacity=".85"/><circle cx="67.0" cy="42.9" r="0.81" fill="#a8525a" opacity=".85"/><circle cx="6.0" cy="69.3" r="0.78" fill="#9c4850" opacity=".85"/><circle cx="117.7" cy="26.5" r="0.72" fill="#b0606a" opacity=".85"/><circle cx="95.3" cy="34.2" r="0.81" fill="#a8525a" opacity=".85"/><circle cx="71.0" cy="83.6" r="0.79" fill="#b0606a" opacity=".85"/><circle cx="116.3" cy="78.4" r="1.25" fill="#9c4850" opacity=".85"/><circle cx="25.4" cy="30.6" r="1.11" fill="#9c4850" opacity=".85"/><circle cx="32.1" cy="73.6" r="1.10" fill="#b0606a" opacity=".85"/><circle cx="74.1" cy="27.4" r="1.23" fill="#b0606a" opacity=".85"/><circle cx="133.8" cy="68.9" r="1.13" fill="#9c4850" opacity=".85"/><circle cx="78.3" cy="86.4" r="0.98" fill="#9c4850" opacity=".85"/><circle cx="93.3" cy="38.9" r="1.13" fill="#b0606a" opacity=".85"/><circle cx="98.0" cy="70.9" r="0.94" fill="#b0606a" opacity=".85"/><circle cx="15.9" cy="29.9" r="1.23" fill="#9c4850" opacity=".85"/><circle cx="40.8" cy="7.5" r="1.03" fill="#b0606a" opacity=".85"/><circle cx="75.1" cy="1.1" r="1.04" fill="#a8525a" opacity=".85"/><circle cx="83.6" cy="4.7" r="0.98" fill="#b0606a" opacity=".85"/><circle cx="61.8" cy="47.5" r="1.07" fill="#b0606a" opacity=".85"/><circle cx="53.9" cy="40.1" r="1.11" fill="#9c4850" opacity=".85"/><circle cx="6.0" cy="31.4" r="1.11" fill="#9c4850" opacity=".85"/><circle cx="35.6" cy="37.6" r="1.18" fill="#b0606a" opacity=".85"/><circle cx="126.7" cy="52.5" r="1.13" fill="#b0606a" opacity=".85"/><circle cx="77.8" cy="28.5" r="0.81" fill="#b0606a" opacity=".85"/><circle cx="53.4" cy="18.0" r="1.04" fill="#b0606a" opacity=".85"/><circle cx="9.1" cy="88.2" r="0.87" fill="#a8525a" opacity=".85"/><circle cx="75.6" cy="51.9" r="0.92" fill="#b0606a" opacity=".85"/><circle cx="32.3" cy="60.5" r="1.00" fill="#b0606a" opacity=".85"/><circle cx="65.2" cy="92.6" r="0.90" fill="#9c4850" opacity=".85"/><circle cx="93.8" cy="69.7" r="1.14" fill="#a8525a" opacity=".85"/><circle cx="136.4" cy="60.0" r="0.84" fill="#b0606a" opacity=".85"/><circle cx="124.7" cy="67.9" r="0.97" fill="#b0606a" opacity=".85"/><circle cx="41.4" cy="76.9" r="0.77" fill="#b0606a" opacity=".85"/><circle cx="48.5" cy="37.4" r="0.89" fill="#b0606a" opacity=".85"/><circle cx="119.3" cy="9.3" r="1.22" fill="#a8525a" opacity=".85"/><circle cx="69.1" cy="91.3" r="1.02" fill="#a8525a" opacity=".85"/><circle cx="101.9" cy="16.9" r="1.08" fill="#b0606a" opacity=".85"/><circle cx="19.1" cy="35.9" r="0.96" fill="#b0606a" opacity=".85"/><circle cx="36.9" cy="83.1" r="1.10" fill="#b0606a" opacity=".85"/><circle cx="37.8" cy="73.9" r="1.18" fill="#a8525a" opacity=".85"/><circle cx="48.7" cy="12.6" r="0.75" fill="#9c4850" opacity=".85"/><circle cx="127.4" cy="92.3" r="1.04" fill="#b0606a" opacity=".85"/><circle cx="21.4" cy="63.1" r="1.10" fill="#b0606a" opacity=".85"/><circle cx="56.7" cy="55.1" r="1.21" fill="#a8525a" opacity=".85"/><circle cx="3.5" cy="68.4" r="0.97" fill="#a8525a" opacity=".85"/><circle cx="96.0" cy="81.7" r="0.74" fill="#b0606a" opacity=".85"/><circle cx="56.1" cy="25.7" r="1.16" fill="#a8525a" opacity=".85"/><circle cx="100.8" cy="31.2" r="0.85" fill="#a8525a" opacity=".85"/><circle cx="62.9" cy="44.2" r="1.03" fill="#9c4850" opacity=".85"/><circle cx="79.9" cy="15.4" r="0.85" fill="#9c4850" opacity=".85"/><circle cx="124.6" cy="55.6" r="0.80" fill="#a8525a" opacity=".85"/><circle cx="21.9" cy="58.0" r="1.13" fill="#a8525a" opacity=".85"/><circle cx="97.0" cy="20.3" r="1.04" fill="#9c4850" opacity=".85"/><circle cx="71.0" cy="74.8" r="1.21" fill="#b0606a" opacity=".85"/><circle cx="19.8" cy="84.9" r="0.77" fill="#b0606a" opacity=".85"/><circle cx="80.4" cy="26.5" r="0.95" fill="#b0606a" opacity=".85"/><circle cx="40.3" cy="38.1" r="1.01" fill="#9c4850" opacity=".85"/><circle cx="65.9" cy="84.4" r="0.92" fill="#9c4850" opacity=".85"/><circle cx="20.3" cy="86.0" r="0.98" fill="#b0606a" opacity=".85"/><circle cx="123.9" cy="79.6" r="1.09" fill="#9c4850" opacity=".85"/><circle cx="88.5" cy="56.8" r="0.78" fill="#a8525a" opacity=".85"/><circle cx="13.3" cy="5.7" r="1.01" fill="#b0606a" opacity=".85"/><circle cx="105.7" cy="51.0" r="0.83" fill="#a8525a" opacity=".85"/><circle cx="108.0" cy="43.7" r="0.98" fill="#a8525a" opacity=".85"/><circle cx="22.6" cy="74.4" r="0.90" fill="#9c4850" opacity=".85"/><circle cx="42.2" cy="80.8" r="0.91" fill="#9c4850" opacity=".85"/><circle cx="51.1" cy="58.3" r="1.06" fill="#b0606a" opacity=".85"/><circle cx="78.5" cy="58.8" r="1.04" fill="#9c4850" opacity=".85"/><circle cx="126.5" cy="34.6" r="1.08" fill="#b0606a" opacity=".85"/><circle cx="113.8" cy="45.0" r="0.90" fill="#b0606a" opacity=".85"/><circle cx="55.8" cy="51.5" r="0.94" fill="#a8525a" opacity=".85"/><circle cx="120.3" cy="30.6" r="0.98" fill="#9c4850" opacity=".85"/><circle cx="71.6" cy="44.8" r="0.93" fill="#9c4850" opacity=".85"/><circle cx="28.5" cy="84.9" r="0.84" fill="#9c4850" opacity=".85"/><circle cx="31.1" cy="70.8" r="0.73" fill="#9c4850" opacity=".85"/><circle cx="79.0" cy="77.0" r="1.20" fill="#b0606a" opacity=".85"/><circle cx="21.9" cy="59.7" r="0.71" fill="#9c4850" opacity=".85"/><circle cx="111.8" cy="2.4" r="1.07" fill="#a8525a" opacity=".85"/><circle cx="90.9" cy="62.9" r="1.16" fill="#9c4850" opacity=".85"/><circle cx="29.5" cy="21.7" r="0.85" fill="#9c4850" opacity=".85"/><circle cx="109.5" cy="9.3" r="1.19" fill="#b0606a" opacity=".85"/><circle cx="107.8" cy="25.5" r="0.73" fill="#a8525a" opacity=".85"/><circle cx="11.5" cy="69.5" r="1.19" fill="#9c4850" opacity=".85"/><circle cx="109.0" cy="54.6" r="1.00" fill="#b0606a" opacity=".85"/><circle cx="110.9" cy="56.7" r="1.15" fill="#a8525a" opacity=".85"/><circle cx="122.8" cy="28.8" r="0.89" fill="#b0606a" opacity=".85"/><circle cx="63.5" cy="0.8" r="0.92" fill="#b0606a" opacity=".85"/><circle cx="132.5" cy="15.6" r="1.18" fill="#b0606a" opacity=".85"/><circle cx="64.5" cy="46.7" r="1.15" fill="#b0606a" opacity=".85"/><circle cx="7.0" cy="34.5" r="0.78" fill="#a8525a" opacity=".85"/><circle cx="99.2" cy="48.7" r="0.90" fill="#a8525a" opacity=".85"/><circle cx="27.2" cy="0.9" r="0.86" fill="#b0606a" opacity=".85"/><circle cx="128.0" cy="2.4" r="0.92" fill="#9c4850" opacity=".85"/><circle cx="97.1" cy="80.9" r="1.02" fill="#a8525a" opacity=".85"/><circle cx="109.4" cy="8.5" r="1.06" fill="#b0606a" opacity=".85"/><circle cx="38.4" cy="11.3" r="0.75" fill="#b0606a" opacity=".85"/><circle cx="132.1" cy="71.5" r="0.82" fill="#9c4850" opacity=".85"/><circle cx="118.6" cy="6.1" r="1.20" fill="#9c4850" opacity=".85"/><circle cx="133.6" cy="39.1" r="0.80" fill="#a8525a" opacity=".85"/><circle cx="68.6" cy="17.0" r="1.09" fill="#a8525a" opacity=".85"/><circle cx="125.9" cy="74.4" r="0.89" fill="#a8525a" opacity=".85"/><circle cx="35.2" cy="41.4" r="0.93" fill="#b0606a" opacity=".85"/><circle cx="107.8" cy="60.2" r="1.10" fill="#b0606a" opacity=".85"/><circle cx="66.5" cy="37.5" r="1.18" fill="#9c4850" opacity=".85"/><circle cx="107.4" cy="9.6" r="0.88" fill="#9c4850" opacity=".85"/><circle cx="23.1" cy="88.8" r="0.81" fill="#a8525a" opacity=".85"/><circle cx="24.5" cy="36.6" r="1.02" fill="#b0606a" opacity=".85"/><circle cx="115.8" cy="35.6" r="1.03" fill="#9c4850" opacity=".85"/><circle cx="17.9" cy="90.8" r="0.98" fill="#a8525a" opacity=".85"/><circle cx="107.3" cy="32.7" r="1.06" fill="#b0606a" opacity=".85"/><circle cx="20.2" cy="53.1" r="0.89" fill="#a8525a" opacity=".85"/><circle cx="32.6" cy="83.2" r="1.03" fill="#b0606a" opacity=".85"/><circle cx="82.3" cy="40.2" r="1.13" fill="#a8525a" opacity=".85"/><circle cx="5.8" cy="90.0" r="0.95" fill="#b0606a" opacity=".85"/><circle cx="38.2" cy="22.9" r="0.99" fill="#b0606a" opacity=".85"/><circle cx="76.0" cy="14.6" r="0.82" fill="#9c4850" opacity=".85"/><circle cx="8.1" cy="51.3" r="1.15" fill="#a8525a" opacity=".85"/><circle cx="18.6" cy="28.4" r="1.08" fill="#a8525a" opacity=".85"/><circle cx="125.9" cy="46.6" r="0.84" fill="#a8525a" opacity=".85"/><circle cx="88.6" cy="9.1" r="0.79" fill="#b0606a" opacity=".85"/><circle cx="106.6" cy="9.4" r="1.24" fill="#b0606a" opacity=".85"/><circle cx="120.9" cy="63.2" r="0.91" fill="#a8525a" opacity=".85"/><circle cx="66.6" cy="67.9" r="0.88" fill="#9c4850" opacity=".85"/><circle cx="25.8" cy="68.1" r="1.09" fill="#b0606a" opacity=".85"/><circle cx="24.4" cy="7.4" r="1.22" fill="#9c4850" opacity=".85"/><circle cx="93.0" cy="24.8" r="0.91" fill="#a8525a" opacity=".85"/><circle cx="69.2" cy="77.8" r="1.16" fill="#b0606a" opacity=".85"/><circle cx="42.4" cy="17.1" r="1.21" fill="#b0606a" opacity=".85"/><circle cx="87.5" cy="32.2" r="1.07" fill="#a8525a" opacity=".85"/><circle cx="78.0" cy="45.5" r="1.13" fill="#a8525a" opacity=".85"/><circle cx="96.7" cy="31.6" r="1.02" fill="#b0606a" opacity=".85"/><circle cx="108.6" cy="81.8" r="0.93" fill="#a8525a" opacity=".85"/><circle cx="14.1" cy="55.5" r="0.83" fill="#b0606a" opacity=".85"/><circle cx="70.6" cy="24.9" r="0.96" fill="#a8525a" opacity=".85"/><circle cx="76.2" cy="17.2" r="0.86" fill="#a8525a" opacity=".85"/><circle cx="104.7" cy="16.3" r="1.05" fill="#b0606a" opacity=".85"/><circle cx="94.7" cy="4.5" r="0.78" fill="#a8525a" opacity=".85"/><circle cx="61.5" cy="29.5" r="1.12" fill="#b0606a" opacity=".85"/><circle cx="102.2" cy="56.5" r="1.04" fill="#9c4850" opacity=".85"/><circle cx="131.0" cy="29.7" r="0.96" fill="#b0606a" opacity=".85"/><circle cx="96.7" cy="13.0" r="0.74" fill="#b0606a" opacity=".85"/><circle cx="45.3" cy="29.7" r="0.89" fill="#9c4850" opacity=".85"/><circle cx="83.7" cy="52.0" r="1.18" fill="#9c4850" opacity=".85"/><circle cx="61.9" cy="7.2" r="1.23" fill="#b0606a" opacity=".85"/><circle cx="43.4" cy="0.9" r="1.19" fill="#a8525a" opacity=".85"/><circle cx="12.1" cy="54.9" r="0.83" fill="#9c4850" opacity=".85"/><circle cx="94.2" cy="53.2" r="1.21" fill="#9c4850" opacity=".85"/><circle cx="50.8" cy="27.3" r="0.87" fill="#b0606a" opacity=".85"/><circle cx="9.7" cy="92.6" r="0.79" fill="#a8525a" opacity=".85"/><circle cx="135.1" cy="61.4" r="0.72" fill="#a8525a" opacity=".85"/><circle cx="36.1" cy="50.9" r="1.23" fill="#b0606a" opacity=".85"/><circle cx="36.5" cy="63.8" r="1.01" fill="#a8525a" opacity=".85"/><circle cx="103.9" cy="7.7" r="1.12" fill="#a8525a" opacity=".85"/><circle cx="47.6" cy="29.2" r="0.78" fill="#b0606a" opacity=".85"/><circle cx="114.5" cy="29.3" r="1.19" fill="#9c4850" opacity=".85"/><circle cx="56.2" cy="57.5" r="0.70" fill="#b0606a" opacity=".85"/><circle cx="53.8" cy="50.1" r="0.90" fill="#a8525a" opacity=".85"/><circle cx="38.5" cy="26.9" r="1.08" fill="#b0606a" opacity=".85"/><circle cx="92.8" cy="47.3" r="0.97" fill="#9c4850" opacity=".85"/><circle cx="5.1" cy="15.0" r="1.14" fill="#a8525a" opacity=".85"/><circle cx="41.5" cy="5.1" r="1.14" fill="#a8525a" opacity=".85"/><circle cx="27.7" cy="28.3" r="0.72" fill="#9c4850" opacity=".85"/><circle cx="97.6" cy="1.7" r="0.86" fill="#a8525a" opacity=".85"/><circle cx="51.4" cy="59.6" r="1.03" fill="#a8525a" opacity=".85"/><circle cx="3.2" cy="35.2" r="1.02" fill="#b0606a" opacity=".85"/><circle cx="46.2" cy="15.8" r="1.09" fill="#a8525a" opacity=".85"/><circle cx="111.1" cy="68.2" r="1.09" fill="#9c4850" opacity=".85"/><circle cx="28.9" cy="87.9" r="0.83" fill="#a8525a" opacity=".85"/><circle cx="30.3" cy="64.1" r="0.84" fill="#b0606a" opacity=".85"/><circle cx="123.2" cy="29.3" r="0.96" fill="#9c4850" opacity=".85"/><circle cx="82.8" cy="71.8" r="1.17" fill="#b0606a" opacity=".85"/><circle cx="106.9" cy="42.1" r="1.02" fill="#9c4850" opacity=".85"/><circle cx="43.0" cy="10.2" r="2.19" fill="#a03840"/><circle cx="25.0" cy="22.9" r="2.32" fill="#a03840"/><circle cx="4.9" cy="38.7" r="2.37" fill="#a03840"/><circle cx="43.0" cy="40.9" r="2.54" fill="#a03840"/><circle cx="25.0" cy="33.4" r="2.31" fill="#a03840"/><circle cx="81.1" cy="39.8" r="2.51" fill="#a03840"/><circle cx="107.5" cy="37.7" r="1.53" fill="#a03840"/><circle cx="108.6" cy="21.8" r="2.01" fill="#a03840"/><circle cx="107.5" cy="57.8" r="2.54" fill="#a03840"/><circle cx="104.4" cy="49.3" r="2.21" fill="#a03840"/><circle cx="88.5" cy="51.4" r="2.49" fill="#a03840"/><circle cx="65.2" cy="50.4" r="1.62" fill="#a03840"/><circle cx="76.8" cy="63.1" r="2.02" fill="#a03840"/><circle cx="73.7" cy="69.4" r="1.77" fill="#a03840"/><circle cx="23.9" cy="67.3" r="2.10" fill="#a03840"/><circle cx="26.0" cy="76.8" r="2.13" fill="#a03840"/><circle cx="46.1" cy="84.3" r="1.51" fill="#a03840"/><circle cx="58.8" cy="83.2" r="1.74" fill="#a03840"/><circle cx="67.3" cy="81.1" r="1.81" fill="#a03840"/><circle cx="11.2" cy="79.0" r="2.51" fill="#a03840"/><circle cx="3.8" cy="63.1" r="2.34" fill="#a03840"/><circle cx="109.7" cy="69.4" r="1.68" fill="#a03840"/><circle cx="119.2" cy="57.8" r="2.38" fill="#a03840"/><circle cx="113.9" cy="40.9" r="1.65" fill="#a03840"/><circle cx="122.4" cy="15.5" r="2.18" fill="#a03840"/><circle cx="50.4" cy="1.7" r="1.64" fill="#a03840"/><circle cx="65.2" cy="35.6" r="1.50" fill="#a03840"/><circle cx="54.6" cy="35.6" r="2.46" fill="#a03840"/><circle cx="29.2" cy="44.0" r="1.73" fill="#a03840"/><circle cx="41.9" cy="51.4" r="1.74" fill="#a03840"/><circle cx="92.7" cy="33.4" r="2.58" fill="#a03840"/><circle cx="92.7" cy="28.2" r="2.46" fill="#a03840"/></g>
</svg>
<svg x="357.7" y="788.3" width="136.9" height="93.7" viewBox="0 0 136.9 93.7" overflow="hidden">
<rect width="136.9" height="93.7" fill="#e5e4e2"/>
<rect width="136.9" height="93.7" filter="url(#htex)"/>
<g filter="url(#b0)"><circle cx="134.0" cy="42.8" r="0.60" fill="#b0606a" opacity="0.76"/><circle cx="124.9" cy="69.3" r="0.58" fill="#b87078" opacity="0.85"/><circle cx="119.4" cy="11.1" r="0.38" fill="#b0606a" opacity="0.71"/><circle cx="133.2" cy="4.1" r="0.69" fill="#b0606a" opacity="0.72"/><circle cx="40.2" cy="69.9" r="0.65" fill="#c08088" opacity="0.78"/><circle cx="56.8" cy="73.7" r="0.55" fill="#c08088" opacity="0.56"/><circle cx="50.5" cy="54.4" r="0.68" fill="#c08088" opacity="0.68"/><circle cx="113.0" cy="66.7" r="0.67" fill="#c08088" opacity="0.85"/><circle cx="122.5" cy="49.5" r="0.60" fill="#9c4850" opacity="0.47"/><circle cx="114.0" cy="12.3" r="0.53" fill="#a8525a" opacity="0.67"/><circle cx="47.7" cy="78.8" r="0.58" fill="#a8525a" opacity="0.59"/><circle cx="91.4" cy="11.6" r="0.67" fill="#a8525a" opacity="0.77"/><circle cx="39.9" cy="51.5" r="0.56" fill="#b87078" opacity="0.62"/><circle cx="99.8" cy="24.5" r="0.66" fill="#b0606a" opacity="0.65"/><circle cx="6.1" cy="60.6" r="0.66" fill="#c08088" opacity="0.56"/><circle cx="32.6" cy="20.5" r="0.68" fill="#b0606a" opacity="0.71"/><circle cx="88.5" cy="35.6" r="0.52" fill="#9c4850" opacity="0.49"/><circle cx="19.9" cy="3.3" r="0.45" fill="#b0606a" opacity="0.69"/><circle cx="134.2" cy="29.0" r="0.67" fill="#b0606a" opacity="0.57"/><circle cx="72.5" cy="55.9" r="0.59" fill="#b87078" opacity="0.61"/><circle cx="45.5" cy="59.1" r="0.37" fill="#a8525a" opacity="0.73"/><circle cx="52.6" cy="68.8" r="0.49" fill="#9c4850" opacity="0.80"/><circle cx="111.2" cy="56.0" r="0.67" fill="#c08088" opacity="0.59"/><circle cx="34.5" cy="48.8" r="0.49" fill="#c08088" opacity="0.65"/><circle cx="109.3" cy="74.5" r="0.40" fill="#b87078" opacity="0.80"/><circle cx="122.5" cy="63.8" r="0.54" fill="#c08088" opacity="0.45"/><circle cx="66.8" cy="1.8" r="0.47" fill="#b0606a" opacity="0.72"/><circle cx="96.9" cy="35.3" r="0.39" fill="#a8525a" opacity="0.74"/><circle cx="81.6" cy="64.4" r="0.54" fill="#c08088" opacity="0.47"/><circle cx="127.9" cy="49.6" r="0.65" fill="#a8525a" opacity="0.79"/><circle cx="110.2" cy="23.7" r="0.44" fill="#b87078" opacity="0.89"/><circle cx="12.4" cy="27.5" r="0.48" fill="#b87078" opacity="0.58"/><circle cx="56.3" cy="87.0" r="0.55" fill="#b87078" opacity="0.78"/><circle cx="134.1" cy="88.4" r="0.39" fill="#9c4850" opacity="0.75"/><circle cx="136.5" cy="48.2" r="0.38" fill="#b87078" opacity="0.66"/><circle cx="104.8" cy="4.9" r="0.45" fill="#a8525a" opacity="0.51"/><circle cx="24.3" cy="72.3" r="0.39" fill="#b0606a" opacity="0.60"/><circle cx="48.8" cy="35.1" r="0.42" fill="#a8525a" opacity="0.48"/><circle cx="132.8" cy="71.5" r="0.64" fill="#9c4850" opacity="0.52"/><circle cx="120.2" cy="82.4" r="0.60" fill="#9c4850" opacity="0.49"/><circle cx="54.7" cy="10.3" r="0.58" fill="#9c4850" opacity="0.52"/><circle cx="100.4" cy="31.4" r="0.61" fill="#9c4850" opacity="0.82"/><circle cx="95.9" cy="60.1" r="0.36" fill="#b0606a" opacity="0.67"/><circle cx="22.0" cy="1.4" r="0.44" fill="#9c4850" opacity="0.87"/><circle cx="58.3" cy="25.1" r="0.39" fill="#9c4850" opacity="0.76"/><circle cx="75.4" cy="91.8" r="0.59" fill="#b87078" opacity="0.90"/><circle cx="26.4" cy="26.6" r="0.47" fill="#a8525a" opacity="0.84"/><circle cx="99.3" cy="76.7" r="0.44" fill="#b0606a" opacity="0.54"/><circle cx="41.3" cy="89.6" r="0.42" fill="#9c4850" opacity="0.71"/><circle cx="103.8" cy="93.5" r="0.61" fill="#b87078" opacity="0.60"/><circle cx="11.5" cy="15.9" r="0.50" fill="#9c4850" opacity="0.69"/><circle cx="61.1" cy="74.0" r="0.58" fill="#9c4850" opacity="0.72"/><circle cx="36.1" cy="69.7" r="0.69" fill="#b0606a" opacity="0.77"/><circle cx="32.0" cy="11.1" r="0.51" fill="#c08088" opacity="0.80"/><circle cx="107.0" cy="53.6" r="0.46" fill="#b0606a" opacity="0.47"/><circle cx="16.7" cy="29.9" r="0.44" fill="#b0606a" opacity="0.77"/><circle cx="24.4" cy="92.6" r="0.65" fill="#b87078" opacity="0.46"/><circle cx="32.6" cy="93.6" r="0.59" fill="#b87078" opacity="0.54"/><circle cx="32.9" cy="9.2" r="0.53" fill="#9c4850" opacity="0.73"/><circle cx="82.3" cy="58.2" r="0.65" fill="#a8525a" opacity="0.87"/><circle cx="89.3" cy="53.6" r="0.37" fill="#b87078" opacity="0.74"/><circle cx="17.2" cy="45.7" r="0.41" fill="#b87078" opacity="0.57"/><circle cx="99.7" cy="0.4" r="0.40" fill="#a8525a" opacity="0.83"/><circle cx="41.6" cy="18.6" r="0.69" fill="#c08088" opacity="0.46"/><circle cx="108.5" cy="64.2" r="0.52" fill="#a8525a" opacity="0.68"/><circle cx="50.6" cy="54.1" r="0.49" fill="#b87078" opacity="0.80"/><circle cx="91.7" cy="2.0" r="0.47" fill="#c08088" opacity="0.87"/><circle cx="21.1" cy="80.7" r="0.60" fill="#b0606a" opacity="0.88"/><circle cx="71.8" cy="55.8" r="0.38" fill="#b87078" opacity="0.81"/><circle cx="32.0" cy="83.6" r="0.36" fill="#a8525a" opacity="0.73"/><circle cx="119.0" cy="85.1" r="0.61" fill="#b0606a" opacity="0.66"/><circle cx="127.8" cy="40.3" r="0.60" fill="#b87078" opacity="0.76"/><circle cx="131.1" cy="40.5" r="0.37" fill="#b87078" opacity="0.75"/><circle cx="43.4" cy="54.6" r="0.67" fill="#b0606a" opacity="0.60"/><circle cx="83.1" cy="57.0" r="0.67" fill="#b87078" opacity="0.69"/><circle cx="120.5" cy="15.3" r="0.39" fill="#b87078" opacity="0.76"/><circle cx="124.5" cy="35.1" r="0.66" fill="#9c4850" opacity="0.82"/><circle cx="84.6" cy="35.2" r="0.68" fill="#9c4850" opacity="0.82"/><circle cx="85.8" cy="66.0" r="0.65" fill="#c08088" opacity="0.53"/><circle cx="6.5" cy="55.8" r="0.48" fill="#b87078" opacity="0.76"/><circle cx="113.9" cy="9.7" r="0.69" fill="#c08088" opacity="0.89"/><circle cx="8.6" cy="2.6" r="0.54" fill="#c08088" opacity="0.49"/><circle cx="6.6" cy="42.2" r="0.64" fill="#9c4850" opacity="0.87"/><circle cx="106.6" cy="57.9" r="0.56" fill="#a8525a" opacity="0.51"/><circle cx="71.2" cy="51.1" r="0.35" fill="#9c4850" opacity="0.65"/><circle cx="20.8" cy="62.0" r="0.59" fill="#a8525a" opacity="0.84"/><circle cx="69.1" cy="8.4" r="0.62" fill="#b0606a" opacity="0.65"/><circle cx="117.1" cy="32.9" r="0.51" fill="#b87078" opacity="0.88"/><circle cx="63.6" cy="23.9" r="0.51" fill="#c08088" opacity="0.64"/><circle cx="55.7" cy="43.7" r="0.53" fill="#b0606a" opacity="0.52"/><circle cx="20.9" cy="34.8" r="0.63" fill="#b87078" opacity="0.63"/><circle cx="120.0" cy="20.0" r="0.54" fill="#9c4850" opacity="0.63"/><circle cx="44.2" cy="54.6" r="0.54" fill="#b87078" opacity="0.61"/><circle cx="9.6" cy="79.7" r="0.53" fill="#b0606a" opacity="0.85"/><circle cx="67.9" cy="59.5" r="0.43" fill="#a8525a" opacity="0.59"/><circle cx="116.9" cy="34.9" r="0.44" fill="#c08088" opacity="0.63"/><circle cx="72.1" cy="54.0" r="0.36" fill="#9c4850" opacity="0.85"/><circle cx="18.9" cy="61.9" r="0.55" fill="#b0606a" opacity="0.51"/><circle cx="69.0" cy="16.2" r="0.63" fill="#b0606a" opacity="0.81"/><circle cx="55.7" cy="26.9" r="0.51" fill="#c08088" opacity="0.81"/><circle cx="29.9" cy="60.9" r="0.60" fill="#b0606a" opacity="0.53"/><circle cx="29.8" cy="90.4" r="0.38" fill="#c08088" opacity="0.81"/><circle cx="134.2" cy="42.8" r="0.40" fill="#c08088" opacity="0.50"/><circle cx="3.7" cy="62.0" r="0.37" fill="#c08088" opacity="0.56"/><circle cx="36.4" cy="67.9" r="0.56" fill="#c08088" opacity="0.60"/><circle cx="109.6" cy="25.0" r="0.62" fill="#b0606a" opacity="0.79"/><circle cx="51.4" cy="25.8" r="0.51" fill="#c08088" opacity="0.47"/><circle cx="82.4" cy="55.1" r="0.37" fill="#9c4850" opacity="0.79"/><circle cx="133.1" cy="48.3" r="0.47" fill="#b87078" opacity="0.84"/><circle cx="85.5" cy="87.0" r="0.54" fill="#c08088" opacity="0.86"/><circle cx="84.8" cy="19.8" r="0.66" fill="#a8525a" opacity="0.76"/><circle cx="111.0" cy="53.3" r="0.60" fill="#c08088" opacity="0.82"/><circle cx="34.8" cy="82.1" r="0.70" fill="#9c4850" opacity="0.71"/><circle cx="62.0" cy="14.7" r="0.48" fill="#b0606a" opacity="0.63"/><circle cx="36.3" cy="2.8" r="0.59" fill="#9c4850" opacity="0.49"/><circle cx="17.3" cy="41.9" r="0.38" fill="#b0606a" opacity="0.59"/><circle cx="87.7" cy="31.9" r="0.49" fill="#b87078" opacity="0.51"/><circle cx="8.3" cy="2.4" r="0.61" fill="#c08088" opacity="0.81"/><circle cx="93.9" cy="0.7" r="0.43" fill="#b0606a" opacity="0.81"/><circle cx="115.6" cy="2.0" r="0.62" fill="#b87078" opacity="0.54"/><circle cx="96.6" cy="91.0" r="0.64" fill="#a8525a" opacity="0.77"/><circle cx="120.6" cy="92.7" r="0.39" fill="#c08088" opacity="0.59"/><circle cx="30.1" cy="71.2" r="0.53" fill="#a8525a" opacity="0.69"/><circle cx="57.9" cy="1.5" r="0.38" fill="#a8525a" opacity="0.72"/><circle cx="108.4" cy="25.2" r="0.43" fill="#a8525a" opacity="0.57"/><circle cx="2.7" cy="63.7" r="0.62" fill="#9c4850" opacity="0.89"/><circle cx="10.3" cy="88.5" r="0.45" fill="#b0606a" opacity="0.58"/><circle cx="5.8" cy="30.1" r="0.68" fill="#a8525a" opacity="0.70"/><circle cx="8.7" cy="71.2" r="0.35" fill="#b0606a" opacity="0.53"/><circle cx="130.0" cy="11.3" r="0.50" fill="#b87078" opacity="0.48"/><circle cx="16.1" cy="0.1" r="0.64" fill="#b0606a" opacity="0.75"/><circle cx="94.8" cy="53.1" r="0.64" fill="#c08088" opacity="0.83"/><circle cx="86.7" cy="12.7" r="0.53" fill="#c08088" opacity="0.79"/><circle cx="88.7" cy="19.1" r="0.49" fill="#b0606a" opacity="0.88"/><circle cx="111.0" cy="72.1" r="0.49" fill="#c08088" opacity="0.72"/><circle cx="48.1" cy="22.0" r="0.59" fill="#9c4850" opacity="0.68"/><circle cx="38.6" cy="26.0" r="0.54" fill="#9c4850" opacity="0.50"/><circle cx="104.3" cy="50.5" r="0.37" fill="#b0606a" opacity="0.69"/><circle cx="66.1" cy="6.3" r="0.54" fill="#b87078" opacity="0.73"/><circle cx="91.7" cy="60.4" r="0.67" fill="#b0606a" opacity="0.63"/><circle cx="2.3" cy="70.5" r="0.63" fill="#b0606a" opacity="0.47"/><circle cx="132.5" cy="80.7" r="0.38" fill="#b87078" opacity="0.83"/><circle cx="15.2" cy="83.1" r="0.56" fill="#c08088" opacity="0.79"/><circle cx="35.5" cy="21.4" r="0.37" fill="#a8525a" opacity="0.87"/><circle cx="33.0" cy="16.3" r="0.56" fill="#a8525a" opacity="0.51"/><circle cx="72.9" cy="18.2" r="0.63" fill="#a8525a" opacity="0.77"/><circle cx="35.1" cy="34.9" r="0.65" fill="#9c4850" opacity="0.66"/><circle cx="11.6" cy="35.8" r="0.46" fill="#9c4850" opacity="0.55"/><circle cx="25.3" cy="29.7" r="0.59" fill="#b0606a" opacity="0.60"/><circle cx="105.7" cy="14.4" r="0.36" fill="#9c4850" opacity="0.69"/><circle cx="124.6" cy="55.5" r="0.49" fill="#b87078" opacity="0.80"/><circle cx="51.6" cy="85.8" r="0.66" fill="#a8525a" opacity="0.88"/><circle cx="122.5" cy="88.1" r="0.51" fill="#9c4850" opacity="0.58"/><circle cx="8.7" cy="75.6" r="0.43" fill="#9c4850" opacity="0.47"/><circle cx="131.9" cy="59.5" r="0.49" fill="#b87078" opacity="0.71"/><circle cx="77.5" cy="93.1" r="0.58" fill="#a8525a" opacity="0.53"/><circle cx="4.5" cy="13.3" r="0.56" fill="#a8525a" opacity="0.80"/><circle cx="114.0" cy="65.7" r="0.68" fill="#a8525a" opacity="0.85"/><circle cx="102.3" cy="50.8" r="0.53" fill="#b87078" opacity="0.80"/><circle cx="91.4" cy="14.6" r="0.54" fill="#a8525a" opacity="0.79"/><circle cx="11.6" cy="60.3" r="0.35" fill="#b87078" opacity="0.60"/><circle cx="16.3" cy="50.5" r="0.60" fill="#9c4850" opacity="0.86"/><circle cx="43.7" cy="15.9" r="0.38" fill="#b0606a" opacity="0.55"/><circle cx="123.6" cy="59.7" r="0.40" fill="#b87078" opacity="0.72"/><circle cx="119.4" cy="77.3" r="0.39" fill="#c08088" opacity="0.59"/><circle cx="33.6" cy="9.3" r="0.44" fill="#b87078" opacity="0.75"/><circle cx="70.8" cy="70.0" r="0.39" fill="#b0606a" opacity="0.50"/><circle cx="71.3" cy="28.3" r="0.62" fill="#a8525a" opacity="0.58"/><circle cx="126.4" cy="84.4" r="0.41" fill="#9c4850" opacity="0.71"/><circle cx="21.2" cy="9.3" r="0.66" fill="#9c4850" opacity="0.60"/><circle cx="107.9" cy="34.3" r="0.59" fill="#9c4850" opacity="0.45"/><circle cx="107.6" cy="24.9" r="0.62" fill="#a8525a" opacity="0.49"/><circle cx="22.7" cy="54.7" r="0.53" fill="#a8525a" opacity="0.70"/><circle cx="37.4" cy="31.3" r="0.42" fill="#9c4850" opacity="0.64"/><circle cx="56.2" cy="60.4" r="0.52" fill="#9c4850" opacity="0.46"/><circle cx="66.4" cy="50.4" r="0.64" fill="#c08088" opacity="0.73"/><circle cx="115.5" cy="75.3" r="0.56" fill="#b87078" opacity="0.85"/><circle cx="135.5" cy="75.3" r="0.56" fill="#9c4850" opacity="0.74"/><circle cx="8.2" cy="29.3" r="0.48" fill="#b0606a" opacity="0.74"/><circle cx="71.7" cy="37.5" r="0.50" fill="#b87078" opacity="0.70"/><circle cx="78.6" cy="70.3" r="0.46" fill="#c08088" opacity="0.52"/><circle cx="110.3" cy="36.0" r="0.48" fill="#b0606a" opacity="0.46"/><circle cx="40.3" cy="52.5" r="0.38" fill="#b87078" opacity="0.89"/><circle cx="103.3" cy="19.6" r="0.40" fill="#b0606a" opacity="0.61"/><circle cx="36.7" cy="74.8" r="0.61" fill="#b87078" opacity="0.52"/><circle cx="10.9" cy="54.9" r="0.59" fill="#9c4850" opacity="0.51"/><circle cx="11.5" cy="10.0" r="0.53" fill="#a8525a" opacity="0.61"/><circle cx="32.6" cy="12.5" r="0.52" fill="#9c4850" opacity="0.48"/><circle cx="26.2" cy="43.1" r="0.48" fill="#b0606a" opacity="0.70"/><circle cx="70.5" cy="63.4" r="0.45" fill="#b0606a" opacity="0.84"/><circle cx="53.6" cy="18.3" r="0.50" fill="#c08088" opacity="0.81"/><circle cx="64.1" cy="90.2" r="0.60" fill="#9c4850" opacity="0.83"/><circle cx="120.6" cy="14.1" r="0.55" fill="#c08088" opacity="0.45"/><circle cx="20.4" cy="21.8" r="0.61" fill="#9c4850" opacity="0.61"/><circle cx="74.9" cy="19.9" r="0.48" fill="#a8525a" opacity="0.83"/><circle cx="134.1" cy="34.5" r="0.62" fill="#9c4850" opacity="0.64"/><circle cx="55.7" cy="59.1" r="0.65" fill="#b0606a" opacity="0.71"/><circle cx="106.8" cy="68.3" r="0.43" fill="#b0606a" opacity="0.63"/><circle cx="45.6" cy="10.2" r="0.68" fill="#c08088" opacity="0.79"/><circle cx="81.9" cy="83.8" r="0.37" fill="#a8525a" opacity="0.69"/><circle cx="4.6" cy="20.6" r="0.38" fill="#a8525a" opacity="0.82"/><circle cx="117.7" cy="86.1" r="0.46" fill="#9c4850" opacity="0.85"/><circle cx="93.2" cy="35.5" r="0.40" fill="#9c4850" opacity="0.81"/><circle cx="5.3" cy="39.7" r="0.45" fill="#b87078" opacity="0.65"/><circle cx="9.6" cy="86.3" r="0.58" fill="#b87078" opacity="0.46"/><circle cx="80.3" cy="50.9" r="0.58" fill="#b87078" opacity="0.58"/><circle cx="87.1" cy="48.1" r="0.56" fill="#b87078" opacity="0.69"/><circle cx="47.9" cy="82.7" r="0.62" fill="#a8525a" opacity="0.77"/><circle cx="36.1" cy="68.2" r="0.44" fill="#c08088" opacity="0.84"/><circle cx="20.6" cy="58.9" r="0.61" fill="#b0606a" opacity="0.84"/><circle cx="47.3" cy="1.3" r="0.52" fill="#b0606a" opacity="0.82"/><circle cx="116.4" cy="44.4" r="0.60" fill="#9c4850" opacity="0.59"/><circle cx="33.7" cy="14.9" r="0.54" fill="#b87078" opacity="0.80"/><circle cx="114.6" cy="33.8" r="0.53" fill="#b87078" opacity="0.78"/><circle cx="19.4" cy="48.2" r="0.49" fill="#c08088" opacity="0.60"/><circle cx="8.5" cy="27.4" r="0.68" fill="#c08088" opacity="0.61"/><circle cx="35.6" cy="7.9" r="0.58" fill="#a8525a" opacity="0.55"/><circle cx="50.6" cy="13.8" r="0.65" fill="#a8525a" opacity="0.88"/><circle cx="66.5" cy="24.9" r="0.53" fill="#9c4850" opacity="0.90"/><circle cx="89.9" cy="5.7" r="0.44" fill="#b87078" opacity="0.60"/><circle cx="111.1" cy="56.9" r="0.65" fill="#b0606a" opacity="0.47"/><circle cx="42.7" cy="65.3" r="0.48" fill="#b87078" opacity="0.72"/><circle cx="17.0" cy="20.3" r="0.68" fill="#a8525a" opacity="0.63"/><circle cx="78.7" cy="3.6" r="0.39" fill="#c08088" opacity="0.66"/><circle cx="131.3" cy="4.4" r="0.61" fill="#a8525a" opacity="0.81"/><circle cx="97.8" cy="71.2" r="0.69" fill="#9c4850" opacity="0.73"/><circle cx="12.5" cy="67.4" r="0.64" fill="#b87078" opacity="0.55"/><circle cx="123.4" cy="44.6" r="0.37" fill="#b0606a" opacity="0.77"/><circle cx="52.4" cy="84.6" r="0.65" fill="#a8525a" opacity="0.67"/><circle cx="100.0" cy="20.7" r="0.63" fill="#b0606a" opacity="0.75"/><circle cx="98.0" cy="47.8" r="0.67" fill="#a8525a" opacity="0.57"/><circle cx="115.9" cy="49.3" r="0.35" fill="#a8525a" opacity="0.72"/><circle cx="133.9" cy="42.6" r="0.64" fill="#a8525a" opacity="0.67"/><circle cx="80.6" cy="33.7" r="0.54" fill="#c08088" opacity="0.45"/><circle cx="125.2" cy="46.4" r="0.55" fill="#9c4850" opacity="0.74"/><circle cx="85.9" cy="21.5" r="0.70" fill="#9c4850" opacity="0.84"/><circle cx="91.7" cy="47.6" r="0.38" fill="#c08088" opacity="0.87"/><circle cx="103.0" cy="92.9" r="0.58" fill="#b0606a" opacity="0.90"/><circle cx="9.2" cy="43.0" r="0.64" fill="#b87078" opacity="0.76"/><circle cx="46.6" cy="9.6" r="0.43" fill="#b87078" opacity="0.46"/><circle cx="107.2" cy="45.8" r="0.49" fill="#b0606a" opacity="0.56"/><circle cx="133.5" cy="77.7" r="0.60" fill="#9c4850" opacity="0.80"/><circle cx="110.6" cy="72.7" r="0.64" fill="#b0606a" opacity="0.68"/><circle cx="71.7" cy="62.5" r="0.40" fill="#b87078" opacity="0.77"/><circle cx="14.5" cy="23.9" r="0.67" fill="#a8525a" opacity="0.88"/><circle cx="85.0" cy="87.4" r="0.48" fill="#b0606a" opacity="0.50"/><circle cx="113.2" cy="35.2" r="0.57" fill="#9c4850" opacity="0.80"/><circle cx="115.7" cy="43.8" r="0.62" fill="#c08088" opacity="0.64"/><circle cx="28.5" cy="4.1" r="0.55" fill="#a8525a" opacity="0.72"/><circle cx="0.5" cy="66.6" r="0.67" fill="#b87078" opacity="0.60"/><circle cx="57.7" cy="28.1" r="0.40" fill="#a8525a" opacity="0.55"/><circle cx="38.8" cy="62.6" r="0.52" fill="#b0606a" opacity="0.85"/><circle cx="31.2" cy="6.0" r="0.44" fill="#b0606a" opacity="0.56"/><circle cx="28.0" cy="43.8" r="0.59" fill="#9c4850" opacity="0.49"/><circle cx="61.3" cy="0.8" r="0.38" fill="#b0606a" opacity="0.86"/><circle cx="46.6" cy="12.9" r="0.50" fill="#c08088" opacity="0.77"/><circle cx="25.2" cy="93.1" r="0.58" fill="#b0606a" opacity="0.58"/><circle cx="79.2" cy="22.1" r="0.38" fill="#a8525a" opacity="0.45"/><circle cx="18.4" cy="82.0" r="0.60" fill="#c08088" opacity="0.67"/><circle cx="77.9" cy="66.2" r="0.52" fill="#9c4850" opacity="0.57"/><circle cx="119.9" cy="48.0" r="0.48" fill="#c08088" opacity="0.72"/><circle cx="131.7" cy="85.6" r="0.54" fill="#a8525a" opacity="0.61"/><circle cx="110.1" cy="31.0" r="0.64" fill="#9c4850" opacity="0.76"/><circle cx="66.5" cy="79.6" r="0.56" fill="#c08088" opacity="0.65"/><circle cx="64.0" cy="50.3" r="0.55" fill="#b0606a" opacity="0.64"/><circle cx="16.3" cy="68.1" r="0.35" fill="#9c4850" opacity="0.55"/><circle cx="50.6" cy="29.2" r="0.69" fill="#9c4850" opacity="0.66"/><circle cx="17.4" cy="6.1" r="0.39" fill="#a8525a" opacity="0.58"/><circle cx="111.2" cy="56.2" r="0.54" fill="#a8525a" opacity="0.87"/><circle cx="29.9" cy="19.1" r="0.55" fill="#c08088" opacity="0.67"/><circle cx="83.9" cy="37.3" r="0.59" fill="#a8525a" opacity="0.58"/><circle cx="101.9" cy="91.8" r="0.54" fill="#c08088" opacity="0.62"/><circle cx="21.8" cy="87.8" r="0.61" fill="#c08088" opacity="0.49"/><circle cx="86.2" cy="92.0" r="0.60" fill="#b0606a" opacity="0.66"/><circle cx="125.5" cy="31.4" r="0.50" fill="#9c4850" opacity="0.81"/><circle cx="14.7" cy="56.7" r="0.69" fill="#a8525a" opacity="0.86"/><circle cx="97.8" cy="72.3" r="0.41" fill="#b0606a" opacity="0.83"/><circle cx="65.1" cy="4.4" r="0.69" fill="#c08088" opacity="0.85"/><circle cx="27.7" cy="47.9" r="0.40" fill="#c08088" opacity="0.86"/><circle cx="109.8" cy="89.6" r="0.57" fill="#b87078" opacity="0.51"/><circle cx="85.6" cy="49.0" r="0.53" fill="#9c4850" opacity="0.50"/><circle cx="91.5" cy="30.9" r="0.43" fill="#b87078" opacity="0.72"/><circle cx="127.2" cy="11.6" r="0.38" fill="#9c4850" opacity="0.73"/><circle cx="61.6" cy="36.0" r="0.45" fill="#b0606a" opacity="0.78"/><circle cx="84.9" cy="38.8" r="0.67" fill="#b0606a" opacity="0.77"/><circle cx="120.5" cy="20.0" r="0.70" fill="#9c4850" opacity="0.60"/><circle cx="81.4" cy="87.6" r="0.56" fill="#a8525a" opacity="0.84"/><circle cx="134.5" cy="16.1" r="0.69" fill="#9c4850" opacity="0.88"/><circle cx="33.9" cy="17.2" r="0.64" fill="#c08088" opacity="0.51"/><circle cx="56.6" cy="2.7" r="0.70" fill="#b87078" opacity="0.69"/><circle cx="68.1" cy="7.6" r="0.57" fill="#9c4850" opacity="0.65"/><circle cx="135.7" cy="5.2" r="0.51" fill="#b87078" opacity="0.61"/><circle cx="60.2" cy="85.4" r="0.65" fill="#b87078" opacity="0.60"/><circle cx="34.1" cy="91.8" r="0.69" fill="#b87078" opacity="0.86"/><circle cx="7.3" cy="6.6" r="0.36" fill="#a8525a" opacity="0.48"/><circle cx="34.3" cy="6.6" r="0.60" fill="#c08088" opacity="0.55"/><circle cx="122.8" cy="46.8" r="0.60" fill="#9c4850" opacity="0.79"/><circle cx="73.9" cy="63.8" r="0.67" fill="#c08088" opacity="0.85"/><circle cx="70.3" cy="63.4" r="0.38" fill="#a8525a" opacity="0.56"/><circle cx="123.2" cy="18.7" r="0.35" fill="#b0606a" opacity="0.47"/><circle cx="70.0" cy="46.4" r="0.58" fill="#b87078" opacity="0.83"/><circle cx="5.2" cy="39.5" r="0.45" fill="#b87078" opacity="0.51"/><circle cx="71.2" cy="60.3" r="0.58" fill="#b0606a" opacity="0.82"/><circle cx="17.2" cy="46.1" r="0.52" fill="#c08088" opacity="0.66"/><circle cx="81.1" cy="69.4" r="0.65" fill="#c08088" opacity="0.68"/><circle cx="72.8" cy="35.1" r="0.38" fill="#c08088" opacity="0.66"/><circle cx="39.7" cy="9.7" r="0.67" fill="#b0606a" opacity="0.56"/><circle cx="2.2" cy="17.6" r="0.36" fill="#9c4850" opacity="0.88"/><circle cx="117.3" cy="67.7" r="0.45" fill="#9c4850" opacity="0.70"/><circle cx="48.3" cy="30.5" r="0.39" fill="#c08088" opacity="0.49"/><circle cx="105.2" cy="27.8" r="0.57" fill="#b0606a" opacity="0.63"/><circle cx="100.2" cy="3.5" r="0.67" fill="#b87078" opacity="0.90"/><circle cx="9.3" cy="50.1" r="0.47" fill="#9c4850" opacity="0.61"/><circle cx="65.7" cy="43.7" r="0.58" fill="#a8525a" opacity="0.84"/><circle cx="46.2" cy="2.8" r="0.47" fill="#c08088" opacity="0.71"/><circle cx="35.4" cy="2.0" r="0.46" fill="#b87078" opacity="0.49"/><circle cx="135.8" cy="2.4" r="0.41" fill="#c08088" opacity="0.82"/><circle cx="119.5" cy="4.1" r="0.69" fill="#9c4850" opacity="0.87"/><circle cx="76.8" cy="87.1" r="0.44" fill="#b0606a" opacity="0.87"/><circle cx="55.6" cy="32.0" r="0.55" fill="#c08088" opacity="0.51"/><circle cx="69.6" cy="92.7" r="0.83" fill="#9c4850" opacity=".85"/><circle cx="91.2" cy="16.3" r="0.89" fill="#9c4850" opacity=".85"/><circle cx="77.6" cy="8.9" r="0.71" fill="#b0606a" opacity=".85"/><circle cx="48.3" cy="73.6" r="0.79" fill="#b0606a" opacity=".85"/><circle cx="43.8" cy="59.3" r="1.08" fill="#9c4850" opacity=".85"/><circle cx="55.4" cy="60.4" r="1.10" fill="#a8525a" opacity=".85"/><circle cx="4.3" cy="18.6" r="0.71" fill="#b0606a" opacity=".85"/><circle cx="47.5" cy="81.1" r="0.70" fill="#b0606a" opacity=".85"/><circle cx="121.4" cy="78.6" r="1.04" fill="#9c4850" opacity=".85"/><circle cx="136.5" cy="34.9" r="1.10" fill="#b0606a" opacity=".85"/><circle cx="1.7" cy="30.8" r="0.75" fill="#9c4850" opacity=".85"/><circle cx="39.2" cy="87.5" r="0.70" fill="#a8525a" opacity=".85"/><circle cx="118.0" cy="38.4" r="0.79" fill="#9c4850" opacity=".85"/><circle cx="19.3" cy="18.8" r="0.79" fill="#9c4850" opacity=".85"/><circle cx="92.4" cy="81.8" r="0.82" fill="#9c4850" opacity=".85"/><circle cx="11.2" cy="61.6" r="0.95" fill="#a8525a" opacity=".85"/><circle cx="21.5" cy="29.0" r="1.02" fill="#a8525a" opacity=".85"/><circle cx="119.9" cy="50.3" r="0.90" fill="#9c4850" opacity=".85"/><circle cx="28.3" cy="1.0" r="0.76" fill="#a8525a" opacity=".85"/><circle cx="56.1" cy="57.4" r="1.15" fill="#a8525a" opacity=".85"/><circle cx="50.7" cy="35.6" r="0.97" fill="#a8525a" opacity=".85"/><circle cx="30.5" cy="45.5" r="1.16" fill="#b0606a" opacity=".85"/><circle cx="58.3" cy="60.7" r="0.90" fill="#b0606a" opacity=".85"/><circle cx="9.3" cy="93.1" r="1.23" fill="#9c4850" opacity=".85"/><circle cx="115.1" cy="31.8" r="0.75" fill="#9c4850" opacity=".85"/><circle cx="118.1" cy="72.4" r="0.77" fill="#b0606a" opacity=".85"/><circle cx="72.5" cy="51.5" r="0.99" fill="#b0606a" opacity=".85"/><circle cx="64.0" cy="34.9" r="0.88" fill="#a8525a" opacity=".85"/><circle cx="43.1" cy="78.1" r="0.95" fill="#a8525a" opacity=".85"/><circle cx="55.2" cy="23.4" r="0.75" fill="#9c4850" opacity=".85"/><circle cx="84.7" cy="57.4" r="0.94" fill="#b0606a" opacity=".85"/><circle cx="94.7" cy="85.2" r="1.12" fill="#a8525a" opacity=".85"/><circle cx="83.4" cy="53.3" r="0.80" fill="#b0606a" opacity=".85"/><circle cx="45.4" cy="47.6" r="0.98" fill="#9c4850" opacity=".85"/><circle cx="105.4" cy="1.3" r="1.21" fill="#9c4850" opacity=".85"/><circle cx="30.8" cy="25.7" r="0.79" fill="#9c4850" opacity=".85"/><circle cx="39.2" cy="83.4" r="1.15" fill="#a8525a" opacity=".85"/><circle cx="17.6" cy="55.4" r="0.75" fill="#9c4850" opacity=".85"/><circle cx="49.7" cy="86.7" r="1.03" fill="#9c4850" opacity=".85"/><circle cx="0.9" cy="14.6" r="0.99" fill="#b0606a" opacity=".85"/><circle cx="48.1" cy="57.2" r="0.93" fill="#b0606a" opacity=".85"/><circle cx="46.7" cy="45.1" r="1.10" fill="#b0606a" opacity=".85"/><circle cx="73.8" cy="16.1" r="1.19" fill="#a8525a" opacity=".85"/><circle cx="3.8" cy="38.4" r="1.22" fill="#b0606a" opacity=".85"/><circle cx="16.4" cy="38.3" r="0.80" fill="#a8525a" opacity=".85"/><circle cx="32.6" cy="81.9" r="1.13" fill="#b0606a" opacity=".85"/><circle cx="103.6" cy="66.6" r="0.83" fill="#9c4850" opacity=".85"/><circle cx="127.0" cy="45.1" r="1.17" fill="#a8525a" opacity=".85"/><circle cx="34.8" cy="76.3" r="1.00" fill="#b0606a" opacity=".85"/><circle cx="131.1" cy="81.6" r="1.05" fill="#9c4850" opacity=".85"/><circle cx="87.4" cy="65.1" r="0.87" fill="#9c4850" opacity=".85"/><circle cx="9.2" cy="74.9" r="0.89" fill="#a8525a" opacity=".85"/><circle cx="113.4" cy="34.5" r="1.04" fill="#b0606a" opacity=".85"/><circle cx="24.4" cy="47.9" r="1.18" fill="#b0606a" opacity=".85"/><circle cx="92.4" cy="91.7" r="1.14" fill="#9c4850" opacity=".85"/><circle cx="95.9" cy="90.9" r="0.94" fill="#b0606a" opacity=".85"/><circle cx="10.6" cy="27.3" r="0.94" fill="#9c4850" opacity=".85"/><circle cx="81.7" cy="16.9" r="1.13" fill="#9c4850" opacity=".85"/><circle cx="57.9" cy="63.0" r="1.14" fill="#9c4850" opacity=".85"/><circle cx="76.1" cy="21.2" r="0.83" fill="#b0606a" opacity=".85"/><circle cx="53.0" cy="35.0" r="1.10" fill="#a03840"/><circle cx="97.0" cy="12.0" r="1.30" fill="#a03840"/><circle cx="110.0" cy="5.0" r="1.20" fill="#a03840"/></g>
</svg>
<svg x="497.3" y="788.3" width="137.4" height="93.7" viewBox="0 0 137.4 93.7" overflow="hidden">
<rect width="137.4" height="93.7" fill="#e2e1df"/>
<rect width="137.4" height="93.7" filter="url(#htex)"/>
<g filter="url(#b0)"><circle cx="131.9" cy="81.7" r="0.61" fill="#b0606a" opacity="0.63"/><circle cx="0.9" cy="11.7" r="0.64" fill="#b0606a" opacity="0.50"/><circle cx="20.2" cy="7.2" r="0.61" fill="#9c4850" opacity="0.74"/><circle cx="118.5" cy="54.5" r="0.49" fill="#9c4850" opacity="0.88"/><circle cx="23.6" cy="28.0" r="0.36" fill="#b87078" opacity="0.69"/><circle cx="35.5" cy="16.8" r="0.55" fill="#a8525a" opacity="0.47"/><circle cx="107.9" cy="11.6" r="0.41" fill="#c08088" opacity="0.64"/><circle cx="126.9" cy="32.8" r="0.70" fill="#b0606a" opacity="0.82"/><circle cx="13.0" cy="67.7" r="0.51" fill="#c08088" opacity="0.66"/><circle cx="18.2" cy="20.6" r="0.40" fill="#c08088" opacity="0.53"/><circle cx="73.9" cy="3.0" r="0.51" fill="#b0606a" opacity="0.73"/><circle cx="11.6" cy="14.4" r="0.35" fill="#b0606a" opacity="0.51"/><circle cx="64.8" cy="52.6" r="0.50" fill="#c08088" opacity="0.67"/><circle cx="25.8" cy="40.4" r="0.36" fill="#a8525a" opacity="0.84"/><circle cx="122.4" cy="78.7" r="0.53" fill="#c08088" opacity="0.77"/><circle cx="2.6" cy="73.5" r="0.44" fill="#a8525a" opacity="0.54"/><circle cx="66.6" cy="42.4" r="0.38" fill="#c08088" opacity="0.56"/><circle cx="12.0" cy="83.4" r="0.58" fill="#a8525a" opacity="0.70"/><circle cx="131.8" cy="59.7" r="0.65" fill="#a8525a" opacity="0.64"/><circle cx="112.9" cy="93.6" r="0.49" fill="#c08088" opacity="0.53"/><circle cx="11.8" cy="19.8" r="0.43" fill="#b0606a" opacity="0.72"/><circle cx="94.5" cy="68.8" r="0.57" fill="#b87078" opacity="0.68"/><circle cx="31.5" cy="49.7" r="0.43" fill="#b0606a" opacity="0.77"/><circle cx="1.1" cy="81.2" r="0.45" fill="#a8525a" opacity="0.63"/><circle cx="75.5" cy="88.8" r="0.52" fill="#b87078" opacity="0.80"/><circle cx="127.3" cy="57.5" r="0.67" fill="#b87078" opacity="0.57"/><circle cx="123.5" cy="12.5" r="0.47" fill="#c08088" opacity="0.86"/><circle cx="63.1" cy="1.0" r="0.55" fill="#b87078" opacity="0.85"/><circle cx="36.0" cy="49.5" r="0.51" fill="#b0606a" opacity="0.52"/><circle cx="67.0" cy="11.6" r="0.61" fill="#a8525a" opacity="0.75"/><circle cx="1.7" cy="41.0" r="0.39" fill="#c08088" opacity="0.67"/><circle cx="50.6" cy="76.1" r="0.64" fill="#a8525a" opacity="0.57"/><circle cx="103.7" cy="75.3" r="0.52" fill="#b87078" opacity="0.77"/><circle cx="68.7" cy="76.9" r="0.42" fill="#b0606a" opacity="0.52"/><circle cx="51.1" cy="9.9" r="0.46" fill="#b87078" opacity="0.59"/><circle cx="122.9" cy="20.6" r="0.42" fill="#b0606a" opacity="0.84"/><circle cx="13.7" cy="48.9" r="0.48" fill="#b0606a" opacity="0.51"/><circle cx="101.0" cy="75.5" r="0.47" fill="#b0606a" opacity="0.77"/><circle cx="0.1" cy="26.7" r="0.56" fill="#b0606a" opacity="0.54"/><circle cx="76.3" cy="84.9" r="0.41" fill="#9c4850" opacity="0.90"/><circle cx="74.9" cy="3.3" r="0.50" fill="#c08088" opacity="0.69"/><circle cx="12.3" cy="34.8" r="0.44" fill="#b0606a" opacity="0.68"/><circle cx="134.8" cy="11.0" r="0.53" fill="#9c4850" opacity="0.87"/><circle cx="64.6" cy="40.9" r="0.66" fill="#b87078" opacity="0.77"/><circle cx="87.9" cy="72.3" r="0.57" fill="#c08088" opacity="0.82"/><circle cx="6.5" cy="29.7" r="0.66" fill="#b0606a" opacity="0.63"/><circle cx="131.1" cy="79.5" r="0.64" fill="#c08088" opacity="0.90"/><circle cx="98.0" cy="58.1" r="0.46" fill="#b87078" opacity="0.47"/><circle cx="70.0" cy="88.5" r="0.55" fill="#a8525a" opacity="0.57"/><circle cx="68.3" cy="86.6" r="0.47" fill="#c08088" opacity="0.64"/><circle cx="21.0" cy="19.0" r="0.48" fill="#a8525a" opacity="0.85"/><circle cx="49.4" cy="11.3" r="0.44" fill="#a8525a" opacity="0.49"/><circle cx="16.6" cy="21.6" r="0.61" fill="#c08088" opacity="0.89"/><circle cx="5.4" cy="26.6" r="0.41" fill="#c08088" opacity="0.48"/><circle cx="68.8" cy="77.3" r="0.59" fill="#a8525a" opacity="0.55"/><circle cx="83.4" cy="20.3" r="0.69" fill="#b87078" opacity="0.71"/><circle cx="75.6" cy="68.1" r="0.43" fill="#c08088" opacity="0.76"/><circle cx="16.3" cy="89.9" r="0.39" fill="#c08088" opacity="0.74"/><circle cx="67.9" cy="46.4" r="0.38" fill="#b0606a" opacity="0.86"/><circle cx="75.2" cy="90.8" r="0.62" fill="#c08088" opacity="0.53"/><circle cx="64.9" cy="71.4" r="0.61" fill="#a8525a" opacity="0.71"/><circle cx="31.0" cy="47.7" r="0.67" fill="#b0606a" opacity="0.84"/><circle cx="47.6" cy="13.6" r="0.60" fill="#c08088" opacity="0.52"/><circle cx="83.7" cy="68.3" r="0.50" fill="#b87078" opacity="0.77"/><circle cx="53.6" cy="6.9" r="0.59" fill="#c08088" opacity="0.54"/><circle cx="78.6" cy="41.7" r="0.59" fill="#a8525a" opacity="0.59"/><circle cx="99.8" cy="29.0" r="0.43" fill="#b0606a" opacity="0.82"/><circle cx="79.0" cy="26.6" r="0.64" fill="#9c4850" opacity="0.50"/><circle cx="75.9" cy="91.2" r="0.49" fill="#a8525a" opacity="0.64"/><circle cx="118.4" cy="31.3" r="0.38" fill="#9c4850" opacity="0.61"/><circle cx="79.1" cy="56.8" r="0.54" fill="#b87078" opacity="0.88"/><circle cx="77.8" cy="25.9" r="0.69" fill="#9c4850" opacity="0.47"/><circle cx="108.5" cy="12.9" r="0.62" fill="#9c4850" opacity="0.69"/><circle cx="134.8" cy="50.7" r="0.37" fill="#9c4850" opacity="0.64"/><circle cx="2.1" cy="22.9" r="0.68" fill="#b0606a" opacity="0.67"/><circle cx="128.7" cy="45.1" r="0.55" fill="#a8525a" opacity="0.46"/><circle cx="26.1" cy="81.4" r="0.69" fill="#c08088" opacity="0.48"/><circle cx="82.4" cy="72.2" r="0.55" fill="#c08088" opacity="0.48"/><circle cx="30.7" cy="37.0" r="0.62" fill="#a8525a" opacity="0.70"/><circle cx="49.5" cy="12.7" r="0.66" fill="#a8525a" opacity="0.88"/><circle cx="132.5" cy="64.8" r="0.65" fill="#b87078" opacity="0.78"/><circle cx="57.2" cy="63.4" r="0.62" fill="#9c4850" opacity="0.81"/><circle cx="23.1" cy="70.3" r="0.57" fill="#9c4850" opacity="0.86"/><circle cx="9.1" cy="4.1" r="0.52" fill="#a8525a" opacity="0.48"/><circle cx="77.6" cy="23.0" r="0.44" fill="#b87078" opacity="0.85"/><circle cx="87.7" cy="83.8" r="0.47" fill="#b87078" opacity="0.80"/><circle cx="24.5" cy="60.4" r="0.52" fill="#c08088" opacity="0.83"/><circle cx="91.7" cy="49.9" r="0.44" fill="#9c4850" opacity="0.50"/><circle cx="98.6" cy="19.1" r="0.59" fill="#b87078" opacity="0.73"/><circle cx="76.7" cy="79.6" r="0.55" fill="#9c4850" opacity="0.60"/><circle cx="36.4" cy="91.9" r="0.63" fill="#9c4850" opacity="0.65"/><circle cx="20.1" cy="37.3" r="0.41" fill="#c08088" opacity="0.51"/><circle cx="20.3" cy="75.8" r="0.55" fill="#b87078" opacity="0.50"/><circle cx="20.1" cy="73.4" r="0.45" fill="#c08088" opacity="0.68"/><circle cx="71.4" cy="14.7" r="0.67" fill="#b87078" opacity="0.72"/><circle cx="74.6" cy="12.7" r="0.69" fill="#9c4850" opacity="0.85"/><circle cx="108.4" cy="20.6" r="0.51" fill="#c08088" opacity="0.87"/><circle cx="76.7" cy="5.5" r="0.40" fill="#b0606a" opacity="0.86"/><circle cx="43.6" cy="31.8" r="0.56" fill="#a8525a" opacity="0.88"/><circle cx="125.6" cy="9.6" r="0.37" fill="#c08088" opacity="0.81"/><circle cx="87.5" cy="29.9" r="0.48" fill="#b0606a" opacity="0.73"/><circle cx="83.4" cy="40.2" r="0.67" fill="#b0606a" opacity="0.88"/><circle cx="62.5" cy="83.2" r="0.61" fill="#b87078" opacity="0.67"/><circle cx="73.2" cy="39.1" r="0.59" fill="#b87078" opacity="0.79"/><circle cx="31.8" cy="75.9" r="0.36" fill="#b0606a" opacity="0.58"/><circle cx="87.0" cy="63.8" r="0.52" fill="#a8525a" opacity="0.75"/><circle cx="106.8" cy="44.9" r="0.64" fill="#9c4850" opacity="0.70"/><circle cx="90.3" cy="23.9" r="0.56" fill="#9c4850" opacity="0.78"/><circle cx="25.2" cy="3.6" r="0.62" fill="#a8525a" opacity="0.52"/><circle cx="88.0" cy="18.3" r="0.58" fill="#b0606a" opacity="0.54"/><circle cx="40.9" cy="41.6" r="0.58" fill="#b0606a" opacity="0.88"/><circle cx="82.5" cy="87.3" r="0.42" fill="#9c4850" opacity="0.82"/><circle cx="73.0" cy="62.9" r="0.62" fill="#a8525a" opacity="0.56"/><circle cx="56.0" cy="2.0" r="0.56" fill="#b87078" opacity="0.60"/><circle cx="47.6" cy="26.3" r="0.49" fill="#c08088" opacity="0.51"/><circle cx="132.8" cy="40.5" r="0.38" fill="#c08088" opacity="0.75"/><circle cx="17.7" cy="38.9" r="0.61" fill="#b87078" opacity="0.70"/><circle cx="70.7" cy="64.3" r="0.47" fill="#b0606a" opacity="0.73"/><circle cx="79.7" cy="54.0" r="0.61" fill="#b0606a" opacity="0.73"/><circle cx="82.5" cy="85.8" r="0.62" fill="#a8525a" opacity="0.72"/><circle cx="39.6" cy="91.5" r="0.42" fill="#c08088" opacity="0.53"/><circle cx="115.7" cy="9.6" r="0.63" fill="#b87078" opacity="0.72"/><circle cx="134.7" cy="18.2" r="0.54" fill="#a8525a" opacity="0.86"/><circle cx="105.9" cy="61.0" r="0.49" fill="#9c4850" opacity="0.52"/><circle cx="63.8" cy="33.7" r="0.50" fill="#b0606a" opacity="0.48"/><circle cx="7.3" cy="33.5" r="0.54" fill="#b0606a" opacity="0.65"/><circle cx="0.5" cy="26.0" r="0.45" fill="#b87078" opacity="0.64"/><circle cx="13.6" cy="57.5" r="0.44" fill="#b87078" opacity="0.79"/><circle cx="98.5" cy="11.3" r="0.39" fill="#b87078" opacity="0.68"/><circle cx="38.0" cy="29.0" r="0.39" fill="#b87078" opacity="0.59"/><circle cx="96.5" cy="69.7" r="0.67" fill="#b87078" opacity="0.53"/><circle cx="58.3" cy="70.1" r="0.53" fill="#9c4850" opacity="0.61"/><circle cx="124.6" cy="29.2" r="0.56" fill="#b0606a" opacity="0.73"/><circle cx="106.7" cy="91.9" r="0.52" fill="#9c4850" opacity="0.61"/><circle cx="108.1" cy="6.0" r="0.38" fill="#9c4850" opacity="0.49"/><circle cx="68.4" cy="64.3" r="0.55" fill="#c08088" opacity="0.54"/><circle cx="36.8" cy="43.9" r="0.60" fill="#c08088" opacity="0.59"/><circle cx="96.9" cy="84.7" r="0.63" fill="#c08088" opacity="0.58"/><circle cx="57.0" cy="52.3" r="0.69" fill="#9c4850" opacity="0.79"/><circle cx="41.7" cy="41.7" r="0.45" fill="#c08088" opacity="0.66"/><circle cx="136.7" cy="29.2" r="0.47" fill="#9c4850" opacity="0.77"/><circle cx="36.0" cy="49.6" r="0.61" fill="#c08088" opacity="0.88"/><circle cx="105.2" cy="62.8" r="0.60" fill="#b87078" opacity="0.83"/><circle cx="45.4" cy="50.1" r="0.51" fill="#a8525a" opacity="0.58"/><circle cx="48.3" cy="2.2" r="0.64" fill="#9c4850" opacity="0.56"/><circle cx="132.9" cy="46.3" r="0.42" fill="#a8525a" opacity="0.79"/><circle cx="90.3" cy="90.7" r="0.56" fill="#b0606a" opacity="0.76"/><circle cx="125.3" cy="87.5" r="0.54" fill="#a8525a" opacity="0.77"/><circle cx="102.3" cy="32.4" r="0.43" fill="#c08088" opacity="0.46"/><circle cx="119.2" cy="93.6" r="0.62" fill="#c08088" opacity="0.85"/><circle cx="81.9" cy="34.4" r="0.46" fill="#9c4850" opacity="0.71"/><circle cx="60.8" cy="0.2" r="0.41" fill="#a8525a" opacity="0.53"/><circle cx="27.5" cy="63.8" r="0.52" fill="#a8525a" opacity="0.69"/><circle cx="35.5" cy="11.6" r="0.44" fill="#b87078" opacity="0.65"/><circle cx="109.3" cy="68.9" r="0.52" fill="#a8525a" opacity="0.85"/><circle cx="51.2" cy="34.8" r="0.58" fill="#c08088" opacity="0.55"/><circle cx="95.8" cy="70.3" r="0.49" fill="#b0606a" opacity="0.87"/><circle cx="86.4" cy="8.6" r="0.46" fill="#b0606a" opacity="0.88"/><circle cx="52.4" cy="28.1" r="0.42" fill="#c08088" opacity="0.84"/><circle cx="89.8" cy="5.8" r="0.66" fill="#9c4850" opacity="0.60"/><circle cx="34.7" cy="48.2" r="0.38" fill="#b87078" opacity="0.53"/><circle cx="70.9" cy="30.8" r="0.65" fill="#c08088" opacity="0.81"/><circle cx="54.8" cy="43.3" r="0.37" fill="#9c4850" opacity="0.82"/><circle cx="47.8" cy="28.6" r="0.39" fill="#c08088" opacity="0.57"/><circle cx="28.8" cy="42.4" r="0.37" fill="#a8525a" opacity="0.61"/><circle cx="29.6" cy="78.6" r="0.51" fill="#b0606a" opacity="0.45"/><circle cx="19.2" cy="8.9" r="0.68" fill="#9c4850" opacity="0.70"/><circle cx="16.0" cy="61.9" r="0.69" fill="#b87078" opacity="0.47"/><circle cx="6.5" cy="22.4" r="0.46" fill="#b87078" opacity="0.56"/><circle cx="74.3" cy="70.3" r="0.53" fill="#b0606a" opacity="0.53"/><circle cx="135.5" cy="27.2" r="0.63" fill="#9c4850" opacity="0.56"/><circle cx="132.0" cy="93.5" r="0.61" fill="#a8525a" opacity="0.81"/><circle cx="118.2" cy="24.2" r="0.60" fill="#b87078" opacity="0.65"/><circle cx="54.5" cy="21.7" r="0.57" fill="#c08088" opacity="0.90"/><circle cx="13.6" cy="21.7" r="0.49" fill="#b0606a" opacity="0.57"/><circle cx="110.8" cy="26.5" r="0.70" fill="#c08088" opacity="0.89"/><circle cx="57.1" cy="5.4" r="0.66" fill="#b87078" opacity="0.47"/><circle cx="90.4" cy="35.6" r="0.56" fill="#a8525a" opacity="0.71"/><circle cx="89.2" cy="4.2" r="0.68" fill="#b0606a" opacity="0.89"/><circle cx="102.8" cy="15.8" r="0.63" fill="#9c4850" opacity="0.75"/><circle cx="70.6" cy="33.0" r="0.39" fill="#a8525a" opacity="0.60"/><circle cx="68.7" cy="2.9" r="0.43" fill="#9c4850" opacity="0.58"/><circle cx="89.8" cy="25.2" r="0.68" fill="#c08088" opacity="0.52"/><circle cx="92.8" cy="84.8" r="0.60" fill="#c08088" opacity="0.56"/><circle cx="43.0" cy="25.7" r="0.58" fill="#c08088" opacity="0.71"/><circle cx="64.1" cy="6.0" r="0.66" fill="#b87078" opacity="0.49"/><circle cx="49.7" cy="8.8" r="0.56" fill="#b0606a" opacity="0.55"/><circle cx="75.9" cy="75.1" r="0.56" fill="#b0606a" opacity="0.61"/><circle cx="126.0" cy="73.5" r="0.61" fill="#b0606a" opacity="0.90"/><circle cx="53.7" cy="92.2" r="0.64" fill="#b87078" opacity="0.70"/><circle cx="110.6" cy="29.0" r="0.46" fill="#c08088" opacity="0.85"/><circle cx="135.2" cy="10.4" r="0.56" fill="#c08088" opacity="0.51"/><circle cx="76.7" cy="47.0" r="0.56" fill="#a8525a" opacity="0.47"/><circle cx="105.2" cy="57.7" r="0.57" fill="#a8525a" opacity="0.75"/><circle cx="44.3" cy="58.0" r="0.52" fill="#9c4850" opacity="0.51"/><circle cx="128.5" cy="46.5" r="0.69" fill="#b87078" opacity="0.51"/><circle cx="34.3" cy="20.3" r="0.53" fill="#b87078" opacity="0.50"/><circle cx="87.1" cy="60.1" r="0.61" fill="#b0606a" opacity="0.78"/><circle cx="116.9" cy="75.0" r="0.58" fill="#9c4850" opacity="0.51"/><circle cx="116.3" cy="89.4" r="0.59" fill="#c08088" opacity="0.59"/><circle cx="110.1" cy="47.1" r="0.64" fill="#c08088" opacity="0.68"/><circle cx="106.3" cy="34.7" r="0.42" fill="#a8525a" opacity="0.50"/><circle cx="95.8" cy="47.2" r="0.38" fill="#c08088" opacity="0.61"/><circle cx="84.0" cy="48.0" r="0.39" fill="#c08088" opacity="0.62"/><circle cx="135.6" cy="21.9" r="0.41" fill="#9c4850" opacity="0.50"/><circle cx="78.3" cy="57.3" r="0.43" fill="#a8525a" opacity="0.50"/><circle cx="51.1" cy="39.0" r="0.44" fill="#c08088" opacity="0.81"/><circle cx="0.1" cy="1.0" r="0.53" fill="#c08088" opacity="0.64"/><circle cx="128.3" cy="9.3" r="0.36" fill="#b87078" opacity="0.70"/><circle cx="38.0" cy="22.4" r="0.61" fill="#a8525a" opacity="0.77"/><circle cx="120.4" cy="19.6" r="0.58" fill="#a8525a" opacity="0.49"/><circle cx="86.0" cy="54.6" r="0.42" fill="#9c4850" opacity="0.73"/><circle cx="79.3" cy="63.7" r="0.58" fill="#b87078" opacity="0.73"/><circle cx="67.9" cy="71.6" r="0.42" fill="#c08088" opacity="0.69"/><circle cx="68.7" cy="78.5" r="0.64" fill="#c08088" opacity="0.67"/><circle cx="31.9" cy="7.6" r="0.68" fill="#b87078" opacity="0.64"/><circle cx="47.5" cy="55.6" r="0.57" fill="#c08088" opacity="0.53"/><circle cx="58.1" cy="69.3" r="0.39" fill="#a8525a" opacity="0.59"/><circle cx="105.4" cy="29.2" r="0.69" fill="#b87078" opacity="0.82"/><circle cx="9.1" cy="80.6" r="0.44" fill="#9c4850" opacity="0.57"/><circle cx="122.3" cy="53.2" r="0.51" fill="#c08088" opacity="0.75"/><circle cx="20.6" cy="90.4" r="0.57" fill="#a8525a" opacity="0.49"/><circle cx="91.9" cy="91.8" r="0.63" fill="#b87078" opacity="0.68"/><circle cx="46.7" cy="47.3" r="0.52" fill="#b87078" opacity="0.50"/><circle cx="125.8" cy="73.3" r="0.49" fill="#b0606a" opacity="0.70"/><circle cx="57.1" cy="33.5" r="0.49" fill="#c08088" opacity="0.58"/><circle cx="80.3" cy="15.8" r="0.55" fill="#9c4850" opacity="0.48"/><circle cx="65.1" cy="81.7" r="0.66" fill="#a8525a" opacity="0.53"/><circle cx="7.1" cy="15.8" r="0.67" fill="#b87078" opacity="0.71"/><circle cx="23.4" cy="91.0" r="0.36" fill="#c08088" opacity="0.58"/><circle cx="123.4" cy="21.0" r="0.46" fill="#b87078" opacity="0.50"/><circle cx="72.7" cy="21.1" r="0.46" fill="#c08088" opacity="0.53"/><circle cx="83.4" cy="25.6" r="0.48" fill="#9c4850" opacity="0.69"/><circle cx="20.8" cy="93.4" r="0.53" fill="#a8525a" opacity="0.70"/><circle cx="111.0" cy="32.6" r="0.62" fill="#c08088" opacity="0.49"/><circle cx="134.4" cy="48.1" r="0.70" fill="#a8525a" opacity="0.78"/><circle cx="137.2" cy="35.6" r="0.54" fill="#9c4850" opacity="0.65"/><circle cx="41.6" cy="5.4" r="0.65" fill="#a8525a" opacity="0.78"/><circle cx="119.3" cy="55.1" r="0.64" fill="#9c4850" opacity="0.90"/><circle cx="57.8" cy="34.3" r="0.64" fill="#9c4850" opacity="0.53"/><circle cx="122.2" cy="72.7" r="0.53" fill="#b0606a" opacity="0.85"/><circle cx="68.0" cy="57.7" r="0.59" fill="#c08088" opacity="0.80"/><circle cx="88.4" cy="18.4" r="0.65" fill="#9c4850" opacity="0.53"/><circle cx="34.6" cy="38.0" r="0.60" fill="#9c4850" opacity="0.58"/><circle cx="29.9" cy="90.9" r="0.49" fill="#a8525a" opacity="0.65"/><circle cx="83.1" cy="3.0" r="0.61" fill="#c08088" opacity="0.57"/><circle cx="64.2" cy="0.3" r="0.49" fill="#b87078" opacity="0.77"/><circle cx="87.0" cy="2.5" r="0.64" fill="#9c4850" opacity="0.68"/><circle cx="2.1" cy="2.0" r="0.44" fill="#c08088" opacity="0.79"/><circle cx="98.9" cy="6.2" r="0.67" fill="#b87078" opacity="0.68"/><circle cx="7.7" cy="3.8" r="0.52" fill="#b87078" opacity="0.48"/><circle cx="132.1" cy="52.6" r="0.64" fill="#b87078" opacity="0.46"/><circle cx="137.0" cy="56.9" r="0.64" fill="#c08088" opacity="0.87"/><circle cx="5.4" cy="59.7" r="0.43" fill="#b0606a" opacity="0.64"/><circle cx="70.2" cy="44.1" r="0.42" fill="#9c4850" opacity="0.69"/><circle cx="61.8" cy="73.1" r="0.65" fill="#c08088" opacity="0.74"/><circle cx="133.0" cy="74.2" r="0.53" fill="#c08088" opacity="0.61"/><circle cx="113.2" cy="2.8" r="0.45" fill="#a8525a" opacity="0.89"/><circle cx="42.3" cy="10.0" r="0.43" fill="#c08088" opacity="0.77"/><circle cx="3.6" cy="22.9" r="0.64" fill="#b87078" opacity="0.87"/><circle cx="126.9" cy="58.7" r="0.47" fill="#a8525a" opacity="0.57"/><circle cx="56.4" cy="40.3" r="0.66" fill="#b87078" opacity="0.72"/><circle cx="121.9" cy="36.6" r="0.52" fill="#a8525a" opacity="0.87"/><circle cx="133.8" cy="66.8" r="0.46" fill="#c08088" opacity="0.85"/><circle cx="90.0" cy="52.3" r="0.59" fill="#c08088" opacity="0.69"/><circle cx="75.4" cy="91.3" r="0.49" fill="#a8525a" opacity="0.66"/><circle cx="12.7" cy="86.6" r="0.45" fill="#b0606a" opacity="0.73"/><circle cx="89.9" cy="28.5" r="0.62" fill="#b87078" opacity="0.72"/><circle cx="43.0" cy="44.9" r="0.65" fill="#b0606a" opacity="0.68"/><circle cx="70.4" cy="76.4" r="0.54" fill="#a8525a" opacity="0.66"/><circle cx="69.0" cy="58.2" r="0.70" fill="#c08088" opacity="0.81"/><circle cx="26.5" cy="12.7" r="0.36" fill="#a8525a" opacity="0.81"/><circle cx="94.5" cy="51.4" r="0.45" fill="#b87078" opacity="0.87"/><circle cx="118.4" cy="7.7" r="0.45" fill="#a8525a" opacity="0.48"/><circle cx="70.1" cy="85.6" r="0.62" fill="#9c4850" opacity="0.77"/><circle cx="64.7" cy="92.2" r="0.38" fill="#a8525a" opacity="0.59"/><circle cx="24.6" cy="20.5" r="0.66" fill="#9c4850" opacity="0.47"/><circle cx="105.0" cy="37.6" r="0.59" fill="#b87078" opacity="0.76"/><circle cx="85.8" cy="83.5" r="0.58" fill="#9c4850" opacity="0.69"/><circle cx="100.1" cy="62.4" r="0.60" fill="#a8525a" opacity="0.51"/><circle cx="102.1" cy="87.3" r="0.48" fill="#b0606a" opacity="0.48"/><circle cx="59.1" cy="36.7" r="0.64" fill="#a8525a" opacity="0.68"/><circle cx="128.8" cy="79.3" r="0.45" fill="#a8525a" opacity="0.52"/><circle cx="73.1" cy="32.4" r="0.62" fill="#c08088" opacity="0.84"/><circle cx="106.5" cy="2.1" r="0.45" fill="#b0606a" opacity="0.58"/><circle cx="15.8" cy="35.6" r="0.46" fill="#a8525a" opacity="0.50"/><circle cx="36.1" cy="49.7" r="0.70" fill="#9c4850" opacity="0.51"/><circle cx="41.6" cy="55.0" r="0.40" fill="#b87078" opacity="0.53"/><circle cx="85.3" cy="89.1" r="0.55" fill="#b87078" opacity="0.67"/><circle cx="86.7" cy="91.0" r="0.44" fill="#9c4850" opacity="0.80"/><circle cx="53.2" cy="49.4" r="0.40" fill="#c08088" opacity="0.82"/><circle cx="24.8" cy="35.7" r="0.51" fill="#c08088" opacity="0.85"/><circle cx="33.8" cy="21.4" r="0.57" fill="#c08088" opacity="0.57"/><circle cx="79.2" cy="6.9" r="0.58" fill="#b0606a" opacity="0.85"/><circle cx="87.9" cy="4.0" r="0.53" fill="#a8525a" opacity="0.50"/><circle cx="120.7" cy="75.3" r="0.55" fill="#a8525a" opacity="0.80"/><circle cx="104.9" cy="52.8" r="0.43" fill="#b87078" opacity="0.79"/><circle cx="83.8" cy="5.3" r="0.56" fill="#a8525a" opacity="0.64"/><circle cx="32.7" cy="28.6" r="0.43" fill="#b87078" opacity="0.82"/><circle cx="78.3" cy="24.2" r="0.66" fill="#b0606a" opacity="0.67"/><circle cx="66.1" cy="90.4" r="0.46" fill="#b0606a" opacity="0.90"/><circle cx="116.6" cy="56.0" r="0.64" fill="#c08088" opacity="0.55"/><circle cx="137.1" cy="40.8" r="0.59" fill="#9c4850" opacity="0.72"/><circle cx="61.9" cy="56.6" r="0.45" fill="#9c4850" opacity="0.89"/><circle cx="21.8" cy="0.4" r="0.48" fill="#b0606a" opacity="0.88"/><circle cx="37.9" cy="92.9" r="0.70" fill="#c08088" opacity="0.57"/><circle cx="125.7" cy="50.0" r="0.55" fill="#a8525a" opacity="0.48"/><circle cx="46.9" cy="74.0" r="0.36" fill="#c08088" opacity="0.58"/><circle cx="127.0" cy="77.2" r="0.42" fill="#9c4850" opacity="0.89"/><circle cx="93.0" cy="73.9" r="0.69" fill="#c08088" opacity="0.61"/><circle cx="92.6" cy="78.6" r="0.38" fill="#b0606a" opacity="0.85"/><circle cx="46.8" cy="72.8" r="0.53" fill="#a8525a" opacity="0.46"/><circle cx="113.8" cy="0.7" r="0.51" fill="#c08088" opacity="0.82"/><circle cx="55.0" cy="93.1" r="0.36" fill="#b0606a" opacity="0.77"/><circle cx="112.3" cy="30.5" r="0.66" fill="#a8525a" opacity="0.75"/><circle cx="76.5" cy="54.5" r="0.38" fill="#9c4850" opacity="0.81"/><circle cx="104.4" cy="13.1" r="0.39" fill="#9c4850" opacity="0.86"/><circle cx="58.5" cy="84.1" r="0.43" fill="#b0606a" opacity="0.75"/><circle cx="57.9" cy="51.3" r="0.52" fill="#b87078" opacity="0.61"/><circle cx="124.7" cy="8.3" r="0.66" fill="#b0606a" opacity="0.50"/><circle cx="114.5" cy="59.4" r="0.68" fill="#b0606a" opacity="0.52"/><circle cx="76.9" cy="10.0" r="0.65" fill="#b87078" opacity="0.84"/><circle cx="87.2" cy="79.8" r="0.63" fill="#b87078" opacity="0.49"/><circle cx="12.7" cy="76.4" r="0.62" fill="#c08088" opacity="0.46"/><circle cx="96.4" cy="47.6" r="0.43" fill="#b0606a" opacity="0.65"/><circle cx="99.5" cy="85.5" r="0.38" fill="#b87078" opacity="0.49"/><circle cx="19.9" cy="11.3" r="0.46" fill="#a8525a" opacity="0.69"/><circle cx="16.7" cy="89.6" r="0.45" fill="#9c4850" opacity="0.89"/><circle cx="91.0" cy="83.0" r="0.63" fill="#b87078" opacity="0.61"/><circle cx="119.9" cy="38.4" r="0.50" fill="#b87078" opacity="0.54"/><circle cx="19.8" cy="82.2" r="0.36" fill="#a8525a" opacity="0.85"/><circle cx="26.5" cy="83.0" r="0.49" fill="#9c4850" opacity="0.49"/><circle cx="72.3" cy="88.4" r="0.36" fill="#b87078" opacity="0.53"/><circle cx="40.8" cy="80.7" r="0.43" fill="#9c4850" opacity="0.86"/><circle cx="83.3" cy="30.9" r="0.51" fill="#b0606a" opacity="0.45"/><circle cx="7.8" cy="25.2" r="0.60" fill="#c08088" opacity="0.79"/><circle cx="116.9" cy="29.4" r="0.46" fill="#b87078" opacity="0.63"/><circle cx="124.7" cy="41.7" r="0.47" fill="#9c4850" opacity="0.60"/><circle cx="17.8" cy="38.3" r="0.62" fill="#a8525a" opacity="0.89"/><circle cx="14.3" cy="19.8" r="0.64" fill="#9c4850" opacity="0.65"/><circle cx="64.7" cy="1.7" r="0.43" fill="#a8525a" opacity="0.48"/><circle cx="83.8" cy="43.1" r="0.38" fill="#b87078" opacity="0.86"/><circle cx="94.3" cy="44.7" r="0.41" fill="#9c4850" opacity="0.64"/><circle cx="75.9" cy="22.7" r="0.41" fill="#a8525a" opacity="0.84"/><circle cx="76.2" cy="72.4" r="0.60" fill="#a8525a" opacity="0.63"/><circle cx="78.9" cy="56.7" r="0.39" fill="#a8525a" opacity="0.56"/><circle cx="102.8" cy="32.9" r="0.46" fill="#9c4850" opacity="0.55"/><circle cx="78.2" cy="21.8" r="0.36" fill="#9c4850" opacity="0.47"/><circle cx="87.7" cy="71.1" r="0.67" fill="#b0606a" opacity="0.63"/><circle cx="32.5" cy="54.0" r="0.50" fill="#a8525a" opacity="0.62"/><circle cx="59.2" cy="85.0" r="0.50" fill="#c08088" opacity="0.74"/><circle cx="30.2" cy="36.4" r="0.37" fill="#c08088" opacity="0.63"/><circle cx="120.5" cy="28.5" r="0.35" fill="#b0606a" opacity="0.61"/><circle cx="122.9" cy="52.5" r="0.41" fill="#c08088" opacity="0.53"/><circle cx="47.6" cy="40.5" r="0.57" fill="#9c4850" opacity="0.70"/><circle cx="102.5" cy="65.6" r="0.54" fill="#9c4850" opacity="0.69"/><circle cx="41.0" cy="3.2" r="0.69" fill="#c08088" opacity="0.49"/><circle cx="14.1" cy="62.2" r="0.36" fill="#9c4850" opacity="0.86"/><circle cx="73.7" cy="38.8" r="0.51" fill="#b0606a" opacity="0.46"/><circle cx="132.2" cy="50.2" r="0.39" fill="#b0606a" opacity="0.83"/><circle cx="4.9" cy="60.7" r="0.69" fill="#b0606a" opacity="0.78"/><circle cx="127.7" cy="10.8" r="0.70" fill="#b0606a" opacity="0.51"/><circle cx="95.8" cy="6.7" r="0.64" fill="#a8525a" opacity="0.50"/><circle cx="50.7" cy="69.2" r="0.46" fill="#b0606a" opacity="0.50"/><circle cx="92.8" cy="68.4" r="0.38" fill="#9c4850" opacity="0.67"/><circle cx="76.3" cy="18.5" r="0.45" fill="#9c4850" opacity="0.88"/><circle cx="65.8" cy="92.9" r="0.56" fill="#c08088" opacity="0.59"/><circle cx="115.2" cy="70.8" r="0.40" fill="#9c4850" opacity="0.63"/><circle cx="123.8" cy="71.5" r="0.36" fill="#c08088" opacity="0.78"/><circle cx="16.0" cy="10.6" r="0.50" fill="#b87078" opacity="0.82"/><circle cx="119.6" cy="75.5" r="0.61" fill="#9c4850" opacity="0.64"/><circle cx="28.7" cy="43.4" r="0.42" fill="#a8525a" opacity="0.49"/><circle cx="4.4" cy="22.5" r="0.67" fill="#9c4850" opacity="0.78"/><circle cx="63.9" cy="52.1" r="0.51" fill="#b0606a" opacity="0.81"/><circle cx="4.9" cy="91.2" r="0.63" fill="#c08088" opacity="0.63"/><circle cx="4.9" cy="91.1" r="0.63" fill="#9c4850" opacity="0.45"/><circle cx="119.8" cy="29.1" r="0.38" fill="#c08088" opacity="0.54"/><circle cx="62.4" cy="10.8" r="0.39" fill="#b87078" opacity="0.87"/><circle cx="46.8" cy="56.7" r="0.43" fill="#c08088" opacity="0.66"/><circle cx="96.9" cy="63.9" r="0.62" fill="#b87078" opacity="0.82"/><circle cx="15.8" cy="28.0" r="0.73" fill="#a8525a" opacity=".85"/><circle cx="131.0" cy="44.9" r="1.00" fill="#a8525a" opacity=".85"/><circle cx="129.1" cy="62.1" r="1.06" fill="#9c4850" opacity=".85"/><circle cx="119.6" cy="55.4" r="1.12" fill="#9c4850" opacity=".85"/><circle cx="19.5" cy="16.0" r="1.16" fill="#9c4850" opacity=".85"/><circle cx="30.0" cy="65.8" r="1.02" fill="#9c4850" opacity=".85"/><circle cx="22.6" cy="75.4" r="1.15" fill="#b0606a" opacity=".85"/><circle cx="79.2" cy="87.6" r="0.77" fill="#a8525a" opacity=".85"/><circle cx="48.2" cy="23.9" r="1.04" fill="#a8525a" opacity=".85"/><circle cx="105.8" cy="7.2" r="0.81" fill="#a8525a" opacity=".85"/><circle cx="21.9" cy="52.9" r="0.87" fill="#9c4850" opacity=".85"/><circle cx="106.1" cy="85.9" r="0.97" fill="#b0606a" opacity=".85"/><circle cx="59.7" cy="29.9" r="1.06" fill="#b0606a" opacity=".85"/><circle cx="119.4" cy="19.9" r="1.14" fill="#b0606a" opacity=".85"/><circle cx="99.5" cy="2.4" r="1.22" fill="#9c4850" opacity=".85"/><circle cx="64.4" cy="52.2" r="1.08" fill="#a8525a" opacity=".85"/><circle cx="23.3" cy="84.3" r="1.24" fill="#a8525a" opacity=".85"/><circle cx="68.5" cy="63.1" r="1.03" fill="#a8525a" opacity=".85"/><circle cx="122.7" cy="61.3" r="0.89" fill="#a8525a" opacity=".85"/><circle cx="55.8" cy="73.3" r="1.13" fill="#b0606a" opacity=".85"/><circle cx="35.2" cy="82.5" r="1.13" fill="#9c4850" opacity=".85"/><circle cx="80.5" cy="67.7" r="1.10" fill="#9c4850" opacity=".85"/><circle cx="46.5" cy="78.1" r="0.89" fill="#a8525a" opacity=".85"/><circle cx="129.4" cy="47.1" r="0.85" fill="#9c4850" opacity=".85"/><circle cx="86.1" cy="44.7" r="0.85" fill="#a8525a" opacity=".85"/><circle cx="133.8" cy="52.1" r="0.72" fill="#a8525a" opacity=".85"/><circle cx="100.0" cy="18.8" r="0.84" fill="#9c4850" opacity=".85"/><circle cx="131.9" cy="48.2" r="0.86" fill="#a8525a" opacity=".85"/><circle cx="57.7" cy="22.9" r="1.25" fill="#9c4850" opacity=".85"/><circle cx="80.5" cy="14.2" r="1.10" fill="#b0606a" opacity=".85"/><circle cx="75.7" cy="73.1" r="1.21" fill="#9c4850" opacity=".85"/><circle cx="17.0" cy="92.6" r="0.87" fill="#a8525a" opacity=".85"/><circle cx="104.4" cy="29.6" r="0.88" fill="#9c4850" opacity=".85"/><circle cx="45.8" cy="53.6" r="0.97" fill="#b0606a" opacity=".85"/><circle cx="116.1" cy="81.8" r="0.89" fill="#a8525a" opacity=".85"/><circle cx="31.5" cy="26.4" r="0.76" fill="#9c4850" opacity=".85"/><circle cx="70.7" cy="14.8" r="0.99" fill="#b0606a" opacity=".85"/><circle cx="84.0" cy="8.7" r="1.14" fill="#b0606a" opacity=".85"/><circle cx="26.3" cy="31.4" r="0.85" fill="#b0606a" opacity=".85"/><circle cx="39.7" cy="45.5" r="0.76" fill="#9c4850" opacity=".85"/><circle cx="113.7" cy="49.2" r="1.22" fill="#a8525a" opacity=".85"/><circle cx="55.7" cy="38.9" r="0.70" fill="#9c4850" opacity=".85"/><circle cx="119.3" cy="6.5" r="0.82" fill="#b0606a" opacity=".85"/><circle cx="35.9" cy="47.8" r="1.23" fill="#a8525a" opacity=".85"/><circle cx="68.6" cy="82.8" r="0.96" fill="#9c4850" opacity=".85"/><circle cx="19.8" cy="2.1" r="1.15" fill="#a8525a" opacity=".85"/><circle cx="33.5" cy="41.6" r="1.23" fill="#a8525a" opacity=".85"/><circle cx="133.5" cy="69.3" r="1.00" fill="#b0606a" opacity=".85"/><circle cx="14.5" cy="75.8" r="0.74" fill="#9c4850" opacity=".85"/><circle cx="91.6" cy="17.1" r="0.94" fill="#a8525a" opacity=".85"/><circle cx="34.0" cy="63.6" r="0.80" fill="#9c4850" opacity=".85"/><circle cx="106.6" cy="19.8" r="1.02" fill="#b0606a" opacity=".85"/><circle cx="84.8" cy="33.9" r="0.77" fill="#9c4850" opacity=".85"/><circle cx="69.6" cy="29.3" r="0.76" fill="#b0606a" opacity=".85"/><circle cx="108.8" cy="18.0" r="1.25" fill="#9c4850" opacity=".85"/><circle cx="82.0" cy="6.6" r="0.93" fill="#9c4850" opacity=".85"/><circle cx="46.6" cy="18.6" r="1.01" fill="#a8525a" opacity=".85"/><circle cx="74.2" cy="15.6" r="1.06" fill="#b0606a" opacity=".85"/><circle cx="39.6" cy="72.8" r="1.12" fill="#a8525a" opacity=".85"/><circle cx="104.1" cy="61.3" r="1.22" fill="#a8525a" opacity=".85"/><circle cx="126.0" cy="76.9" r="0.85" fill="#9c4850" opacity=".85"/><circle cx="49.3" cy="11.5" r="0.71" fill="#b0606a" opacity=".85"/><circle cx="130.6" cy="60.6" r="0.89" fill="#a8525a" opacity=".85"/><circle cx="16.6" cy="49.0" r="0.74" fill="#9c4850" opacity=".85"/><circle cx="71.9" cy="59.1" r="1.09" fill="#9c4850" opacity=".85"/><circle cx="92.2" cy="66.5" r="1.09" fill="#9c4850" opacity=".85"/><circle cx="36.7" cy="40.6" r="1.02" fill="#b0606a" opacity=".85"/><circle cx="114.9" cy="48.1" r="0.77" fill="#a8525a" opacity=".85"/><circle cx="90.3" cy="49.7" r="1.09" fill="#b0606a" opacity=".85"/><circle cx="41.8" cy="59.7" r="0.89" fill="#b0606a" opacity=".85"/><circle cx="85.7" cy="43.2" r="1.10" fill="#b0606a" opacity=".85"/><circle cx="21.5" cy="9.3" r="1.03" fill="#9c4850" opacity=".85"/><circle cx="32.9" cy="49.2" r="0.80" fill="#9c4850" opacity=".85"/><circle cx="40.7" cy="91.3" r="0.99" fill="#a8525a" opacity=".85"/><circle cx="5.1" cy="69.4" r="1.00" fill="#9c4850" opacity=".85"/><circle cx="100.5" cy="39.9" r="1.19" fill="#a8525a" opacity=".85"/><circle cx="5.1" cy="41.7" r="0.85" fill="#a8525a" opacity=".85"/><circle cx="24.0" cy="68.5" r="1.05" fill="#b0606a" opacity=".85"/><circle cx="48.6" cy="14.3" r="0.73" fill="#b0606a" opacity=".85"/><circle cx="101.6" cy="67.1" r="1.24" fill="#a8525a" opacity=".85"/><circle cx="107.5" cy="68.2" r="1.16" fill="#9c4850" opacity=".85"/><circle cx="37.8" cy="81.8" r="1.03" fill="#9c4850" opacity=".85"/><circle cx="110.3" cy="31.4" r="0.79" fill="#a8525a" opacity=".85"/><circle cx="16.4" cy="55.4" r="1.25" fill="#b0606a" opacity=".85"/><circle cx="55.3" cy="20.1" r="1.06" fill="#9c4850" opacity=".85"/><circle cx="73.6" cy="14.7" r="0.97" fill="#9c4850" opacity=".85"/><circle cx="43.4" cy="50.8" r="0.87" fill="#a8525a" opacity=".85"/><circle cx="113.3" cy="77.2" r="0.92" fill="#a8525a" opacity=".85"/><circle cx="128.8" cy="23.9" r="0.86" fill="#a8525a" opacity=".85"/><circle cx="37.5" cy="88.9" r="0.94" fill="#b0606a" opacity=".85"/><circle cx="82.8" cy="81.7" r="1.25" fill="#b0606a" opacity=".85"/><circle cx="41.6" cy="4.2" r="0.95" fill="#a8525a" opacity=".85"/><circle cx="23.0" cy="62.3" r="1.17" fill="#b0606a" opacity=".85"/><circle cx="134.1" cy="77.2" r="0.86" fill="#a8525a" opacity=".85"/><circle cx="56.2" cy="82.1" r="1.12" fill="#b0606a" opacity=".85"/><circle cx="25.0" cy="19.0" r="1.70" fill="#a03840"/><circle cx="12.0" cy="35.0" r="1.50" fill="#a03840"/><circle cx="29.0" cy="10.0" r="1.40" fill="#a03840"/><circle cx="78.0" cy="22.0" r="1.50" fill="#a03840"/><circle cx="125.0" cy="62.0" r="1.80" fill="#a03840"/><circle cx="118.0" cy="88.0" r="1.60" fill="#a03840"/><circle cx="84.0" cy="88.0" r="1.70" fill="#a03840"/><circle cx="50.0" cy="40.0" r="1.30" fill="#a03840"/><circle cx="10.0" cy="56.0" r="1.30" fill="#a03840"/><circle cx="88.0" cy="35.0" r="1.40" fill="#a03840"/><circle cx="112.0" cy="20.0" r="1.40" fill="#a03840"/><circle cx="70.0" cy="60.0" r="1.30" fill="#a03840"/></g>
</svg>
</svg>
</body></html>
